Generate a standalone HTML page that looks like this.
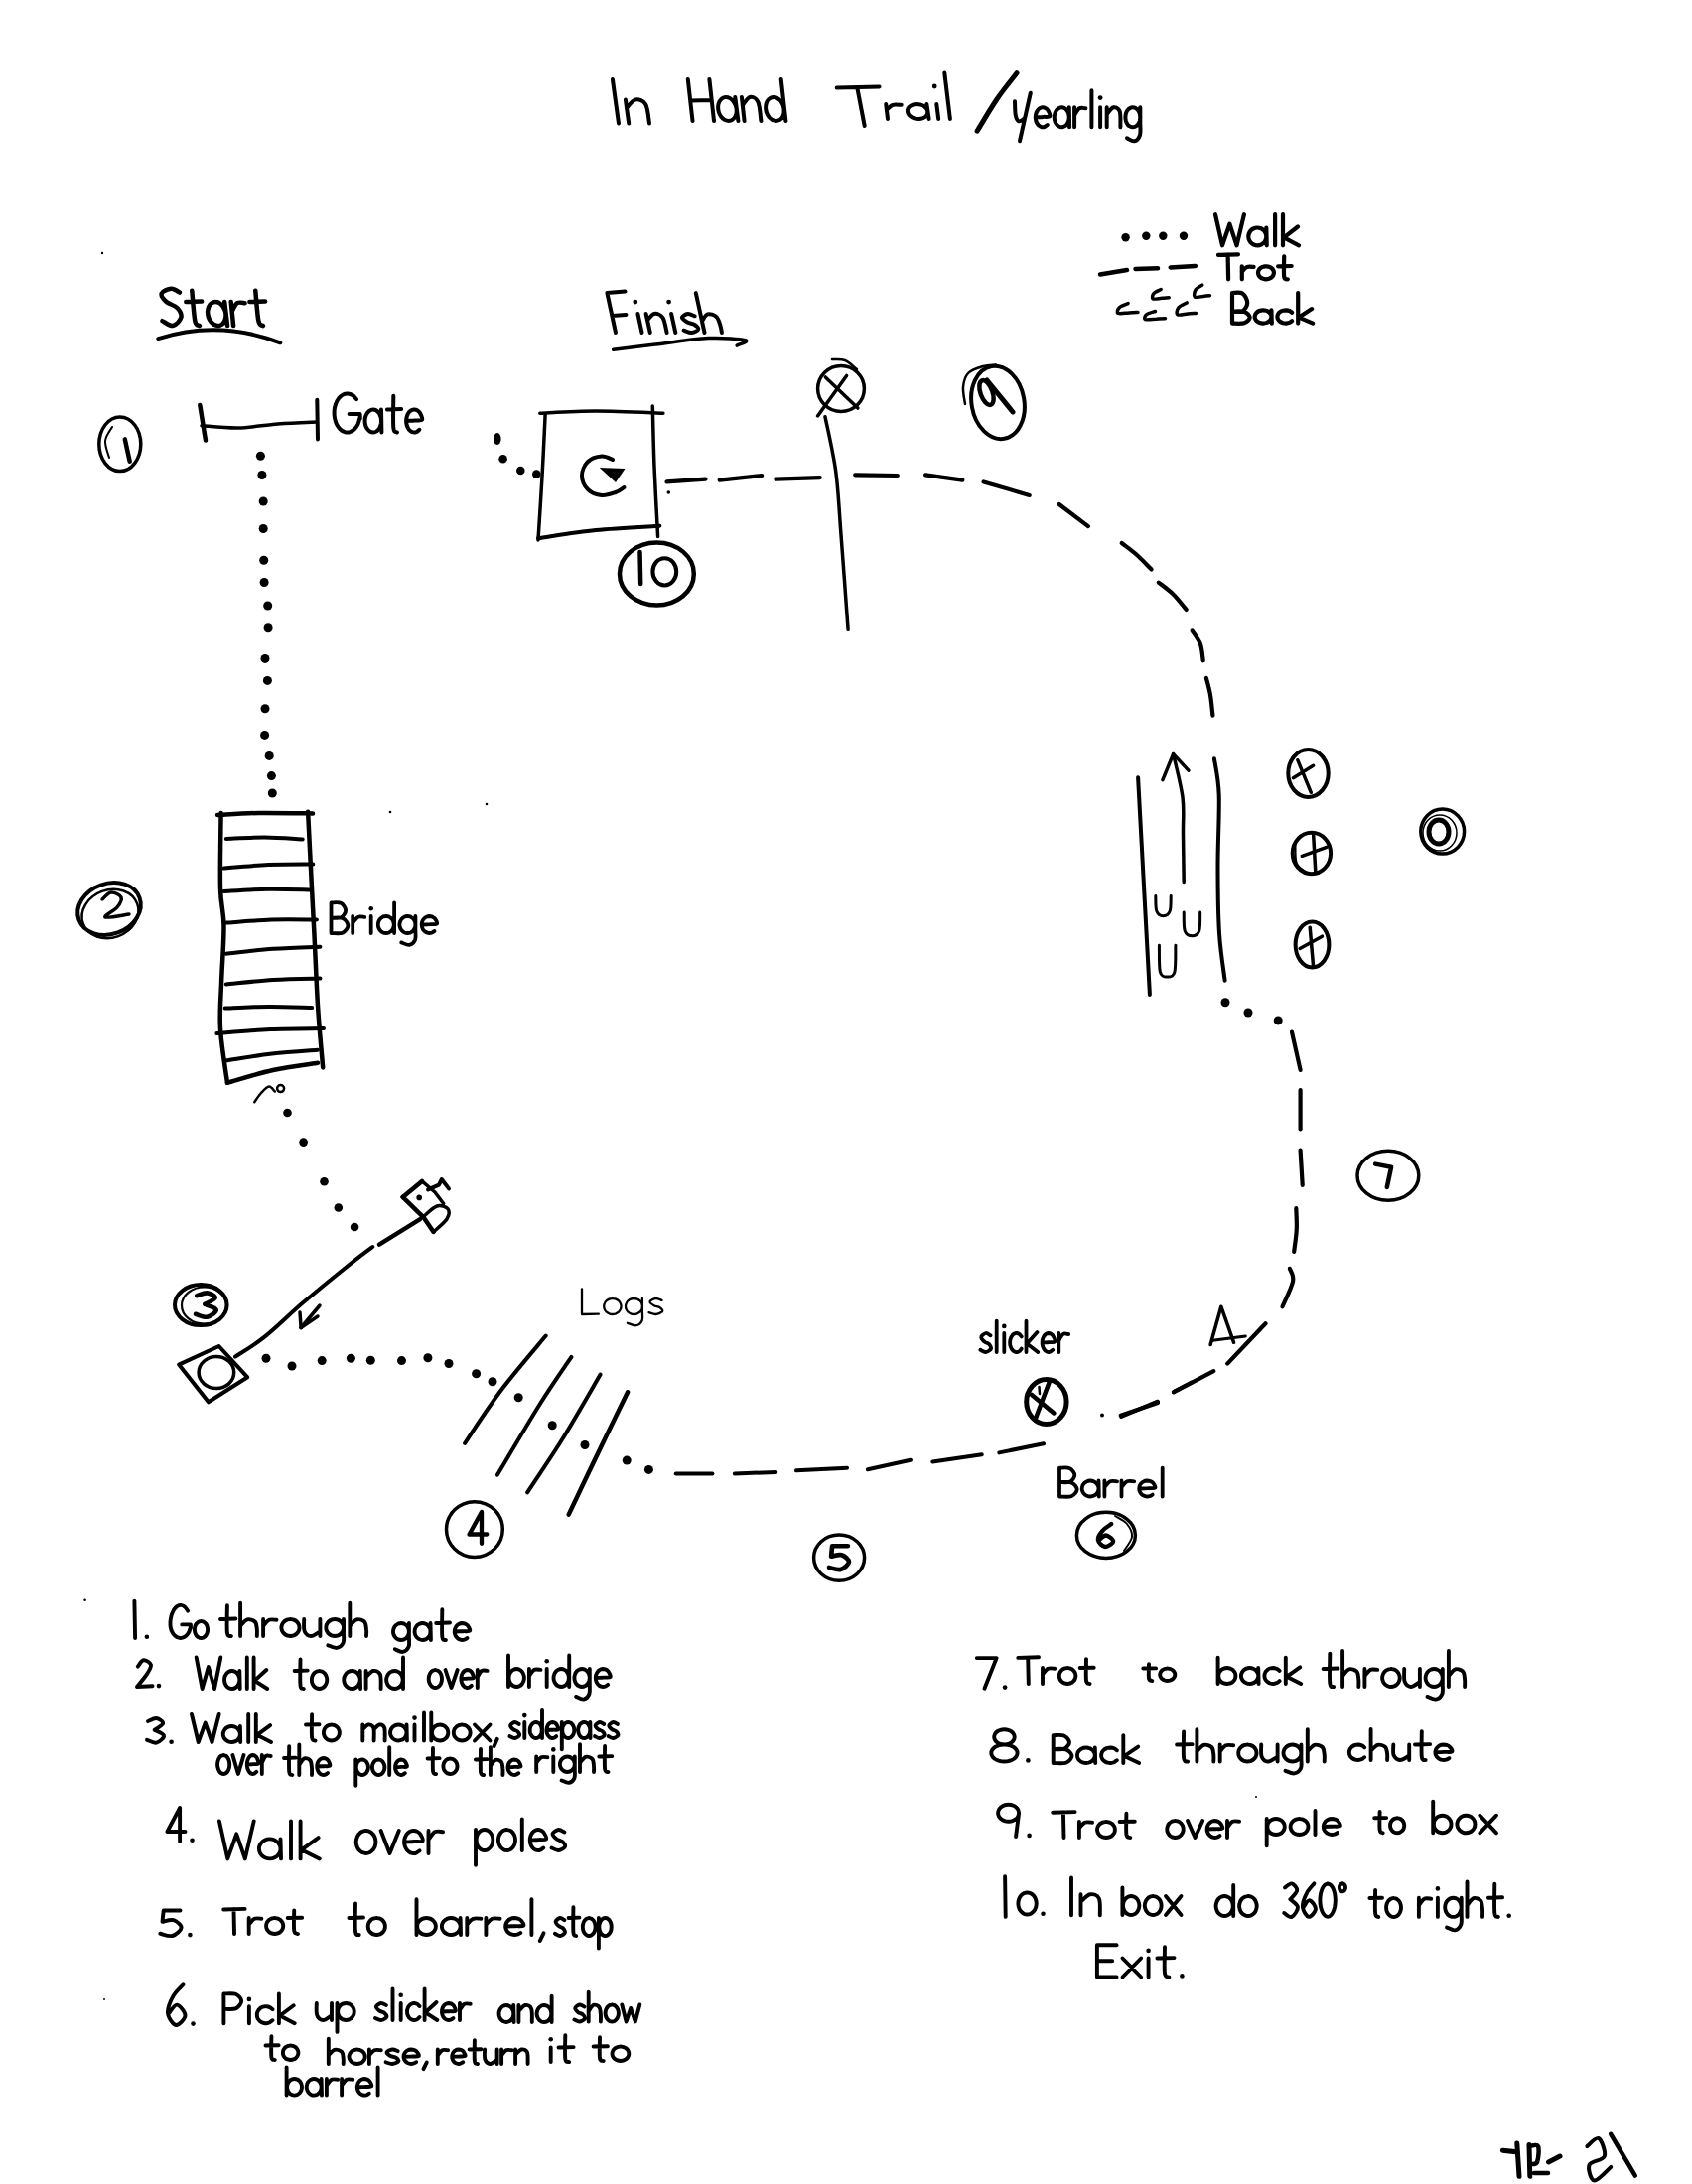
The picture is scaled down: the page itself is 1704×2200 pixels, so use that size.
<!DOCTYPE html>
<html><head><meta charset="utf-8"><style>
html,body{margin:0;padding:0;background:#fff;}
body{width:1704px;height:2200px;overflow:hidden;}
svg{display:block;}
svg path, svg ellipse, svg circle{fill:none;stroke:#000;stroke-linecap:round;stroke-linejoin:round;}
svg .f{fill:#000;stroke:none;}
svg text{font-family:"Liberation Sans",sans-serif;fill:#000;stroke:#000;}
svg text.tl{fill:#333;stroke:none;}
</style></head><body>
<svg width="1704" height="2200" viewBox="0 0 1704 2200">
<rect width="1704" height="2200" fill="#fff"/>
<path d="M616.9,80.1 L623.0,124.5M629.9,100.5 L633.2,124.5M631.0,108.9C632.5,107.5 636.8,101.1 640.0,100.5C643.2,99.9 648.0,101.3 650.3,105.3C652.6,109.3 653.4,121.3 654.0,124.5" stroke-width="4"/>
<path d="M692.8,80.0 L697.5,122.0M714.4,80.0 L719.0,122.0M695.2,101.6 L716.7,100.9M738.6,102.3C738.0,101.7 736.3,99.8 735.0,99.1C733.7,98.3 732.2,98.0 730.9,98.0C729.6,98.0 728.1,98.5 727.0,99.3C725.9,100.1 724.9,101.4 724.3,102.8C723.6,104.1 723.2,105.9 723.1,107.6C723.1,109.3 723.3,111.3 723.8,113.0C724.3,114.6 725.2,116.4 726.2,117.7C727.2,119.0 728.6,120.2 729.9,120.9C731.2,121.7 732.7,122.0 734.0,122.0C735.3,122.0 736.7,121.5 737.8,120.7C738.9,119.9 739.9,118.6 740.6,117.2C741.2,115.9 741.7,114.1 741.7,112.4C741.8,110.7 741.6,108.7 741.0,107.0C740.5,105.4 739.0,103.1 738.6,102.3M740.3,98.0 L743.4,122.0M746.9,98.0 L749.6,122.0M747.8,106.4C749.0,105.0 752.5,98.6 755.1,98.0C757.7,97.4 761.5,98.8 763.4,102.8C765.3,106.8 765.9,118.8 766.4,122.0M789.6,110.0C789.4,109.2 789.0,106.8 788.4,105.4C787.8,104.0 786.9,102.6 786.0,101.5C785.0,100.4 783.8,99.5 782.7,98.9C781.5,98.3 780.2,98.0 779.1,98.0C777.9,98.0 776.7,98.3 775.6,98.9C774.6,99.5 773.6,100.4 772.9,101.5C772.2,102.6 771.7,104.0 771.4,105.4C771.1,106.8 771.0,108.5 771.2,110.0C771.3,111.5 771.8,113.2 772.4,114.6C773.0,116.0 773.9,117.4 774.8,118.5C775.8,119.6 776.9,120.5 778.1,121.1C779.2,121.7 780.6,122.0 781.7,122.0C782.9,122.0 784.1,121.7 785.2,121.1C786.2,120.5 787.1,119.6 787.9,118.5C788.6,117.4 789.1,116.0 789.4,114.6C789.7,113.2 789.6,110.8 789.6,110.0M786.7,80.0 L791.4,122.0" stroke-width="4"/>
<path d="M842.7,88.4 L885.6,87.4M863.2,87.9 L870.7,127.0" stroke-width="4"/>
<circle cx="941.2" cy="87.0" r="2.4" class="f"/>
<path d="M892.2,105.0 L894.0,120.0M892.9,111.0C893.9,110.1 896.6,106.6 899.1,105.8C901.5,104.9 906.2,105.8 907.7,105.8M931.3,107.7C930.7,107.3 928.9,106.1 927.5,105.7C926.1,105.2 924.4,105.0 922.9,105.0C921.5,105.0 919.9,105.3 918.7,105.8C917.4,106.3 916.2,107.1 915.4,108.0C914.7,108.8 914.1,110.0 913.9,111.0C913.8,112.1 914.0,113.3 914.5,114.4C914.9,115.4 915.8,116.5 916.9,117.3C917.9,118.2 919.3,118.9 920.7,119.3C922.1,119.8 923.8,120.0 925.3,120.0C926.7,120.0 928.3,119.7 929.6,119.2C930.8,118.7 932.0,117.9 932.8,117.0C933.6,116.2 934.1,115.0 934.3,114.0C934.4,112.9 934.2,111.7 933.8,110.6C933.3,109.6 931.7,108.2 931.3,107.7M933.4,105.0 L935.6,120.0M943.3,105.0 L945.2,120.0M951.3,73.5 L956.9,120.0" stroke-width="4"/>
<path d="M1024.0,73.7C1020.7,78.1 1010.6,90.2 1004.0,100.0C997.4,109.8 987.4,126.8 984.1,132.2" stroke-width="5"/>
<circle cx="1108.1" cy="98.6" r="2.4" class="f"/>
<path d="M1022.0,102.2C1022.1,104.6 1022.1,113.0 1022.8,116.3C1023.5,119.6 1024.6,121.8 1026.2,122.3C1027.7,122.8 1031.0,119.8 1032.0,119.3M1037.8,93.7 L1027.0,142.3M1043.6,118.3C1044.8,118.2 1048.4,118.1 1050.6,117.9C1052.9,117.7 1056.5,118.4 1057.3,117.3C1058.1,116.2 1056.1,112.7 1055.4,111.3C1054.6,110.0 1053.8,109.5 1052.8,109.0C1051.9,108.5 1050.8,108.2 1049.8,108.3C1048.8,108.4 1047.7,108.8 1046.8,109.4C1045.9,110.0 1045.1,110.9 1044.5,112.0C1043.8,113.0 1043.3,114.4 1043.1,115.7C1042.8,117.0 1042.7,118.5 1042.9,119.9C1043.1,121.2 1043.5,122.7 1044.0,123.8C1044.6,124.9 1045.4,126.0 1046.2,126.7C1047.0,127.5 1048.1,128.0 1049.1,128.2C1050.1,128.4 1051.2,128.3 1052.1,127.9C1053.1,127.5 1054.4,126.3 1054.8,126.0M1075.0,111.9C1074.6,111.4 1073.3,109.8 1072.4,109.2C1071.4,108.6 1070.2,108.3 1069.1,108.3C1068.0,108.3 1066.8,108.7 1065.9,109.4C1064.9,110.1 1064.0,111.1 1063.3,112.3C1062.6,113.4 1062.1,114.9 1061.9,116.3C1061.7,117.7 1061.7,119.4 1062.0,120.8C1062.3,122.2 1062.8,123.6 1063.5,124.7C1064.2,125.8 1065.2,126.8 1066.2,127.4C1067.2,128.0 1068.4,128.3 1069.5,128.3C1070.5,128.3 1071.7,127.9 1072.7,127.2C1073.7,126.5 1074.6,125.5 1075.2,124.3C1075.9,123.2 1076.4,121.7 1076.6,120.3C1076.8,118.9 1076.8,117.2 1076.5,115.8C1076.3,114.4 1075.3,112.5 1075.0,111.9M1076.8,108.3 L1077.1,128.3M1082.1,108.3 L1082.1,128.3M1082.1,116.3C1082.9,115.1 1085.2,110.5 1087.1,109.3C1089.0,108.1 1092.4,109.3 1093.4,109.3M1099.4,91.3 L1099.4,128.3M1108.1,108.3 L1108.1,128.3M1114.7,108.3 L1114.7,128.3M1114.7,115.3C1115.8,114.1 1119.2,108.8 1121.4,108.3C1123.5,107.8 1126.5,109.0 1127.7,112.3C1128.9,115.6 1128.3,125.6 1128.4,128.3M1148.3,118.3C1148.2,117.7 1148.1,115.7 1147.8,114.5C1147.4,113.3 1146.8,112.1 1146.1,111.2C1145.5,110.3 1144.6,109.5 1143.7,109.1C1142.8,108.6 1141.8,108.3 1140.8,108.3C1139.9,108.3 1138.9,108.6 1138.0,109.1C1137.1,109.5 1136.2,110.3 1135.5,111.2C1134.9,112.1 1134.3,113.3 1133.9,114.5C1133.6,115.7 1133.4,117.0 1133.4,118.3C1133.4,119.6 1133.6,120.9 1133.9,122.1C1134.3,123.3 1134.9,124.5 1135.5,125.4C1136.2,126.3 1137.1,127.1 1138.0,127.5C1138.9,128.0 1139.9,128.3 1140.8,128.3C1141.8,128.3 1142.8,128.0 1143.7,127.5C1144.6,127.1 1145.5,126.3 1146.1,125.4C1146.8,124.5 1147.4,123.3 1147.8,122.1C1148.1,120.9 1148.2,118.9 1148.3,118.3M1148.3,108.3C1148.3,111.0 1148.4,119.6 1148.3,124.3C1148.3,129.0 1149.0,133.3 1148.0,136.3C1147.0,139.3 1144.7,141.8 1142.5,142.3C1140.3,142.8 1136.3,139.8 1135.0,139.3" stroke-width="4"/>
<path d="M180.9,294.6C179.5,293.9 175.4,290.6 172.4,290.8C169.4,291.0 163.5,293.3 162.7,295.5C161.9,297.7 165.0,301.6 167.6,304.0C170.3,306.4 175.9,307.4 178.4,310.0C180.8,312.6 183.1,316.6 182.4,319.6C181.7,322.6 177.3,327.4 174.1,328.0C171.0,328.6 165.3,324.0 163.5,323.2M193.3,292.7C193.8,297.8 195.1,317.3 196.3,323.2C197.6,329.1 200.1,327.2 200.9,328.0M187.3,304.0 L203.1,303.6M224.5,308.3C223.9,307.7 222.2,305.8 221.0,305.1C219.7,304.3 218.2,304.0 216.9,304.0C215.6,304.0 214.2,304.5 213.1,305.3C212.0,306.1 211.0,307.4 210.3,308.8C209.7,310.1 209.2,311.9 209.1,313.6C209.0,315.3 209.3,317.3 209.8,319.0C210.3,320.6 211.1,322.4 212.1,323.7C213.1,325.0 214.4,326.2 215.7,326.9C216.9,327.7 218.4,328.0 219.8,328.0C221.1,328.0 222.5,327.5 223.6,326.7C224.7,325.9 225.7,324.6 226.3,323.2C227.0,321.9 227.4,320.1 227.5,318.4C227.6,316.7 227.4,314.7 226.9,313.0C226.4,311.4 224.9,309.1 224.5,308.3M226.2,304.0 L229.1,328.0M232.7,304.0 L235.1,328.0M233.7,313.6C234.6,312.2 236.8,306.6 238.9,305.2C241.1,303.8 245.3,305.2 246.6,305.2M257.3,292.7C257.8,297.8 259.1,317.3 260.4,323.2C261.7,329.1 264.2,327.2 264.9,328.0M251.4,304.0 L267.1,303.6" stroke-width="4.5"/>
<path d="M159.3,341.2 Q220,321.5 282.3,345.3" stroke-width="4"/>
<ellipse cx="120.8" cy="447.3" rx="21.0" ry="27.3" stroke-width="3.5"/>
<path d="M125.8,442.4L130.7,464.7" stroke-width="4.5"/>
<path d="M113.0,430.0C111.8,432.3 106.5,438.8 106.0,444.0C105.5,449.2 109.3,458.2 110.0,461.0" stroke-width="2"/>
<path d="M201.3,408.0L207.0,443.5" stroke-width="4.5"/>
<path d="M203.0,428.7C209.2,429.1 227.2,431.3 240.0,431.0C252.8,430.7 266.8,428.0 280.0,427.0C293.2,426.0 312.8,425.3 319.3,425.0" stroke-width="3.5"/>
<path d="M319.3,402.7L320.0,442.4" stroke-width="4"/>
<path d="M359.1,402.1C358.4,401.4 356.5,399.0 355.0,398.0C353.6,397.1 351.8,396.5 350.2,396.4C348.6,396.3 346.9,396.7 345.4,397.5C343.9,398.3 342.4,399.6 341.1,401.1C339.9,402.7 338.8,404.7 338.1,406.8C337.3,408.9 336.8,411.4 336.6,413.8C336.5,416.1 336.6,418.7 337.0,421.0C337.4,423.3 338.2,425.6 339.1,427.6C340.1,429.5 341.4,431.2 342.7,432.5C344.1,433.8 345.7,434.7 347.3,435.2C348.9,435.6 350.6,435.6 352.2,435.2C353.8,434.7 355.4,433.8 356.8,432.5C358.1,431.2 359.4,429.5 360.4,427.6C361.3,425.6 362.1,422.1 362.5,421.0M362.8,421.7 L362.6,417.1 L351.6,417.1M382.1,416.6C381.6,416.1 380.3,414.2 379.2,413.5C378.1,412.8 376.8,412.5 375.6,412.5C374.4,412.5 373.1,413.0 372.0,413.8C371.0,414.5 369.9,415.7 369.2,417.1C368.5,418.4 367.9,420.1 367.7,421.7C367.5,423.4 367.5,425.2 367.8,426.8C368.1,428.4 368.7,430.1 369.5,431.4C370.2,432.7 371.3,433.8 372.4,434.5C373.5,435.2 374.8,435.5 376.0,435.5C377.2,435.5 378.5,435.0 379.5,434.2C380.6,433.5 381.6,432.3 382.4,430.9C383.1,429.6 383.6,427.9 383.9,426.3C384.1,424.6 384.1,422.8 383.8,421.2C383.5,419.6 382.4,417.4 382.1,416.6M384.0,412.5 L384.4,435.5M396.3,398.7C396.3,404.1 395.7,424.8 396.3,430.9C396.9,437.0 399.4,434.7 400.0,435.5M389.9,412.5 L404.2,412.0M410.1,424.0C411.3,423.9 415.2,423.7 417.8,423.5C420.3,423.3 424.2,424.1 425.1,422.9C426.0,421.6 423.8,417.6 423.0,416.0C422.2,414.4 421.2,413.9 420.2,413.3C419.2,412.7 417.9,412.4 416.8,412.5C415.8,412.6 414.6,413.0 413.6,413.7C412.6,414.4 411.6,415.5 410.9,416.7C410.3,418.0 409.7,419.5 409.4,421.0C409.1,422.5 409.1,424.3 409.2,425.8C409.4,427.4 409.9,429.0 410.5,430.3C411.1,431.6 411.9,432.9 412.9,433.7C413.8,434.5 414.9,435.2 416.0,435.4C417.1,435.6 418.3,435.5 419.4,435.1C420.5,434.6 421.9,433.2 422.4,432.8" stroke-width="4"/>
<circle cx="262.4" cy="459.2" r="4.5" class="f"/>
<circle cx="263.9" cy="478.5" r="4.5" class="f"/>
<circle cx="265.2" cy="505.0" r="4.5" class="f"/>
<circle cx="265.2" cy="532.5" r="4.5" class="f"/>
<circle cx="265.7" cy="564.2" r="4.5" class="f"/>
<circle cx="266.1" cy="586.5" r="4.5" class="f"/>
<circle cx="269.7" cy="610.0" r="4.5" class="f"/>
<circle cx="270.1" cy="632.7" r="4.5" class="f"/>
<circle cx="267.0" cy="663.4" r="4.5" class="f"/>
<circle cx="269.4" cy="685.4" r="4.5" class="f"/>
<circle cx="267.0" cy="713.8" r="4.5" class="f"/>
<circle cx="266.6" cy="740.4" r="4.5" class="f"/>
<circle cx="271.2" cy="761.4" r="4.5" class="f"/>
<circle cx="273.4" cy="781.6" r="4.5" class="f"/>
<circle cx="274.3" cy="799.0" r="4.5" class="f"/>
<path d="M222.6,818.9C222.5,831.5 221.5,875.7 222.0,894.6C222.5,913.5 225.3,916.7 225.5,932.4C225.7,948.1 223.7,971.7 223.1,989.0C222.5,1006.3 221.0,1019.4 222.0,1036.4C223.0,1053.4 227.8,1081.7 229.0,1090.8" stroke-width="4.5"/>
<path d="M310.1,817.7C310.8,830.5 312.9,873.9 314.0,894.6C315.1,915.3 315.5,922.1 316.5,941.8C317.5,961.5 318.6,990.5 320.0,1012.8C321.4,1035.1 324.3,1065.0 325.2,1075.4" stroke-width="4.5"/>
<path d="M219.0,821.0C225.8,820.7 244.0,819.2 260.0,819.0C276.0,818.8 305.8,819.4 315.0,819.5" stroke-width="4.5"/>
<path d="M227.8,844.9C234.2,844.7 253.4,843.6 266.2,843.6C279.1,843.7 298.3,845.1 304.7,845.4" stroke-width="4"/>
<path d="M225.5,874.5C233.0,873.9 255.4,871.6 270.4,871.0C285.4,870.3 307.8,870.5 315.3,870.4" stroke-width="4"/>
<path d="M225.5,898.0C232.9,897.6 255.0,896.0 269.8,895.8C284.6,895.5 306.7,896.4 314.1,896.5" stroke-width="4"/>
<path d="M227.8,929.6C235.4,929.1 258.2,927.1 273.4,926.5C288.5,926.0 311.3,926.5 318.9,926.5" stroke-width="4"/>
<path d="M227.8,960.8C235.7,960.0 259.3,956.9 275.1,955.8C290.9,954.6 314.5,954.0 322.4,953.7" stroke-width="4"/>
<path d="M227.8,991.5C235.7,990.8 259.3,988.0 275.1,987.0C290.9,986.1 314.5,985.8 322.4,985.6" stroke-width="4"/>
<path d="M226.7,1015.6C234.0,1015.3 255.8,1013.9 270.4,1013.9C285.0,1013.8 306.8,1014.9 314.1,1015.1" stroke-width="4"/>
<path d="M218.4,1041.1C227.4,1040.4 254.3,1037.9 272.2,1037.0C290.1,1036.2 317.0,1036.2 326.0,1036.0" stroke-width="4"/>
<path d="M227.8,1068.3C235.5,1067.2 258.5,1063.3 273.9,1061.5C289.3,1059.7 312.3,1058.3 320.0,1057.7" stroke-width="4"/>
<path d="M229.0,1090.8C236.7,1088.7 259.8,1081.3 275.0,1078.0C290.2,1074.7 312.5,1071.9 320.0,1070.7" stroke-width="4.5"/>
<circle cx="373.7" cy="915.2" r="2.3" class="f"/>
<path d="M333.5,909.4 L333.5,940.0M333.5,909.4C335.1,909.5 340.8,908.5 343.3,909.8C345.7,911.1 348.1,914.7 348.1,917.2C348.1,919.6 345.7,923.1 343.3,924.4C340.8,925.6 335.1,924.6 333.5,924.7M333.5,924.7C335.4,924.8 342.2,923.8 345.0,925.0C347.9,926.3 350.4,929.9 350.4,932.4C350.4,934.8 347.9,938.4 345.0,939.7C342.2,940.9 335.4,939.9 333.5,940.0M355.2,923.0 L355.2,940.0M355.2,929.8C356.1,928.8 358.5,924.8 360.5,923.9C362.5,922.9 366.1,923.9 367.3,923.9M373.7,923.0 L373.7,940.0M396.8,931.5C396.7,931.0 396.5,929.2 396.1,928.2C395.8,927.2 395.1,926.3 394.4,925.5C393.7,924.7 392.8,924.1 391.8,923.6C390.9,923.2 389.8,923.0 388.8,923.0C387.7,923.0 386.6,923.2 385.7,923.6C384.8,924.1 383.8,924.7 383.1,925.5C382.4,926.3 381.8,927.2 381.4,928.2C381.0,929.2 380.8,930.4 380.8,931.5C380.8,932.6 381.0,933.8 381.4,934.8C381.8,935.8 382.4,936.7 383.1,937.5C383.8,938.3 384.8,938.9 385.7,939.4C386.6,939.8 387.7,940.0 388.8,940.0C389.8,940.0 390.9,939.8 391.8,939.4C392.8,938.9 393.7,938.3 394.4,937.5C395.1,936.7 395.8,935.8 396.1,934.8C396.5,933.8 396.7,932.0 396.8,931.5M397.1,909.4 L397.1,940.0M418.4,931.5C418.3,931.0 418.2,929.2 417.8,928.2C417.4,927.2 416.8,926.3 416.1,925.5C415.4,924.7 414.4,924.1 413.5,923.6C412.6,923.2 411.5,923.0 410.4,923.0C409.4,923.0 408.3,923.2 407.4,923.6C406.4,924.1 405.5,924.7 404.8,925.5C404.1,926.3 403.4,927.2 403.1,928.2C402.7,929.2 402.4,930.4 402.4,931.5C402.4,932.6 402.7,933.8 403.1,934.8C403.4,935.8 404.1,936.7 404.8,937.5C405.5,938.3 406.4,938.9 407.4,939.4C408.3,939.8 409.4,940.0 410.4,940.0C411.5,940.0 412.6,939.8 413.5,939.4C414.4,938.9 415.4,938.3 416.1,937.5C416.8,936.7 417.4,935.8 417.8,934.8C418.2,933.8 418.3,932.0 418.4,931.5M418.4,923.0C418.4,925.3 418.5,932.6 418.4,936.6C418.4,940.6 419.1,944.2 418.1,946.8C417.0,949.3 414.5,951.5 412.2,951.9C409.9,952.3 405.6,949.8 404.2,949.4M425.5,931.5C426.8,931.4 430.6,931.3 433.0,931.2C435.4,931.0 439.3,931.6 440.1,930.6C441.0,929.7 438.9,926.8 438.1,925.6C437.3,924.4 436.3,924.0 435.4,923.6C434.4,923.2 433.2,923.0 432.1,923.0C431.1,923.1 429.9,923.4 429.0,923.9C428.0,924.4 427.1,925.2 426.4,926.1C425.7,927.0 425.2,928.2 424.9,929.3C424.6,930.4 424.6,931.7 424.8,932.9C424.9,934.0 425.4,935.2 425.9,936.2C426.5,937.1 427.4,938.0 428.3,938.7C429.2,939.3 430.3,939.7 431.3,939.9C432.4,940.1 433.6,940.0 434.6,939.7C435.6,939.4 437.0,938.3 437.5,938.0" stroke-width="3.8"/>
<ellipse cx="110.0" cy="915.5" rx="32.5" ry="25.5" stroke-width="4" transform="rotate(-20 110.0 915.5)"/>
<ellipse cx="111.0" cy="920.5" rx="29.0" ry="24.0" stroke-width="2.5" transform="rotate(-20 111.0 920.5)"/>
<path d="M103.0,906.0C104.5,904.8 108.8,899.3 112.0,899.0C115.2,898.7 121.0,901.5 122.0,904.0C123.0,906.5 120.7,910.7 118.0,914.0C115.3,917.3 104.0,922.8 106.0,924.0C108.0,925.2 126.0,921.5 130.0,921.0" stroke-width="3.5"/>
<path d="M256.3,1110.2C257.4,1108.7 260.6,1103.6 263.0,1101.0C265.4,1098.4 268.6,1094.8 270.9,1094.6C273.2,1094.3 275.8,1098.7 276.8,1099.5" stroke-width="2.5"/>
<circle cx="282.6" cy="1096.6" r="3.5" stroke-width="2.5"/>
<circle cx="289.5" cy="1121.0" r="4.3" class="f"/>
<circle cx="305.6" cy="1150.6" r="4.3" class="f"/>
<circle cx="326.5" cy="1190.2" r="4.3" class="f"/>
<circle cx="340.8" cy="1216.5" r="4.3" class="f"/>
<circle cx="357.1" cy="1236.0" r="4.3" class="f"/>
<path d="M405.6,1205.9 L425.0,1189.9" stroke-width="4.5"/>
<path d="M405.6,1205.9 L426.9,1226.7 L436.6,1240.9" stroke-width="4.5"/>
<path d="M425.0,1189.9 L438.0,1201.0 L446.7,1212.5" stroke-width="3.5"/>
<path d="M427.0,1225.0C429.2,1223.3 436.0,1216.2 440.0,1215.0C444.0,1213.8 449.3,1215.6 451.0,1217.8C452.7,1220.0 452.4,1224.2 450.0,1228.0C447.6,1231.8 438.8,1238.8 436.6,1240.9" stroke-width="3.5"/>
<path d="M431.1,1198.4 L442.0,1193.6 L444.8,1188.0 L452.0,1197.4" stroke-width="4"/>
<circle cx="422.2" cy="1206.4" r="2.8" class="f"/>
<path d="M423.1,1228.2 L382.0,1253.6" stroke-width="4.5"/>
<path d="M375.3,1256.0C370.7,1259.5 359.4,1267.8 347.7,1277.2C336.0,1286.6 318.6,1300.8 305.1,1312.3C291.6,1323.8 278.2,1337.4 266.8,1346.4C255.5,1355.5 242.0,1363.2 237.0,1366.6" stroke-width="4"/>
<path d="M322.0,1315.0 L303.1,1337.5" stroke-width="3.5"/>
<path d="M303.1,1337.5 L302.0,1322.0" stroke-width="3.5"/>
<path d="M303.1,1337.5 L320.0,1326.0" stroke-width="3.5"/>
<ellipse cx="202.3" cy="1314.6" rx="26.3" ry="20.5" stroke-width="4"/>
<ellipse cx="205.5" cy="1315.0" rx="22.5" ry="18.5" stroke-width="2.2"/>
<path d="M198.2,1305.2C199.9,1304.8 205.5,1302.0 208.6,1302.4C211.7,1302.7 217.1,1305.5 216.7,1307.4C216.3,1309.3 208.0,1312.8 206.3,1313.8M206.3,1313.8C208.2,1314.8 217.5,1317.4 217.8,1319.5C218.2,1321.7 212.1,1326.0 208.6,1326.7C205.1,1327.4 198.9,1324.3 197.0,1323.8" stroke-width="4.6"/>
<path d="M180.1,1374.6 L220.5,1356.0 L249.3,1387.3 L209.9,1412.3Z" stroke-width="4"/>
<ellipse cx="217.9" cy="1382.6" rx="17.8" ry="16.0" stroke-width="3.5"/>
<circle cx="268.0" cy="1368.3" r="4.5" class="f"/>
<circle cx="294.0" cy="1376.0" r="4.5" class="f"/>
<circle cx="324.2" cy="1370.6" r="4.5" class="f"/>
<circle cx="353.4" cy="1368.3" r="4.5" class="f"/>
<circle cx="373.3" cy="1370.2" r="4.5" class="f"/>
<circle cx="404.5" cy="1370.6" r="4.5" class="f"/>
<circle cx="430.9" cy="1367.7" r="4.5" class="f"/>
<circle cx="452.0" cy="1373.5" r="4.5" class="f"/>
<circle cx="479.6" cy="1383.7" r="4.5" class="f"/>
<circle cx="496.0" cy="1391.7" r="4.5" class="f"/>
<circle cx="522.2" cy="1407.7" r="4.5" class="f"/>
<circle cx="556.2" cy="1435.7" r="4.5" class="f"/>
<circle cx="589.0" cy="1455.5" r="4.5" class="f"/>
<circle cx="631.2" cy="1471.1" r="4.5" class="f"/>
<circle cx="653.4" cy="1480.4" r="4.5" class="f"/>
<path d="M549.7,1345.6C542.2,1354.7 518.6,1382.0 505.0,1400.0C491.4,1418.0 474.2,1444.8 468.1,1453.8" stroke-width="4"/>
<path d="M575.4,1366.9C570.1,1374.9 555.9,1395.0 543.5,1414.8C531.1,1434.6 508.0,1473.9 500.9,1485.7" stroke-width="4"/>
<path d="M604.6,1384.6C598.5,1395.0 580.2,1427.2 568.0,1447.0C555.8,1466.8 537.2,1494.0 531.1,1503.4" stroke-width="4"/>
<path d="M632.1,1402.3C627.6,1411.6 614.9,1437.5 605.0,1458.0C595.1,1478.5 578.1,1514.3 572.7,1525.6" stroke-width="4.5"/>
<path d="M586.0,1298.4 L586.0,1324.0 L602.9,1323.7M616.8,1308.0C616.3,1308.1 614.6,1308.2 613.5,1308.6C612.5,1309.0 611.5,1309.6 610.7,1310.3C609.9,1311.1 609.3,1312.0 608.9,1312.9C608.4,1313.9 608.2,1315.0 608.2,1316.0C608.2,1317.0 608.4,1318.1 608.9,1319.1C609.3,1320.0 609.9,1320.9 610.7,1321.7C611.5,1322.4 612.5,1323.0 613.5,1323.4C614.6,1323.8 615.7,1324.0 616.8,1324.0C617.9,1324.0 619.1,1323.8 620.2,1323.4C621.2,1323.0 622.2,1322.4 623.0,1321.7C623.7,1320.9 624.4,1320.0 624.8,1319.1C625.3,1318.1 625.5,1317.0 625.5,1316.0C625.5,1315.0 625.3,1313.9 624.8,1312.9C624.4,1312.0 623.7,1311.1 623.0,1310.3C622.2,1309.6 621.2,1309.0 620.2,1308.6C619.1,1308.2 617.4,1308.1 616.8,1308.0M646.9,1316.0C646.8,1315.5 646.7,1313.9 646.3,1312.9C645.9,1312.0 645.2,1311.1 644.5,1310.3C643.7,1309.6 642.7,1309.0 641.7,1308.6C640.7,1308.2 639.6,1308.0 638.5,1308.0C637.4,1308.0 636.2,1308.2 635.2,1308.6C634.2,1309.0 633.3,1309.6 632.5,1310.3C631.7,1311.1 631.1,1312.0 630.7,1312.9C630.2,1313.9 630.0,1315.0 630.0,1316.0C630.0,1317.0 630.2,1318.1 630.7,1319.1C631.1,1320.0 631.7,1320.9 632.5,1321.7C633.3,1322.4 634.2,1323.0 635.2,1323.4C636.2,1323.8 637.4,1324.0 638.5,1324.0C639.6,1324.0 640.7,1323.8 641.7,1323.4C642.7,1323.0 643.7,1322.4 644.5,1321.7C645.2,1320.9 645.9,1320.0 646.3,1319.1C646.7,1318.1 646.8,1316.5 646.9,1316.0M646.9,1308.0C646.9,1310.1 647.0,1317.1 646.9,1320.8C646.9,1324.5 647.7,1328.0 646.6,1330.4C645.5,1332.8 642.8,1334.8 640.4,1335.2C637.9,1335.6 633.3,1333.2 631.9,1332.8M666.5,1309.9C665.5,1309.6 662.5,1307.8 660.5,1308.0C658.5,1308.2 654.8,1310.0 654.5,1311.2C654.1,1312.4 656.9,1314.2 658.6,1315.2C660.3,1316.2 663.2,1316.3 664.6,1317.3C666.0,1318.3 667.7,1320.0 667.1,1321.1C666.4,1322.2 662.7,1323.8 660.5,1324.0C658.2,1324.2 654.7,1322.4 653.5,1322.1" stroke-width="2.3"/>
<ellipse cx="477.9" cy="1540.6" rx="28.4" ry="27.9" stroke-width="3.5"/>
<path d="M485.0,1554.8 L485.0,1523.0 L472.6,1545.5 L490.3,1545.5" stroke-width="4.3"/>
<path d="M680.7,1484.5 L717.4,1484.5" stroke-width="4"/>
<path d="M739.8,1484.5 L781.3,1482.9" stroke-width="4"/>
<path d="M802.0,1481.3 L853.1,1478.7" stroke-width="4"/>
<path d="M873.9,1480.3 L917.0,1470.8" stroke-width="4"/>
<path d="M939.3,1472.4 L988.8,1465.3" stroke-width="4"/>
<path d="M1006.3,1463.4 L1051.0,1454.2" stroke-width="4"/>
<path d="M1129.2,1427.0 L1165.9,1411.7" stroke-width="4"/>
<path d="M1181.9,1402.1 L1200.0,1392.6" stroke-width="4"/>
<circle cx="1110.0" cy="1425.4" r="2" class="f"/>
<circle cx="1011.3" cy="1335.9" r="2.3" class="f"/>
<path d="M997.5,1345.3C996.7,1344.9 994.4,1342.7 992.8,1343.0C991.3,1343.3 988.4,1345.4 988.2,1346.8C987.9,1348.2 990.1,1350.3 991.4,1351.5C992.7,1352.8 995.0,1352.8 996.1,1354.0C997.2,1355.2 998.5,1357.2 998.0,1358.6C997.4,1359.9 994.6,1361.8 992.8,1362.0C991.1,1362.2 988.3,1360.1 987.4,1359.7M1003.7,1330.7 L1003.7,1362.0M1011.3,1343.0 L1011.3,1362.0M1028.7,1346.4C1028.4,1346.0 1027.4,1344.6 1026.7,1344.0C1025.9,1343.4 1025.0,1343.1 1024.1,1343.0C1023.2,1342.9 1022.3,1343.1 1021.5,1343.6C1020.6,1344.0 1019.8,1344.7 1019.2,1345.6C1018.6,1346.5 1018.0,1347.6 1017.7,1348.7C1017.3,1349.9 1017.1,1351.2 1017.1,1352.5C1017.1,1353.8 1017.3,1355.1 1017.7,1356.3C1018.0,1357.4 1018.6,1358.5 1019.2,1359.4C1019.8,1360.3 1020.6,1361.0 1021.5,1361.4C1022.3,1361.9 1023.2,1362.1 1024.1,1362.0C1025.0,1361.9 1025.9,1361.6 1026.7,1361.0C1027.4,1360.4 1028.4,1359.0 1028.7,1358.6M1033.5,1330.7 L1033.5,1362.0M1044.5,1342.1 L1034.2,1353.5 L1045.2,1362.0M1050.3,1352.5C1051.3,1352.4 1054.5,1352.3 1056.5,1352.1C1058.5,1352.0 1061.6,1352.6 1062.3,1351.5C1063.0,1350.5 1061.3,1347.2 1060.6,1345.9C1060.0,1344.6 1059.2,1344.1 1058.4,1343.7C1057.6,1343.2 1056.6,1343.0 1055.7,1343.0C1054.9,1343.1 1053.9,1343.4 1053.1,1344.0C1052.4,1344.6 1051.6,1345.5 1051.0,1346.5C1050.5,1347.5 1050.0,1348.8 1049.8,1350.0C1049.6,1351.3 1049.5,1352.7 1049.7,1354.0C1049.8,1355.3 1050.2,1356.6 1050.7,1357.7C1051.1,1358.8 1051.8,1359.8 1052.6,1360.5C1053.3,1361.2 1054.2,1361.7 1055.1,1361.9C1056.0,1362.1 1056.9,1362.0 1057.8,1361.6C1058.6,1361.3 1059.8,1360.1 1060.2,1359.8M1066.3,1343.0 L1066.3,1362.0M1066.3,1350.6C1067.0,1349.5 1069.0,1345.1 1070.7,1344.0C1072.3,1342.8 1075.3,1344.0 1076.2,1344.0" stroke-width="3.8"/>
<ellipse cx="1053.9" cy="1412.0" rx="20.2" ry="22.5" stroke-width="5"/>
<path d="M1057.2,1391.0 L1043.2,1428.0" stroke-width="4.5"/>
<path d="M1039.0,1405.0 L1061.4,1423.4" stroke-width="4.5"/>
<path d="M1046.5,1397.0 L1047.0,1404.0" stroke-width="2.5"/>
<path d="M1067.0,1478.7 L1067.0,1507.5M1067.0,1478.7C1068.7,1478.8 1074.7,1477.8 1077.2,1479.1C1079.8,1480.3 1082.3,1483.7 1082.3,1486.0C1082.3,1488.3 1079.8,1491.6 1077.2,1492.8C1074.7,1494.0 1068.7,1493.0 1067.0,1493.1M1067.0,1493.1C1069.0,1493.2 1076.1,1492.2 1079.1,1493.4C1082.0,1494.6 1084.7,1498.0 1084.7,1500.3C1084.7,1502.6 1082.0,1506.0 1079.1,1507.2C1076.1,1508.4 1069.0,1507.4 1067.0,1507.5M1104.5,1494.4C1104.0,1494.0 1102.6,1492.7 1101.5,1492.2C1100.4,1491.7 1099.1,1491.5 1097.9,1491.5C1096.7,1491.5 1095.3,1491.9 1094.3,1492.4C1093.2,1492.9 1092.1,1493.7 1091.4,1494.7C1090.7,1495.6 1090.1,1496.8 1089.9,1497.9C1089.6,1499.0 1089.7,1500.4 1090.0,1501.5C1090.3,1502.6 1090.9,1503.8 1091.7,1504.6C1092.4,1505.5 1093.5,1506.3 1094.6,1506.8C1095.7,1507.3 1097.1,1507.5 1098.3,1507.5C1099.5,1507.5 1100.8,1507.1 1101.9,1506.6C1103.0,1506.1 1104.0,1505.3 1104.8,1504.3C1105.5,1503.4 1106.0,1502.2 1106.3,1501.1C1106.5,1500.0 1106.5,1498.6 1106.2,1497.5C1105.9,1496.4 1104.8,1494.9 1104.5,1494.4M1106.5,1491.5 L1106.8,1507.5M1112.4,1491.5 L1112.4,1507.5M1112.4,1497.9C1113.3,1497.0 1115.9,1493.2 1118.0,1492.3C1120.1,1491.4 1123.9,1492.3 1125.1,1492.3M1129.5,1491.5 L1129.5,1507.5M1129.5,1497.9C1130.5,1497.0 1133.0,1493.2 1135.1,1492.3C1137.2,1491.4 1141.0,1492.3 1142.2,1492.3M1148.1,1499.5C1149.4,1499.4 1153.4,1499.3 1155.9,1499.2C1158.5,1499.0 1162.5,1499.6 1163.4,1498.7C1164.3,1497.8 1162.1,1495.0 1161.3,1493.9C1160.4,1492.8 1159.5,1492.5 1158.4,1492.1C1157.4,1491.7 1156.2,1491.5 1155.0,1491.5C1153.9,1491.6 1152.7,1491.9 1151.7,1492.4C1150.7,1492.8 1149.7,1493.6 1149.0,1494.4C1148.3,1495.3 1147.8,1496.4 1147.5,1497.4C1147.2,1498.5 1147.1,1499.7 1147.3,1500.8C1147.5,1501.9 1147.9,1503.0 1148.6,1503.9C1149.2,1504.8 1150.0,1505.7 1151.0,1506.2C1151.9,1506.8 1153.1,1507.3 1154.2,1507.4C1155.3,1507.6 1156.6,1507.5 1157.6,1507.2C1158.7,1506.9 1160.1,1505.9 1160.7,1505.6M1170.7,1478.7 L1170.7,1507.5" stroke-width="3.8"/>
<ellipse cx="845.1" cy="1569.1" rx="25.5" ry="23.1" stroke-width="3.5"/>
<path d="M853.9,1557.2 L838.1,1557.2 L837.1,1567.7M837.1,1567.7C838.9,1567.5 844.6,1565.4 847.6,1566.3C850.6,1567.2 855.1,1570.8 855.0,1573.3C854.8,1575.8 849.9,1580.1 846.5,1581.0C843.2,1581.9 836.9,1579.2 835.0,1578.9" stroke-width="4.6"/>
<ellipse cx="1113.9" cy="1546.4" rx="29.5" ry="23.1" stroke-width="3.5"/>
<path d="M1123.0,1527.0C1125.0,1528.3 1132.2,1531.5 1135.0,1535.0C1137.8,1538.5 1140.5,1543.5 1140.0,1548.0C1139.5,1552.5 1133.3,1559.7 1132.0,1562.0" stroke-width="2"/>
<path d="M1119.3,1535.0C1117.8,1536.2 1112.6,1539.1 1110.4,1541.8C1108.1,1544.5 1105.4,1548.5 1105.9,1551.2C1106.3,1554.0 1110.5,1557.8 1113.1,1558.0C1115.6,1558.2 1121.0,1554.5 1121.1,1552.6C1121.3,1550.7 1116.3,1546.8 1113.9,1546.5C1111.6,1546.3 1108.0,1550.5 1106.8,1551.2" stroke-width="4.3"/>
<path d="M1301.0,1039.6L1309.6,1077.9" stroke-width="4.2"/>
<path d="M1309.6,1098.0L1309.6,1137.4" stroke-width="4.2"/>
<path d="M1309.6,1158.7L1311.7,1193.8" stroke-width="4.2"/>
<path d="M1305.3,1217.2C1305.4,1220.7 1306.1,1230.7 1305.8,1238.0C1305.5,1245.3 1303.6,1257.1 1303.2,1260.9" stroke-width="4.2"/>
<path d="M1298.9,1277.9C1299.4,1280.0 1303.3,1284.2 1302.1,1290.6C1300.9,1297.0 1293.3,1311.9 1291.5,1316.2" stroke-width="4.2"/>
<path d="M1274.5,1333.2L1236.2,1373.6" stroke-width="4.2"/>
<path d="M1222.3,1381.1L1181.9,1402.3" stroke-width="4.2"/>
<path d="M1166.0,1413.0L1128.7,1425.7" stroke-width="4.2"/>
<path d="M1219.1,1354.5 L1229.8,1316.2 L1242.6,1352.3" stroke-width="3.5"/>
<path d="M1221.3,1350.2 L1254.3,1346.0" stroke-width="3"/>
<ellipse cx="1397.9" cy="1184.3" rx="30.9" ry="25.0" stroke-width="3.5"/>
<path d="M1385.1,1172.6 L1401.1,1175.7 L1396.8,1196.0" stroke-width="4.5"/>
<circle cx="1234.0" cy="1009.8" r="4.5" class="f"/>
<circle cx="1257.0" cy="1020.0" r="4.5" class="f"/>
<circle cx="1287.2" cy="1027.9" r="4.5" class="f"/>
<path d="M1146.1,783.2C1146.7,794.0 1148.4,826.3 1149.6,848.2C1150.8,870.1 1151.8,888.8 1153.2,914.4C1154.6,940.0 1157.1,987.3 1157.9,1001.9" stroke-width="4"/>
<path d="M1222.9,764.3C1223.7,770.4 1227.1,783.0 1227.7,800.9C1228.3,818.8 1226.5,848.6 1226.5,871.8C1226.5,895.0 1226.8,920.7 1228.0,940.0C1229.2,959.3 1232.7,979.8 1233.6,987.7" stroke-width="4"/>
<path d="M1192.2,888.4C1192.1,880.3 1191.7,854.2 1191.5,840.0C1191.3,825.8 1192.7,816.7 1191.0,803.3C1189.3,789.9 1183.2,766.9 1181.6,759.6" stroke-width="3.5"/>
<path d="M1170.9,785.6 L1181.6,759.6 L1196.9,776.1" stroke-width="3.5"/>
<path d="M1163.8,902.6C1164.0,905.1 1163.5,914.4 1164.8,917.7C1166.1,921.1 1169.3,922.7 1171.5,922.7C1173.7,922.7 1176.9,921.1 1178.2,917.7C1179.5,914.4 1179.0,905.1 1179.2,902.6" stroke-width="3"/>
<path d="M1192.2,919.1C1192.4,922.2 1191.8,933.8 1193.2,937.8C1194.6,941.8 1198.0,942.8 1200.5,942.8C1202.9,942.8 1206.3,941.8 1207.7,937.8C1209.1,933.8 1208.5,922.2 1208.7,919.1" stroke-width="3"/>
<path d="M1167.4,952.2C1167.6,956.7 1167.0,973.8 1168.4,979.1C1169.8,984.4 1173.2,984.1 1175.7,984.1C1178.1,984.1 1181.5,984.4 1182.9,979.1C1184.3,973.8 1183.7,956.7 1183.9,952.2" stroke-width="3"/>
<ellipse cx="1317.5" cy="779.0" rx="20.2" ry="23.9" stroke-width="4"/>
<path d="M1306.8,765.7 L1320.3,798.3" stroke-width="3.5"/>
<path d="M1302.4,783.7 L1322.6,771.3" stroke-width="3.5"/>
<ellipse cx="1320.9" cy="859.5" rx="19.2" ry="20.8" stroke-width="4"/>
<path d="M1304.5,850.0C1304.8,853.3 1303.8,865.0 1306.0,870.0C1308.2,875.0 1316.0,878.3 1318.0,880.0" stroke-width="2"/>
<path d="M1322.6,839.8 L1324.8,878.0" stroke-width="3.5"/>
<path d="M1311.3,862.3 L1336.0,853.3" stroke-width="3.5"/>
<ellipse cx="1321.5" cy="951.5" rx="16.9" ry="23.0" stroke-width="4"/>
<path d="M1319.2,934.2 L1322.6,973.5" stroke-width="3.5"/>
<path d="M1309.1,955.5 L1331.5,943.2" stroke-width="3.5"/>
<ellipse cx="1452.7" cy="837.6" rx="21.9" ry="22.5" stroke-width="3.5"/>
<ellipse cx="1450.0" cy="839.0" rx="17.0" ry="18.0" stroke-width="1.5"/>
<ellipse cx="1449.0" cy="838.0" rx="10.0" ry="12.0" stroke-width="5"/>
<path d="M671.5,485.4L710.5,482.6" stroke-width="4.2"/>
<path d="M724.7,483.6L767.2,479.0" stroke-width="4.2"/>
<path d="M781.4,482.6L825.7,481.1" stroke-width="4.2"/>
<path d="M861.2,478.3L903.8,479.0" stroke-width="4.2"/>
<path d="M932.1,478.3L969.4,483.6" stroke-width="4.2"/>
<path d="M990.6,485.4L1036.7,498.9" stroke-width="4.2"/>
<path d="M1066.7,508.0L1095.9,530.1" stroke-width="4.2"/>
<path d="M1129.7,547.0C1132.2,549.0 1140.0,554.6 1145.0,559.0C1150.0,563.4 1157.2,571.2 1159.6,573.6" stroke-width="4.2"/>
<path d="M1166.8,586.6C1169.2,588.5 1176.3,593.5 1181.0,598.0C1185.7,602.5 1192.4,611.2 1194.7,613.9" stroke-width="4.2"/>
<path d="M1200.6,635.4C1202.0,637.7 1207.2,644.0 1209.0,649.0C1210.8,654.0 1211.2,662.6 1211.7,665.3" stroke-width="4.2"/>
<path d="M1214.9,682.9C1215.6,685.8 1217.9,693.7 1219.0,700.0C1220.1,706.3 1221.0,717.2 1221.4,720.6" stroke-width="4.2"/>
<circle cx="673.3" cy="496.0" r="1.8" class="f"/>
<ellipse cx="847.0" cy="391.4" rx="23.4" ry="23.0" stroke-width="3.5"/>
<path d="M831.3,379.9 L863.9,411.1" stroke-width="3.5"/>
<path d="M852.6,378.4 L823.5,418.9" stroke-width="3.5"/>
<path d="M838.0,362.0C840.2,362.2 846.8,361.3 851.0,363.0C855.2,364.7 861.0,370.5 863.0,372.0" stroke-width="2.5"/>
<path d="M831.0,419.8C832.8,429.0 839.0,455.0 841.7,474.8C844.4,494.6 844.9,512.0 847.0,538.6C849.1,565.2 852.9,618.3 854.1,634.3" stroke-width="3.5"/>
<ellipse cx="1005.0" cy="405.4" rx="26.5" ry="37.0" stroke-width="4" transform="rotate(-10 1005.0 405.4)"/>
<path d="M972.0,407.0C971.7,404.2 969.5,395.2 970.0,390.0C970.5,384.8 971.7,379.5 975.0,376.0C978.3,372.5 985.3,370.4 990.0,369.0C994.7,367.6 1000.8,367.8 1003.0,367.5" stroke-width="2.5"/>
<ellipse cx="993.5" cy="395.5" rx="6.0" ry="13.0" stroke-width="4.5" transform="rotate(-20 993.5 395.5)"/>
<path d="M994.0,383.0 L1020.0,415.0" stroke-width="5"/>
<path d="M543.8,416.2C553.2,415.8 579.3,414.0 600.0,414.0C620.7,414.0 656.6,415.8 667.9,416.2" stroke-width="3.5"/>
<path d="M549.1,418.0C548.6,428.3 547.2,459.0 546.0,480.0C544.8,501.0 542.7,533.2 542.0,543.9" stroke-width="3.5"/>
<path d="M542.0,542.1C551.7,540.8 579.6,536.1 600.0,534.0C620.4,531.9 653.7,530.4 664.4,529.7" stroke-width="4"/>
<path d="M657.3,409.1C657.6,419.2 658.1,448.1 659.0,470.0C659.9,491.9 662.0,528.7 662.6,540.4" stroke-width="3.5"/>
<path d="M617.0,463.0C615.2,462.4 610.2,459.2 606.0,459.5C601.8,459.8 595.3,461.8 592.0,465.0C588.7,468.2 586.0,474.3 586.0,479.0C586.0,483.7 588.7,489.7 592.0,493.0C595.3,496.3 601.3,498.5 606.0,499.0C610.7,499.5 616.2,497.3 620.0,496.0C623.8,494.7 627.1,491.8 628.5,491.0" stroke-width="4"/>
<path d="M603.7,471 L629.5,472 L620,486 Z" class="f"/>
<ellipse cx="500.8" cy="442" rx="3.8" ry="6" class="f"/>
<circle cx="506.6" cy="462.3" r="4.3" class="f"/>
<circle cx="524.3" cy="474.0" r="4.3" class="f"/>
<circle cx="540.3" cy="477.6" r="4.3" class="f"/>
<ellipse cx="661.4" cy="577.9" rx="37.4" ry="31.5" stroke-width="4.5"/>
<path d="M644.5,556.0L645.2,588.0" stroke-width="4.5"/>
<ellipse cx="669.3" cy="575.8" rx="11.9" ry="13.6" stroke-width="4"/>
<circle cx="639.8" cy="304.1" r="2.4" class="f"/>
<circle cx="673.6" cy="304.1" r="2.4" class="f"/>
<path d="M611.4,295.1 L620.0,335.0M611.4,295.1 L629.5,293.6M616.3,317.9 L630.5,316.9M642.4,316.0 L646.5,335.0M650.6,316.0 L654.8,335.0M652.1,322.6C653.2,321.5 656.3,316.5 658.9,316.0C661.4,315.5 665.4,316.6 667.5,319.8C669.6,323.0 670.9,332.5 671.6,335.0M676.1,316.0 L680.3,335.0M699.7,318.3C698.5,317.9 694.7,315.7 692.6,316.0C690.5,316.3 686.9,318.4 686.8,319.8C686.8,321.2 690.3,323.3 692.4,324.6C694.5,325.8 697.7,325.8 699.5,327.0C701.3,328.2 703.6,330.2 703.2,331.6C702.7,332.9 699.1,334.8 696.7,335.0C694.3,335.2 690.0,333.1 688.6,332.7M700.8,295.1 L709.5,335.0M707.0,323.6C707.9,322.4 710.2,317.2 712.6,316.4C715.0,315.6 719.3,317.0 721.4,318.9C723.5,320.7 724.4,324.7 725.3,327.4C726.2,330.1 726.7,333.7 726.9,335.0" stroke-width="4"/>
<path d="M617.7,352.3C624.8,351.4 644.0,348.9 660.0,347.0C676.0,345.1 698.3,341.3 713.4,340.6C728.5,339.9 745.8,341.6 750.6,342.8C755.4,344.1 743.5,347.2 742.1,348.1" stroke-width="3.5"/>
<circle cx="1133.6" cy="239.2" r="4.2" class="f"/>
<circle cx="1154.3" cy="237.7" r="4.2" class="f"/>
<circle cx="1171.3" cy="237.7" r="4.2" class="f"/>
<circle cx="1192.0" cy="237.7" r="4.2" class="f"/>
<path d="M1224.0,216.2 L1231.0,247.3 L1238.4,225.7 L1245.5,247.3 L1252.9,216.2M1273.2,232.7C1272.6,232.3 1271.2,230.8 1270.0,230.3C1268.8,229.8 1267.4,229.5 1266.1,229.5C1264.8,229.5 1263.4,229.9 1262.2,230.5C1261.0,231.1 1259.9,232.0 1259.1,233.0C1258.4,234.1 1257.8,235.4 1257.5,236.6C1257.2,237.9 1257.3,239.3 1257.6,240.6C1257.9,241.8 1258.6,243.1 1259.4,244.1C1260.3,245.1 1261.4,246.0 1262.6,246.5C1263.8,247.0 1265.2,247.3 1266.5,247.3C1267.8,247.3 1269.2,246.9 1270.4,246.3C1271.6,245.7 1272.7,244.8 1273.5,243.8C1274.2,242.7 1274.8,241.4 1275.1,240.2C1275.4,238.9 1275.3,237.5 1275.0,236.2C1274.7,235.0 1273.5,233.3 1273.2,232.7M1275.3,229.5 L1275.7,247.3M1284.1,216.2 L1284.1,247.3M1292.0,216.2 L1292.0,247.3M1307.0,228.5 L1293.0,239.3 L1308.0,247.3" stroke-width="4.2"/>
<path d="M1108.0,276.5 L1135.0,272.0" stroke-width="4.5"/>
<path d="M1143.5,270.9 L1166.0,270.2" stroke-width="4.5"/>
<path d="M1178.7,269.4 L1203.8,268.0" stroke-width="4.5"/>
<path d="M1227.0,256.9 L1247.0,256.3M1236.6,256.6 L1237.1,281.3M1250.8,268.3 L1250.8,281.3M1250.8,273.5C1251.7,272.7 1254.0,269.7 1256.0,268.9C1258.0,268.2 1261.5,268.9 1262.6,268.9M1274.9,268.3C1274.4,268.4 1272.8,268.5 1271.9,268.8C1270.9,269.1 1270.0,269.6 1269.3,270.2C1268.6,270.8 1268.0,271.5 1267.6,272.3C1267.2,273.1 1267.0,274.0 1267.0,274.8C1267.0,275.6 1267.2,276.5 1267.6,277.3C1268.0,278.1 1268.6,278.8 1269.3,279.4C1270.0,280.0 1270.9,280.5 1271.9,280.8C1272.8,281.1 1273.9,281.3 1274.9,281.3C1276.0,281.3 1277.1,281.1 1278.0,280.8C1278.9,280.5 1279.9,280.0 1280.6,279.4C1281.3,278.8 1281.9,278.1 1282.3,277.3C1282.7,276.5 1282.9,275.6 1282.9,274.8C1282.9,274.0 1282.7,273.1 1282.3,272.3C1281.9,271.5 1281.3,270.8 1280.6,270.2C1279.9,269.6 1278.9,269.1 1278.0,268.8C1277.1,268.5 1275.5,268.4 1274.9,268.3M1293.2,258.3C1293.2,261.7 1292.6,274.9 1293.2,278.7C1293.8,282.5 1296.1,280.9 1296.7,281.3M1287.1,268.3 L1300.7,268.0" stroke-width="4.2"/>
<path d="M1136.1,305.6C1134.6,306.3 1128.9,308.0 1127.3,309.7C1125.7,311.3 1124.5,314.7 1126.2,315.5C1127.9,316.4 1133.9,315.1 1137.2,314.9C1140.5,314.8 1144.5,314.5 1146.0,314.4" stroke-width="3.5"/>
<path d="M1163.5,313.5C1162.0,314.0 1156.3,315.5 1154.6,316.8C1153.0,318.2 1151.9,320.9 1153.5,321.6C1155.2,322.4 1161.3,321.3 1164.6,321.2C1167.9,321.0 1172.0,320.8 1173.5,320.7" stroke-width="3.5"/>
<path d="M1169.2,291.5C1168.0,292.1 1163.4,293.8 1162.1,295.3C1160.7,296.9 1159.8,300.1 1161.2,300.9C1162.5,301.7 1167.4,300.5 1170.1,300.3C1172.8,300.1 1176.0,299.9 1177.2,299.8" stroke-width="3.5"/>
<path d="M1195.2,304.9C1193.8,305.7 1188.5,307.8 1186.9,309.8C1185.4,311.8 1184.3,315.8 1185.9,316.8C1187.4,317.9 1193.1,316.3 1196.2,316.1C1199.3,315.9 1203.1,315.5 1204.5,315.4" stroke-width="3.5"/>
<path d="M1210.8,287.1C1209.7,287.9 1205.3,290.0 1204.0,292.0C1202.8,294.0 1201.9,298.0 1203.2,299.1C1204.5,300.1 1209.2,298.6 1211.7,298.4C1214.2,298.1 1217.4,297.8 1218.5,297.7" stroke-width="3.5"/>
<path d="M1241.0,295.0 L1241.0,325.6M1241.0,295.0C1242.7,295.1 1248.7,293.9 1251.2,295.5C1253.8,297.2 1256.2,301.9 1256.2,304.9C1256.2,307.9 1253.8,311.9 1251.2,313.4C1248.7,314.8 1242.7,313.6 1241.0,313.6M1241.0,313.6C1243.0,313.7 1250.1,312.9 1253.1,313.9C1256.0,314.9 1258.7,317.7 1258.7,319.6C1258.7,321.5 1256.0,324.3 1253.1,325.3C1250.1,326.3 1243.0,325.6 1241.0,325.6M1278.5,314.7C1278.0,314.4 1276.6,313.3 1275.5,312.9C1274.4,312.5 1273.1,312.3 1271.8,312.3C1270.6,312.3 1269.3,312.6 1268.2,313.0C1267.2,313.5 1266.1,314.2 1265.4,314.9C1264.7,315.7 1264.1,316.7 1263.9,317.6C1263.6,318.6 1263.6,319.7 1263.9,320.6C1264.2,321.5 1264.9,322.5 1265.6,323.2C1266.4,324.0 1267.5,324.6 1268.6,325.0C1269.7,325.4 1271.1,325.6 1272.3,325.6C1273.5,325.6 1274.8,325.3 1275.9,324.9C1276.9,324.4 1278.0,323.7 1278.7,323.0C1279.5,322.2 1280.0,321.2 1280.3,320.3C1280.5,319.3 1280.5,318.2 1280.2,317.3C1279.9,316.4 1278.7,315.1 1278.5,314.7M1280.4,312.3 L1280.8,325.6M1301.1,314.7C1300.7,314.4 1299.5,313.4 1298.5,313.0C1297.5,312.6 1296.3,312.4 1295.2,312.3C1294.1,312.3 1292.9,312.4 1291.9,312.7C1290.8,313.0 1289.8,313.5 1289.0,314.1C1288.2,314.7 1287.5,315.5 1287.1,316.3C1286.6,317.1 1286.4,318.1 1286.4,319.0C1286.4,319.8 1286.6,320.8 1287.1,321.6C1287.5,322.4 1288.2,323.2 1289.0,323.8C1289.8,324.4 1290.8,324.9 1291.9,325.2C1292.9,325.5 1294.1,325.6 1295.2,325.6C1296.3,325.5 1297.5,325.3 1298.5,324.9C1299.5,324.5 1300.7,323.5 1301.1,323.2M1307.2,295.0 L1307.2,325.6M1321.1,311.1 L1308.1,319.6 L1322.1,325.6" stroke-width="4.2"/>
<circle cx="147.9" cy="1648.7" r="2.3" class="f"/>
<path d="M135.4,1612.6 L136.1,1650.0" stroke-width="3.9"/>
<path d="M189.1,1622.6C188.6,1621.9 187.1,1619.4 185.9,1618.5C184.8,1617.5 183.4,1617.0 182.2,1616.9C180.9,1616.8 179.6,1617.2 178.4,1618.0C177.2,1618.7 176.0,1620.0 175.0,1621.6C174.1,1623.2 173.2,1625.2 172.6,1627.3C172.0,1629.4 171.6,1631.9 171.5,1633.9C171.4,1635.9 171.5,1637.6 171.8,1639.3C172.1,1641.0 172.7,1642.7 173.5,1644.1C174.2,1645.5 175.2,1646.8 176.3,1647.8C177.3,1648.7 178.6,1649.4 179.9,1649.7C181.1,1650.1 182.5,1650.1 183.7,1649.7C185.0,1649.4 186.2,1648.7 187.3,1647.8C188.4,1646.8 189.4,1645.5 190.1,1644.1C190.9,1642.7 191.5,1640.1 191.8,1639.3M192.0,1639.8 L191.9,1636.4 L183.2,1636.4M202.5,1633.0C202.1,1633.1 200.7,1633.2 200.0,1633.6C199.2,1634.1 198.4,1634.7 197.8,1635.5C197.2,1636.3 196.7,1637.2 196.4,1638.2C196.1,1639.2 195.9,1640.4 195.9,1641.5C195.9,1642.6 196.1,1643.8 196.4,1644.8C196.7,1645.8 197.2,1646.7 197.8,1647.5C198.4,1648.3 199.2,1648.9 200.0,1649.4C200.7,1649.8 201.7,1650.0 202.5,1650.0C203.3,1650.0 204.2,1649.8 205.0,1649.4C205.8,1648.9 206.6,1648.3 207.2,1647.5C207.8,1646.7 208.3,1645.8 208.6,1644.8C208.9,1643.8 209.1,1642.6 209.1,1641.5C209.1,1640.4 208.9,1639.2 208.6,1638.2C208.3,1637.2 207.8,1636.3 207.2,1635.5C206.6,1634.7 205.8,1634.1 205.0,1633.6C204.2,1633.2 202.9,1633.1 202.5,1633.0" stroke-width="3.9"/>
<path d="M228.9,1617.2C228.9,1621.7 228.2,1639.5 228.9,1644.6C229.5,1649.7 232.2,1647.4 232.8,1648.0M222.0,1631.0 L237.4,1630.5M242.1,1614.8 L242.1,1648.0M242.1,1637.8C243.2,1636.7 246.5,1632.0 249.0,1631.3C251.4,1630.6 255.2,1631.9 256.8,1633.5C258.5,1635.2 258.5,1638.8 258.8,1641.2C259.1,1643.6 258.8,1646.9 258.8,1648.0M265.1,1631.0 L265.1,1648.0M265.1,1637.8C266.1,1636.8 268.8,1632.8 271.0,1631.8C273.2,1630.9 277.2,1631.8 278.5,1631.8M292.5,1631.0C291.9,1631.1 290.1,1631.2 289.0,1631.6C287.9,1632.1 286.9,1632.7 286.1,1633.5C285.2,1634.3 284.5,1635.2 284.1,1636.2C283.7,1637.2 283.4,1638.4 283.4,1639.5C283.4,1640.6 283.7,1641.8 284.1,1642.8C284.5,1643.8 285.2,1644.7 286.1,1645.5C286.9,1646.3 287.9,1646.9 289.0,1647.4C290.1,1647.8 291.3,1648.0 292.5,1648.0C293.6,1648.0 294.9,1647.8 295.9,1647.4C297.0,1646.9 298.1,1646.3 298.9,1645.5C299.7,1644.7 300.4,1643.8 300.8,1642.8C301.3,1641.8 301.5,1640.6 301.5,1639.5C301.5,1638.4 301.3,1637.2 300.8,1636.2C300.4,1635.2 299.7,1634.3 298.9,1633.5C298.1,1632.7 297.0,1632.1 295.9,1631.6C294.9,1631.2 293.0,1631.1 292.5,1631.0M306.2,1631.0C306.3,1633.0 305.5,1640.1 306.6,1642.9C307.8,1645.7 310.6,1647.9 313.1,1648.0C315.6,1648.1 320.2,1644.5 321.6,1643.8M322.4,1631.0 L322.4,1648.0M346.0,1639.5C345.9,1639.0 345.8,1637.2 345.3,1636.2C344.9,1635.2 344.2,1634.3 343.4,1633.5C342.6,1632.7 341.6,1632.1 340.5,1631.6C339.5,1631.2 338.3,1631.0 337.1,1631.0C336.0,1631.0 334.8,1631.2 333.8,1631.6C332.7,1632.1 331.7,1632.7 330.9,1633.5C330.1,1634.3 329.4,1635.2 329.0,1636.2C328.5,1637.2 328.3,1638.4 328.3,1639.5C328.3,1640.6 328.5,1641.8 329.0,1642.8C329.4,1643.8 330.1,1644.7 330.9,1645.5C331.7,1646.3 332.7,1646.9 333.8,1647.4C334.8,1647.8 336.0,1648.0 337.1,1648.0C338.3,1648.0 339.5,1647.8 340.5,1647.4C341.6,1646.9 342.6,1646.3 343.4,1645.5C344.2,1644.7 344.9,1643.8 345.3,1642.8C345.8,1641.8 345.9,1640.0 346.0,1639.5M346.0,1631.0C346.0,1633.3 346.1,1640.6 346.0,1644.6C345.9,1648.6 346.8,1652.2 345.6,1654.8C344.5,1657.3 341.7,1659.5 339.1,1659.9C336.6,1660.3 331.7,1657.8 330.3,1657.3M352.3,1614.8 L352.3,1648.0M352.3,1637.8C353.4,1636.7 356.7,1632.0 359.2,1631.3C361.7,1630.6 365.4,1631.9 367.1,1633.5C368.7,1635.2 368.7,1638.8 369.0,1641.2C369.4,1643.6 369.0,1646.9 369.0,1648.0" stroke-width="3.9"/>
<path d="M411.9,1643.5C411.8,1643.0 411.7,1641.2 411.3,1640.2C410.9,1639.2 410.3,1638.3 409.6,1637.5C408.9,1636.7 407.9,1636.1 407.0,1635.6C406.1,1635.2 405.0,1635.0 404.0,1635.0C402.9,1635.0 401.9,1635.2 400.9,1635.6C400.0,1636.1 399.0,1636.7 398.3,1637.5C397.6,1638.3 397.0,1639.2 396.6,1640.2C396.2,1641.2 396.0,1642.4 396.0,1643.5C396.0,1644.6 396.2,1645.8 396.6,1646.8C397.0,1647.8 397.6,1648.7 398.3,1649.5C399.0,1650.3 400.0,1650.9 400.9,1651.4C401.9,1651.8 402.9,1652.0 404.0,1652.0C405.0,1652.0 406.1,1651.8 407.0,1651.4C407.9,1650.9 408.9,1650.3 409.6,1649.5C410.3,1648.7 410.9,1647.8 411.3,1646.8C411.7,1645.8 411.8,1644.0 411.9,1643.5M411.9,1635.0C411.9,1637.3 412.0,1644.6 411.9,1648.6C411.9,1652.6 412.6,1656.2 411.6,1658.8C410.5,1661.3 408.0,1663.5 405.7,1663.9C403.4,1664.3 399.1,1661.8 397.8,1661.3M431.6,1638.0C431.2,1637.7 429.9,1636.3 428.8,1635.8C427.8,1635.2 426.5,1635.0 425.3,1635.0C424.2,1635.0 422.9,1635.4 421.9,1635.9C420.9,1636.5 419.9,1637.4 419.2,1638.4C418.5,1639.3 418.0,1640.6 417.7,1641.8C417.5,1643.0 417.5,1644.4 417.8,1645.6C418.1,1646.8 418.7,1648.0 419.4,1649.0C420.2,1649.9 421.2,1650.7 422.3,1651.2C423.3,1651.8 424.6,1652.0 425.7,1652.0C426.9,1652.0 428.1,1651.6 429.2,1651.1C430.2,1650.5 431.2,1649.6 431.9,1648.6C432.6,1647.7 433.1,1646.4 433.3,1645.2C433.6,1644.0 433.5,1642.6 433.3,1641.4C433.0,1640.2 431.9,1638.6 431.6,1638.0M433.5,1635.0 L433.9,1652.0M445.3,1621.2C445.3,1625.7 444.8,1643.5 445.3,1648.6C445.9,1653.7 448.3,1651.4 448.9,1652.0M439.2,1635.0 L453.0,1634.5M458.6,1643.5C459.9,1643.4 463.6,1643.3 466.0,1643.2C468.5,1643.0 472.3,1643.6 473.1,1642.7C474.0,1641.7 471.9,1638.8 471.1,1637.6C470.3,1636.4 469.4,1636.0 468.4,1635.6C467.4,1635.2 466.2,1635.0 465.2,1635.0C464.1,1635.1 463.0,1635.4 462.0,1635.9C461.1,1636.4 460.1,1637.2 459.5,1638.1C458.8,1639.0 458.3,1640.2 458.0,1641.3C457.7,1642.4 457.7,1643.7 457.8,1644.9C458.0,1646.0 458.4,1647.2 459.0,1648.2C459.6,1649.1 460.4,1650.0 461.3,1650.7C462.2,1651.3 463.3,1651.7 464.4,1651.9C465.4,1652.1 466.6,1652.0 467.6,1651.7C468.7,1651.4 470.0,1650.3 470.5,1650.0" stroke-width="3.9"/>
<circle cx="160.0" cy="1698.1" r="2.3" class="f"/>
<path d="M138.8,1678.6C139.8,1677.5 142.4,1672.6 144.6,1672.3C146.8,1672.0 151.4,1674.7 152.0,1677.0C152.5,1679.4 150.2,1682.8 147.9,1686.4C145.5,1690.1 139.6,1696.9 138.0,1699.0M138.0,1699.0 L153.6,1698.2" stroke-width="3.9"/>
<path d="M197.7,1669.5 L203.6,1701.0 L209.9,1679.1 L216.0,1701.0 L222.3,1669.5M239.5,1686.2C239.1,1685.8 237.8,1684.3 236.8,1683.8C235.8,1683.3 234.6,1683.0 233.5,1683.0C232.4,1683.0 231.2,1683.4 230.2,1684.0C229.2,1684.6 228.3,1685.5 227.6,1686.6C226.9,1687.6 226.4,1688.9 226.2,1690.2C226.0,1691.5 226.0,1693.0 226.3,1694.2C226.6,1695.5 227.1,1696.8 227.8,1697.8C228.5,1698.8 229.5,1699.7 230.5,1700.2C231.5,1700.7 232.8,1701.0 233.9,1701.0C235.0,1701.0 236.2,1700.6 237.2,1700.0C238.1,1699.4 239.1,1698.5 239.8,1697.4C240.4,1696.4 240.9,1695.1 241.2,1693.8C241.4,1692.5 241.4,1691.0 241.1,1689.8C240.8,1688.5 239.8,1686.8 239.5,1686.2M241.3,1683.0 L241.7,1701.0M248.8,1669.5 L248.8,1701.0M255.6,1669.5 L255.6,1701.0M268.3,1682.0 L256.4,1692.9 L269.2,1701.0" stroke-width="3.9"/>
<path d="M302.5,1671.4C302.5,1675.8 301.9,1692.5 302.5,1697.4C303.0,1702.3 305.3,1700.4 305.8,1701.0M296.6,1683.0 L309.7,1682.6M321.6,1683.0C321.1,1683.1 319.5,1683.2 318.6,1683.7C317.7,1684.1 316.8,1684.8 316.1,1685.6C315.4,1686.4 314.8,1687.5 314.4,1688.6C314.1,1689.6 313.9,1690.9 313.9,1692.0C313.9,1693.1 314.1,1694.4 314.4,1695.4C314.8,1696.5 315.4,1697.6 316.1,1698.4C316.8,1699.2 317.7,1699.9 318.6,1700.3C319.5,1700.8 320.6,1701.0 321.6,1701.0C322.5,1701.0 323.6,1700.8 324.5,1700.3C325.4,1699.9 326.3,1699.2 327.0,1698.4C327.7,1697.6 328.3,1696.5 328.7,1695.4C329.1,1694.4 329.3,1693.1 329.3,1692.0C329.3,1690.9 329.1,1689.6 328.7,1688.6C328.3,1687.5 327.7,1686.4 327.0,1685.6C326.3,1684.8 325.4,1684.1 324.5,1683.7C323.6,1683.2 322.1,1683.1 321.6,1683.0" stroke-width="3.9"/>
<path d="M360.8,1686.2C360.3,1685.8 358.9,1684.3 357.9,1683.8C356.8,1683.3 355.4,1683.0 354.3,1683.0C353.1,1683.0 351.8,1683.4 350.7,1684.0C349.6,1684.6 348.6,1685.5 347.9,1686.6C347.2,1687.6 346.6,1688.9 346.4,1690.2C346.1,1691.5 346.2,1693.0 346.5,1694.2C346.8,1695.5 347.4,1696.8 348.1,1697.8C348.9,1698.8 350.0,1699.7 351.1,1700.2C352.2,1700.7 353.5,1701.0 354.7,1701.0C355.9,1701.0 357.2,1700.6 358.2,1700.0C359.3,1699.4 360.3,1698.5 361.0,1697.4C361.8,1696.4 362.3,1695.1 362.6,1693.8C362.8,1692.5 362.8,1691.0 362.5,1689.8C362.2,1688.5 361.1,1686.8 360.8,1686.2M362.7,1683.0 L363.1,1701.0M368.6,1683.0 L368.6,1701.0M368.6,1689.3C369.8,1688.2 373.5,1683.5 375.9,1683.0C378.3,1682.5 381.6,1683.6 382.9,1686.6C384.2,1689.6 383.5,1698.6 383.6,1701.0M405.7,1692.0C405.6,1691.4 405.4,1689.6 405.0,1688.6C404.6,1687.5 404.0,1686.4 403.2,1685.6C402.5,1684.8 401.5,1684.1 400.6,1683.7C399.6,1683.2 398.5,1683.0 397.4,1683.0C396.4,1683.0 395.2,1683.2 394.2,1683.7C393.3,1684.1 392.3,1684.8 391.6,1685.6C390.8,1686.4 390.2,1687.5 389.8,1688.6C389.4,1689.6 389.1,1690.9 389.1,1692.0C389.1,1693.1 389.4,1694.4 389.8,1695.4C390.2,1696.5 390.8,1697.6 391.6,1698.4C392.3,1699.2 393.3,1699.9 394.2,1700.3C395.2,1700.8 396.4,1701.0 397.4,1701.0C398.5,1701.0 399.6,1700.8 400.6,1700.3C401.5,1699.9 402.5,1699.2 403.2,1698.4C404.0,1697.6 404.6,1696.5 405.0,1695.4C405.4,1694.4 405.6,1692.6 405.7,1692.0M406.0,1669.5 L406.0,1701.0" stroke-width="3.9"/>
<path d="M438.4,1682.0C438.0,1682.1 436.6,1682.2 435.8,1682.7C435.1,1683.1 434.3,1683.8 433.7,1684.6C433.1,1685.4 432.6,1686.5 432.2,1687.6C431.9,1688.6 431.7,1689.9 431.7,1691.0C431.7,1692.1 431.9,1693.4 432.2,1694.4C432.6,1695.5 433.1,1696.6 433.7,1697.4C434.3,1698.2 435.1,1698.9 435.8,1699.3C436.6,1699.8 437.5,1700.0 438.4,1700.0C439.2,1700.0 440.1,1699.8 440.9,1699.3C441.7,1698.9 442.5,1698.2 443.1,1697.4C443.7,1696.6 444.2,1695.5 444.5,1694.4C444.8,1693.4 445.0,1692.1 445.0,1691.0C445.0,1689.9 444.8,1688.6 444.5,1687.6C444.2,1686.5 443.7,1685.4 443.1,1684.6C442.5,1683.8 441.7,1683.1 440.9,1682.7C440.1,1682.2 438.8,1682.1 438.4,1682.0M448.5,1682.0 L454.5,1700.0 L460.7,1682.0M465.1,1691.0C466.1,1690.9 469.2,1690.8 471.1,1690.6C473.1,1690.5 476.2,1691.1 476.9,1690.1C477.6,1689.1 475.9,1686.0 475.3,1684.7C474.6,1683.5 473.8,1683.1 473.0,1682.6C472.2,1682.2 471.3,1682.0 470.4,1682.0C469.6,1682.1 468.6,1682.4 467.9,1683.0C467.1,1683.5 466.3,1684.4 465.8,1685.3C465.2,1686.3 464.8,1687.5 464.6,1688.7C464.3,1689.9 464.3,1691.2 464.4,1692.4C464.6,1693.6 464.9,1694.9 465.4,1695.9C465.9,1697.0 466.6,1697.9 467.3,1698.6C468.0,1699.3 468.9,1699.7 469.8,1699.9C470.6,1700.1 471.6,1700.0 472.4,1699.7C473.3,1699.3 474.4,1698.2 474.8,1697.9M480.8,1682.0 L480.8,1700.0M480.8,1689.2C481.5,1688.2 483.5,1684.0 485.1,1682.9C486.8,1681.9 489.7,1682.9 490.6,1682.9" stroke-width="3.9"/>
<circle cx="550.7" cy="1673.3" r="2.3" class="f"/>
<path d="M512.0,1667.5 L512.0,1699.0M512.5,1690.0C512.6,1690.6 512.7,1692.4 513.1,1693.4C513.5,1694.5 514.1,1695.6 514.8,1696.4C515.5,1697.2 516.4,1697.9 517.3,1698.3C518.2,1698.8 519.2,1699.0 520.2,1699.0C521.2,1699.0 522.3,1698.8 523.2,1698.3C524.1,1697.9 525.0,1697.2 525.7,1696.4C526.3,1695.6 526.9,1694.5 527.3,1693.4C527.7,1692.4 527.9,1691.1 527.9,1690.0C527.9,1688.9 527.7,1687.6 527.3,1686.6C526.9,1685.5 526.3,1684.4 525.7,1683.6C525.0,1682.8 524.1,1682.1 523.2,1681.7C522.3,1681.2 521.2,1681.0 520.2,1681.0C519.2,1681.0 518.2,1681.2 517.3,1681.7C516.4,1682.1 515.5,1682.8 514.8,1683.6C514.1,1684.4 513.5,1685.5 513.1,1686.6C512.7,1687.6 512.6,1689.4 512.5,1690.0M532.9,1681.0 L532.9,1699.0M532.9,1688.2C533.7,1687.2 536.1,1683.0 538.0,1681.9C539.9,1680.9 543.4,1681.9 544.5,1681.9M550.7,1681.0 L550.7,1699.0M572.9,1690.0C572.8,1689.4 572.7,1687.6 572.3,1686.6C571.9,1685.5 571.3,1684.4 570.6,1683.6C570.0,1682.8 569.1,1682.1 568.2,1681.7C567.2,1681.2 566.2,1681.0 565.2,1681.0C564.2,1681.0 563.2,1681.2 562.3,1681.7C561.4,1682.1 560.5,1682.8 559.8,1683.6C559.1,1684.4 558.5,1685.5 558.1,1686.6C557.7,1687.6 557.5,1688.9 557.5,1690.0C557.5,1691.1 557.7,1692.4 558.1,1693.4C558.5,1694.5 559.1,1695.6 559.8,1696.4C560.5,1697.2 561.4,1697.9 562.3,1698.3C563.2,1698.8 564.2,1699.0 565.2,1699.0C566.2,1699.0 567.2,1698.8 568.2,1698.3C569.1,1697.9 570.0,1697.2 570.6,1696.4C571.3,1695.6 571.9,1694.5 572.3,1693.4C572.7,1692.4 572.8,1690.6 572.9,1690.0M573.2,1667.5 L573.2,1699.0M593.8,1690.0C593.7,1689.4 593.6,1687.6 593.2,1686.6C592.8,1685.5 592.2,1684.4 591.5,1683.6C590.8,1682.8 589.9,1682.1 589.0,1681.7C588.1,1681.2 587.1,1681.0 586.1,1681.0C585.1,1681.0 584.0,1681.2 583.1,1681.7C582.2,1682.1 581.3,1682.8 580.6,1683.6C579.9,1684.4 579.3,1685.5 579.0,1686.6C578.6,1687.6 578.4,1688.9 578.4,1690.0C578.4,1691.1 578.6,1692.4 579.0,1693.4C579.3,1694.5 579.9,1695.6 580.6,1696.4C581.3,1697.2 582.2,1697.9 583.1,1698.3C584.0,1698.8 585.1,1699.0 586.1,1699.0C587.1,1699.0 588.1,1698.8 589.0,1698.3C589.9,1697.9 590.8,1697.2 591.5,1696.4C592.2,1695.6 592.8,1694.5 593.2,1693.4C593.6,1692.4 593.7,1690.6 593.8,1690.0M593.8,1681.0C593.8,1683.4 593.8,1691.2 593.8,1695.4C593.7,1699.6 594.4,1703.5 593.4,1706.2C592.4,1708.9 590.0,1711.1 587.8,1711.6C585.6,1712.0 581.4,1709.4 580.1,1708.9M600.6,1690.0C601.8,1689.9 605.5,1689.8 607.8,1689.6C610.1,1689.5 613.8,1690.1 614.6,1689.1C615.5,1688.1 613.5,1685.0 612.7,1683.7C611.9,1682.5 611.0,1682.1 610.1,1681.6C609.1,1681.2 608.0,1681.0 607.0,1681.0C605.9,1681.1 604.8,1681.4 603.9,1682.0C603.0,1682.5 602.1,1683.4 601.5,1684.3C600.8,1685.3 600.3,1686.5 600.0,1687.7C599.8,1688.9 599.7,1690.2 599.9,1691.4C600.0,1692.6 600.4,1693.9 601.0,1694.9C601.6,1696.0 602.4,1696.9 603.2,1697.6C604.1,1698.3 605.2,1698.7 606.2,1698.9C607.2,1699.1 608.4,1699.0 609.3,1698.7C610.3,1698.3 611.7,1697.2 612.1,1696.9" stroke-width="3.9"/>
<circle cx="172.6" cy="1754.8" r="2.3" class="f"/>
<path d="M149.0,1734.0C150.4,1733.5 155.0,1730.7 157.5,1731.0C160.1,1731.4 164.5,1734.2 164.2,1736.1C163.9,1738.1 157.0,1741.6 155.6,1742.7M155.6,1742.7C157.2,1743.6 164.8,1746.3 165.1,1748.5C165.5,1750.6 160.4,1755.0 157.5,1755.7C154.7,1756.4 149.6,1753.3 148.0,1752.8" stroke-width="3.9"/>
<path d="M193.0,1727.0 L199.7,1755.0 L206.7,1735.6 L213.5,1755.0 L220.6,1727.0M239.9,1741.9C239.4,1741.5 238.0,1740.2 236.8,1739.7C235.7,1739.2 234.3,1739.0 233.1,1739.0C231.9,1739.0 230.5,1739.4 229.4,1739.9C228.3,1740.4 227.2,1741.2 226.5,1742.2C225.7,1743.1 225.2,1744.3 224.9,1745.4C224.7,1746.5 224.7,1747.9 225.0,1749.0C225.3,1750.1 226.0,1751.3 226.8,1752.1C227.6,1753.0 228.7,1753.8 229.8,1754.3C230.9,1754.8 232.3,1755.0 233.5,1755.0C234.8,1755.0 236.1,1754.6 237.2,1754.1C238.3,1753.6 239.4,1752.8 240.1,1751.8C240.9,1750.9 241.5,1749.7 241.7,1748.6C241.9,1747.5 241.9,1746.1 241.6,1745.0C241.3,1743.9 240.2,1742.4 239.9,1741.9M241.9,1739.0 L242.2,1755.0M250.2,1727.0 L250.2,1755.0M257.8,1727.0 L257.8,1755.0M272.1,1738.1 L258.8,1747.8 L273.0,1755.0" stroke-width="3.9"/>
<path d="M314.1,1727.2C314.1,1731.1 313.5,1745.9 314.1,1750.3C314.7,1754.7 317.0,1753.0 317.5,1753.5M308.0,1737.5 L321.5,1737.2M333.9,1737.5C333.4,1737.6 331.8,1737.7 330.8,1738.1C329.9,1738.5 328.9,1739.1 328.2,1739.8C327.5,1740.6 326.9,1741.5 326.5,1742.4C326.1,1743.4 325.9,1744.5 325.9,1745.5C325.9,1746.5 326.1,1747.6 326.5,1748.6C326.9,1749.5 327.5,1750.4 328.2,1751.2C328.9,1751.9 329.9,1752.5 330.8,1752.9C331.8,1753.3 332.8,1753.5 333.9,1753.5C334.9,1753.5 336.0,1753.3 336.9,1752.9C337.9,1752.5 338.8,1751.9 339.5,1751.2C340.2,1750.4 340.9,1749.5 341.2,1748.6C341.6,1747.6 341.9,1746.5 341.9,1745.5C341.9,1744.5 341.6,1743.4 341.2,1742.4C340.9,1741.5 340.2,1740.6 339.5,1739.8C338.8,1739.1 337.9,1738.5 336.9,1738.1C336.0,1737.7 334.4,1737.6 333.9,1737.5" stroke-width="3.9"/>
<circle cx="417.5" cy="1730.6" r="2.3" class="f"/>
<path d="M365.3,1737.5 L365.3,1753.5M365.3,1742.3C366.2,1741.5 369.0,1737.8 370.8,1737.5C372.6,1737.2 375.3,1738.0 376.3,1740.7C377.2,1743.4 376.6,1751.4 376.6,1753.5M376.6,1742.3C377.5,1741.5 380.3,1737.8 382.1,1737.5C383.9,1737.2 386.3,1738.0 387.2,1740.7C388.1,1743.4 387.5,1751.4 387.6,1753.5M407.6,1740.4C407.1,1740.0 405.7,1738.7 404.7,1738.2C403.6,1737.7 402.3,1737.5 401.1,1737.5C399.9,1737.5 398.6,1737.9 397.5,1738.4C396.5,1738.9 395.4,1739.7 394.7,1740.7C394.0,1741.6 393.5,1742.8 393.2,1743.9C393.0,1745.0 393.0,1746.4 393.3,1747.5C393.6,1748.6 394.2,1749.8 395.0,1750.6C395.7,1751.5 396.8,1752.3 397.9,1752.8C399.0,1753.3 400.3,1753.5 401.5,1753.5C402.7,1753.5 404.0,1753.1 405.0,1752.6C406.1,1752.1 407.1,1751.3 407.8,1750.3C408.5,1749.4 409.1,1748.2 409.3,1747.1C409.6,1746.0 409.5,1744.6 409.2,1743.5C408.9,1742.4 407.9,1740.9 407.6,1740.4M409.5,1737.5 L409.9,1753.5M417.5,1737.5 L417.5,1753.5M427.0,1725.5 L427.0,1753.5M434.3,1725.5 L434.3,1753.5M434.9,1745.5C435.0,1746.0 435.1,1747.6 435.5,1748.6C435.9,1749.5 436.5,1750.4 437.3,1751.2C438.0,1751.9 439.0,1752.5 440.0,1752.9C440.9,1753.3 442.1,1753.5 443.1,1753.5C444.1,1753.5 445.3,1753.3 446.2,1752.9C447.2,1752.5 448.2,1751.9 448.9,1751.2C449.7,1750.4 450.3,1749.5 450.7,1748.6C451.1,1747.6 451.3,1746.5 451.3,1745.5C451.3,1744.5 451.1,1743.4 450.7,1742.4C450.3,1741.5 449.7,1740.6 448.9,1739.8C448.2,1739.1 447.2,1738.5 446.2,1738.1C445.3,1737.7 444.1,1737.5 443.1,1737.5C442.1,1737.5 440.9,1737.7 440.0,1738.1C439.0,1738.5 438.0,1739.1 437.3,1739.8C436.5,1740.6 435.9,1741.5 435.5,1742.4C435.1,1743.4 435.0,1745.0 434.9,1745.5M465.2,1737.5C464.7,1737.6 463.0,1737.7 462.0,1738.1C461.0,1738.5 460.0,1739.1 459.3,1739.8C458.5,1740.6 457.8,1741.5 457.4,1742.4C457.0,1743.4 456.8,1744.5 456.8,1745.5C456.8,1746.5 457.0,1747.6 457.4,1748.6C457.8,1749.5 458.5,1750.4 459.3,1751.2C460.0,1751.9 461.0,1752.5 462.0,1752.9C463.0,1753.3 464.1,1753.5 465.2,1753.5C466.3,1753.5 467.4,1753.3 468.4,1752.9C469.4,1752.5 470.4,1751.9 471.1,1751.2C471.9,1750.4 472.5,1749.5 473.0,1748.6C473.4,1747.6 473.6,1746.5 473.6,1745.5C473.6,1744.5 473.4,1743.4 473.0,1742.4C472.5,1741.5 471.9,1740.6 471.1,1739.8C470.4,1739.1 469.4,1738.5 468.4,1738.1C467.4,1737.7 465.7,1737.6 465.2,1737.5M478.0,1737.5 L493.5,1753.5M493.5,1737.5 L478.0,1753.5M500.8,1751.9 L497.5,1759.1" stroke-width="3.9"/>
<circle cx="528.3" cy="1728.1" r="2.3" class="f"/>
<path d="M522.7,1736.9C522.0,1736.6 519.8,1734.8 518.4,1735.0C516.9,1735.2 514.3,1737.0 514.1,1738.2C513.9,1739.4 515.8,1741.2 517.0,1742.2C518.2,1743.2 520.3,1743.3 521.3,1744.3C522.3,1745.3 523.6,1747.0 523.1,1748.1C522.6,1749.2 520.0,1750.8 518.4,1751.0C516.8,1751.2 514.2,1749.4 513.4,1749.1M528.3,1735.0 L528.3,1751.0M545.8,1743.0C545.7,1742.5 545.6,1740.9 545.3,1739.9C545.0,1739.0 544.5,1738.1 544.0,1737.3C543.5,1736.6 542.8,1736.0 542.0,1735.6C541.3,1735.2 540.5,1735.0 539.7,1735.0C539.0,1735.0 538.1,1735.2 537.4,1735.6C536.7,1736.0 536.0,1736.6 535.5,1737.3C534.9,1738.1 534.4,1739.0 534.1,1739.9C533.8,1740.9 533.7,1742.0 533.7,1743.0C533.7,1744.0 533.8,1745.1 534.1,1746.1C534.4,1747.0 534.9,1747.9 535.5,1748.7C536.0,1749.4 536.7,1750.0 537.4,1750.4C538.1,1750.8 539.0,1751.0 539.7,1751.0C540.5,1751.0 541.3,1750.8 542.0,1750.4C542.8,1750.0 543.5,1749.4 544.0,1748.7C544.5,1747.9 545.0,1747.0 545.3,1746.1C545.6,1745.1 545.7,1743.5 545.8,1743.0M546.0,1723.0 L546.0,1751.0M551.1,1743.0C552.1,1742.9 554.9,1742.8 556.8,1742.7C558.6,1742.5 561.5,1743.1 562.2,1742.2C562.8,1741.3 561.2,1738.5 560.6,1737.4C560.0,1736.3 559.3,1736.0 558.6,1735.6C557.8,1735.2 556.9,1735.0 556.1,1735.0C555.3,1735.1 554.5,1735.4 553.7,1735.9C553.0,1736.3 552.3,1737.1 551.8,1737.9C551.3,1738.8 550.9,1739.9 550.7,1740.9C550.5,1742.0 550.4,1743.2 550.5,1744.3C550.7,1745.4 551.0,1746.5 551.4,1747.4C551.9,1748.3 552.5,1749.2 553.2,1749.7C553.9,1750.3 554.7,1750.8 555.5,1750.9C556.3,1751.1 557.2,1751.0 558.0,1750.7C558.8,1750.4 559.8,1749.4 560.2,1749.1M565.8,1735.0 L565.8,1762.2M566.2,1743.0C566.3,1743.5 566.4,1745.1 566.6,1746.1C566.9,1747.0 567.4,1747.9 568.0,1748.7C568.5,1749.4 569.2,1750.0 569.9,1750.4C570.6,1750.8 571.5,1751.0 572.2,1751.0C573.0,1751.0 573.8,1750.8 574.5,1750.4C575.3,1750.0 576.0,1749.4 576.5,1748.7C577.0,1747.9 577.5,1747.0 577.8,1746.1C578.1,1745.1 578.3,1744.0 578.3,1743.0C578.3,1742.0 578.1,1740.9 577.8,1739.9C577.5,1739.0 577.0,1738.1 576.5,1737.3C576.0,1736.6 575.3,1736.0 574.5,1735.6C573.8,1735.2 573.0,1735.0 572.2,1735.0C571.5,1735.0 570.6,1735.2 569.9,1735.6C569.2,1736.0 568.5,1736.6 568.0,1737.3C567.4,1738.1 566.9,1739.0 566.6,1739.9C566.4,1740.9 566.3,1742.5 566.2,1743.0M592.8,1737.9C592.5,1737.5 591.5,1736.2 590.7,1735.7C589.9,1735.2 588.9,1735.0 588.1,1735.0C587.2,1735.0 586.2,1735.4 585.5,1735.9C584.7,1736.4 583.9,1737.2 583.4,1738.2C582.9,1739.1 582.5,1740.3 582.3,1741.4C582.1,1742.5 582.1,1743.9 582.4,1745.0C582.6,1746.1 583.0,1747.3 583.6,1748.1C584.1,1749.0 584.9,1749.8 585.7,1750.3C586.5,1750.8 587.5,1751.0 588.4,1751.0C589.2,1751.0 590.2,1750.6 591.0,1750.1C591.7,1749.6 592.5,1748.8 593.0,1747.8C593.6,1746.9 594.0,1745.7 594.1,1744.6C594.3,1743.5 594.3,1742.1 594.1,1741.0C593.9,1739.9 593.0,1738.4 592.8,1737.9M594.3,1735.0 L594.5,1751.0M608.2,1736.9C607.5,1736.6 605.4,1734.8 603.9,1735.0C602.5,1735.2 599.9,1737.0 599.6,1738.2C599.4,1739.4 601.4,1741.2 602.6,1742.2C603.8,1743.2 605.9,1743.3 606.9,1744.3C607.9,1745.3 609.1,1747.0 608.6,1748.1C608.1,1749.2 605.5,1750.8 603.9,1751.0C602.3,1751.2 599.8,1749.4 599.0,1749.1M621.9,1736.9C621.2,1736.6 619.1,1734.8 617.6,1735.0C616.2,1735.2 613.6,1737.0 613.3,1738.2C613.1,1739.4 615.1,1741.2 616.3,1742.2C617.5,1743.2 619.6,1743.3 620.6,1744.3C621.6,1745.3 622.8,1747.0 622.3,1748.1C621.8,1749.2 619.2,1750.8 617.6,1751.0C616.0,1751.2 613.5,1749.4 612.7,1749.1" stroke-width="3.9"/>
<path d="M225.2,1768.0C224.8,1768.1 223.6,1768.3 222.9,1768.7C222.2,1769.2 221.4,1769.9 220.9,1770.8C220.4,1771.6 219.9,1772.7 219.6,1773.9C219.3,1775.0 219.1,1776.3 219.1,1777.5C219.1,1778.7 219.3,1780.0 219.6,1781.1C219.9,1782.3 220.4,1783.4 220.9,1784.2C221.4,1785.1 222.2,1785.8 222.9,1786.3C223.6,1786.7 224.4,1787.0 225.2,1787.0C225.9,1787.0 226.8,1786.7 227.5,1786.3C228.2,1785.8 228.9,1785.1 229.4,1784.2C230.0,1783.4 230.5,1782.3 230.8,1781.1C231.1,1780.0 231.2,1778.7 231.2,1777.5C231.2,1776.3 231.1,1775.0 230.8,1773.9C230.5,1772.7 230.0,1771.6 229.4,1770.8C228.9,1769.9 228.2,1769.2 227.5,1768.7C226.8,1768.3 225.6,1768.1 225.2,1768.0M234.4,1768.0 L239.9,1787.0 L245.5,1768.0M249.5,1777.5C250.4,1777.4 253.2,1777.3 255.0,1777.1C256.8,1777.0 259.6,1777.6 260.3,1776.5C260.9,1775.5 259.3,1772.2 258.8,1770.9C258.2,1769.6 257.5,1769.1 256.7,1768.7C256.0,1768.2 255.1,1768.0 254.4,1768.0C253.6,1768.1 252.7,1768.4 252.0,1769.0C251.3,1769.6 250.6,1770.5 250.1,1771.5C249.6,1772.5 249.2,1773.8 249.0,1775.0C248.8,1776.3 248.8,1777.7 248.9,1779.0C249.0,1780.3 249.3,1781.6 249.8,1782.7C250.2,1783.8 250.8,1784.8 251.5,1785.5C252.2,1786.2 253.0,1786.7 253.8,1786.9C254.5,1787.1 255.4,1787.0 256.2,1786.6C256.9,1786.3 258.0,1785.1 258.3,1784.8M263.8,1768.0 L263.8,1787.0M263.8,1775.6C264.5,1774.5 266.3,1770.1 267.7,1769.0C269.2,1767.8 271.9,1769.0 272.7,1769.0" stroke-width="3.9"/>
<path d="M291.2,1759.3C291.2,1763.6 290.7,1779.8 291.2,1784.6C291.7,1789.4 293.7,1787.4 294.2,1788.0M286.0,1771.0 L297.7,1770.6M301.3,1757.4 L301.3,1788.0M301.3,1777.8C302.1,1776.7 304.6,1772.0 306.5,1771.3C308.4,1770.6 311.2,1771.9 312.5,1773.5C313.7,1775.2 313.7,1778.8 314.0,1781.2C314.2,1783.6 314.0,1786.9 314.0,1788.0M320.0,1779.5C321.0,1779.4 324.2,1779.3 326.3,1779.2C328.3,1779.0 331.5,1779.6 332.3,1778.7C333.0,1777.7 331.2,1774.8 330.5,1773.6C329.9,1772.4 329.1,1772.0 328.2,1771.6C327.4,1771.2 326.4,1771.0 325.5,1771.0C324.6,1771.1 323.7,1771.4 322.9,1771.9C322.1,1772.4 321.3,1773.2 320.7,1774.1C320.1,1775.0 319.7,1776.2 319.5,1777.3C319.2,1778.4 319.2,1779.7 319.3,1780.9C319.5,1782.0 319.8,1783.2 320.3,1784.2C320.8,1785.1 321.5,1786.0 322.3,1786.7C323.0,1787.3 324.0,1787.7 324.9,1787.9C325.8,1788.1 326.7,1788.0 327.6,1787.7C328.5,1787.4 329.6,1786.3 330.0,1786.0" stroke-width="3.9"/>
<path d="M358.3,1772.5 L358.3,1798.8M358.7,1780.2C358.8,1780.7 358.9,1782.3 359.2,1783.2C359.5,1784.1 359.9,1785.0 360.5,1785.7C361.0,1786.4 361.7,1787.0 362.5,1787.4C363.2,1787.8 364.0,1788.0 364.8,1788.0C365.6,1788.0 366.4,1787.8 367.1,1787.4C367.8,1787.0 368.5,1786.4 369.1,1785.7C369.6,1785.0 370.1,1784.1 370.4,1783.2C370.7,1782.3 370.9,1781.2 370.9,1780.2C370.9,1779.3 370.7,1778.2 370.4,1777.3C370.1,1776.4 369.6,1775.5 369.1,1774.8C368.5,1774.1 367.8,1773.5 367.1,1773.1C366.4,1772.7 365.6,1772.5 364.8,1772.5C364.0,1772.5 363.2,1772.7 362.5,1773.1C361.7,1773.5 361.0,1774.1 360.5,1774.8C359.9,1775.5 359.5,1776.4 359.2,1777.3C358.9,1778.2 358.8,1779.8 358.7,1780.2M381.2,1772.5C380.8,1772.6 379.5,1772.7 378.8,1773.1C378.0,1773.5 377.3,1774.1 376.8,1774.8C376.2,1775.5 375.7,1776.4 375.4,1777.3C375.1,1778.2 374.9,1779.3 374.9,1780.2C374.9,1781.2 375.1,1782.3 375.4,1783.2C375.7,1784.1 376.2,1785.0 376.8,1785.7C377.3,1786.4 378.0,1787.0 378.8,1787.4C379.5,1787.8 380.4,1788.0 381.2,1788.0C381.9,1788.0 382.8,1787.8 383.5,1787.4C384.3,1787.0 385.0,1786.4 385.6,1785.7C386.1,1785.0 386.6,1784.1 386.9,1783.2C387.2,1782.3 387.4,1781.2 387.4,1780.2C387.4,1779.3 387.2,1778.2 386.9,1777.3C386.6,1776.4 386.1,1775.5 385.6,1774.8C385.0,1774.1 384.3,1773.5 383.5,1773.1C382.8,1772.7 381.6,1772.6 381.2,1772.5M392.2,1760.1 L392.2,1788.0M398.7,1780.2C399.7,1780.2 402.6,1780.1 404.4,1779.9C406.3,1779.8 409.2,1780.3 409.8,1779.5C410.5,1778.6 408.9,1775.9 408.3,1774.9C407.7,1773.8 407.0,1773.4 406.2,1773.0C405.5,1772.7 404.6,1772.5 403.7,1772.5C402.9,1772.6 402.1,1772.8 401.3,1773.3C400.6,1773.8 399.9,1774.5 399.4,1775.4C398.9,1776.2 398.5,1777.2 398.3,1778.2C398.1,1779.3 398.0,1780.4 398.1,1781.5C398.3,1782.5 398.6,1783.6 399.0,1784.5C399.5,1785.4 400.1,1786.2 400.8,1786.8C401.5,1787.4 402.3,1787.8 403.1,1787.9C403.9,1788.1 404.9,1788.0 405.6,1787.7C406.4,1787.4 407.5,1786.4 407.8,1786.2" stroke-width="3.9"/>
<path d="M436.0,1760.9C436.0,1764.7 435.5,1779.5 436.0,1783.9C436.5,1788.3 438.5,1786.5 439.0,1787.0M430.6,1771.5 L442.6,1771.1M453.4,1771.5C453.0,1771.6 451.6,1771.7 450.7,1772.1C449.9,1772.5 449.1,1773.1 448.5,1773.8C447.8,1774.5 447.3,1775.4 446.9,1776.3C446.6,1777.2 446.4,1778.3 446.4,1779.2C446.4,1780.2 446.6,1781.3 446.9,1782.2C447.3,1783.1 447.8,1784.0 448.5,1784.7C449.1,1785.4 449.9,1786.0 450.7,1786.4C451.6,1786.8 452.5,1787.0 453.4,1787.0C454.3,1787.0 455.3,1786.8 456.1,1786.4C457.0,1786.0 457.8,1785.4 458.4,1784.7C459.1,1784.0 459.6,1783.1 460.0,1782.2C460.3,1781.3 460.5,1780.2 460.5,1779.2C460.5,1778.3 460.3,1777.2 460.0,1776.3C459.6,1775.4 459.1,1774.5 458.4,1773.8C457.8,1773.1 457.0,1772.5 456.1,1772.1C455.3,1771.7 453.9,1771.6 453.4,1771.5" stroke-width="3.9"/>
<path d="M484.0,1761.9C484.0,1765.7 483.6,1780.5 484.0,1784.9C484.5,1789.3 486.5,1787.5 487.0,1788.0M478.9,1772.5 L490.4,1772.1M493.9,1760.1 L493.9,1788.0M493.9,1778.7C494.8,1777.7 497.2,1773.5 499.1,1772.8C500.9,1772.2 503.7,1773.3 504.9,1774.8C506.2,1776.3 506.2,1779.6 506.4,1781.8C506.7,1784.0 506.4,1787.0 506.4,1788.0M512.3,1780.2C513.3,1780.2 516.5,1780.1 518.5,1779.9C520.5,1779.8 523.7,1780.3 524.4,1779.5C525.1,1778.6 523.3,1775.9 522.7,1774.9C522.0,1773.8 521.2,1773.4 520.4,1773.0C519.6,1772.7 518.6,1772.5 517.8,1772.5C516.9,1772.6 515.9,1772.8 515.1,1773.3C514.3,1773.8 513.6,1774.5 513.0,1775.4C512.5,1776.2 512.0,1777.2 511.8,1778.2C511.6,1779.3 511.5,1780.4 511.6,1781.5C511.8,1782.5 512.1,1783.6 512.6,1784.5C513.1,1785.4 513.8,1786.2 514.6,1786.8C515.3,1787.4 516.2,1787.8 517.1,1787.9C518.0,1788.1 519.0,1788.0 519.8,1787.7C520.7,1787.4 521.8,1786.4 522.2,1786.2" stroke-width="3.9"/>
<circle cx="557.3" cy="1762.4" r="2.3" class="f"/>
<path d="M540.2,1769.5 L540.2,1785.0M540.2,1775.7C541.0,1774.8 543.3,1771.2 545.1,1770.3C547.0,1769.4 550.4,1770.3 551.4,1770.3M557.3,1769.5 L557.3,1785.0M578.8,1777.2C578.7,1776.8 578.6,1775.2 578.2,1774.3C577.8,1773.4 577.3,1772.5 576.6,1771.8C575.9,1771.1 575.1,1770.5 574.2,1770.1C573.3,1769.7 572.3,1769.5 571.3,1769.5C570.4,1769.5 569.4,1769.7 568.5,1770.1C567.6,1770.5 566.8,1771.1 566.1,1771.8C565.4,1772.5 564.9,1773.4 564.5,1774.3C564.1,1775.2 563.9,1776.3 563.9,1777.2C563.9,1778.2 564.1,1779.3 564.5,1780.2C564.9,1781.1 565.4,1782.0 566.1,1782.7C566.8,1783.4 567.6,1784.0 568.5,1784.4C569.4,1784.8 570.4,1785.0 571.3,1785.0C572.3,1785.0 573.3,1784.8 574.2,1784.4C575.1,1784.0 575.9,1783.4 576.6,1782.7C577.3,1782.0 577.8,1781.1 578.2,1780.2C578.6,1779.3 578.7,1777.7 578.8,1777.2M578.8,1769.5C578.8,1771.6 578.8,1778.3 578.8,1781.9C578.7,1785.5 579.4,1788.9 578.4,1791.2C577.5,1793.5 575.1,1795.5 573.0,1795.8C570.9,1796.2 566.8,1793.9 565.6,1793.5M584.0,1757.1 L584.0,1785.0M584.0,1775.7C585.0,1774.7 587.7,1770.5 589.8,1769.8C591.9,1769.2 595.0,1770.3 596.4,1771.8C597.8,1773.3 597.8,1776.6 598.0,1778.8C598.3,1781.0 598.0,1784.0 598.0,1785.0M609.1,1758.9C609.1,1762.7 608.5,1777.5 609.1,1781.9C609.6,1786.3 611.8,1784.5 612.4,1785.0M603.3,1769.5 L616.2,1769.1" stroke-width="3.9"/>
<circle cx="193.5" cy="1853.8" r="2.3" class="f"/>
<path d="M181.1,1855.0 L181.1,1821.0 L168.4,1845.0 L186.5,1845.0" stroke-width="3.9"/>
<path d="M220.9,1834.4 L229.3,1872.4 L238.2,1847.3 L246.8,1872.4 L255.7,1834.4M280.0,1856.0C279.3,1855.5 277.6,1853.9 276.1,1853.3C274.7,1852.7 273.0,1852.4 271.4,1852.4C269.9,1852.4 268.2,1852.8 266.8,1853.5C265.4,1854.2 264.1,1855.2 263.1,1856.4C262.2,1857.5 261.4,1859.0 261.1,1860.4C260.8,1861.8 260.9,1863.5 261.3,1864.9C261.6,1866.3 262.4,1867.7 263.4,1868.8C264.5,1869.9 265.9,1870.9 267.3,1871.5C268.7,1872.1 270.4,1872.4 272.0,1872.4C273.5,1872.4 275.2,1872.0 276.6,1871.3C278.0,1870.6 279.4,1869.6 280.3,1868.4C281.2,1867.3 282.0,1865.8 282.3,1864.4C282.6,1863.0 282.5,1861.3 282.2,1859.9C281.8,1858.5 280.3,1856.6 280.0,1856.0M282.5,1852.4 L283.0,1872.4M293.0,1834.4 L293.0,1872.4M302.6,1834.4 L302.6,1872.4M320.6,1851.1 L303.8,1863.4 L321.8,1872.4" stroke-width="3.9"/>
<path d="M368.6,1844.0C367.9,1844.1 366.0,1844.3 364.8,1844.9C363.6,1845.4 362.5,1846.3 361.6,1847.4C360.7,1848.4 359.9,1849.7 359.5,1851.1C359.0,1852.5 358.7,1854.0 358.7,1855.5C358.7,1857.0 359.0,1858.5 359.5,1859.9C359.9,1861.3 360.7,1862.6 361.6,1863.6C362.5,1864.7 363.6,1865.6 364.8,1866.1C366.0,1866.7 367.3,1867.0 368.6,1867.0C369.8,1867.0 371.2,1866.7 372.3,1866.1C373.5,1865.6 374.6,1864.7 375.5,1863.6C376.4,1862.6 377.2,1861.3 377.7,1859.9C378.1,1858.5 378.4,1857.0 378.4,1855.5C378.4,1854.0 378.1,1852.5 377.7,1851.1C377.2,1849.7 376.4,1848.4 375.5,1847.4C374.6,1846.3 373.5,1845.4 372.3,1844.9C371.2,1844.3 369.2,1844.1 368.6,1844.0M383.6,1844.0 L392.5,1867.0 L401.8,1844.0M408.2,1855.5C409.7,1855.4 414.2,1855.2 417.2,1855.0C420.1,1854.8 424.7,1855.6 425.7,1854.3C426.8,1853.1 424.2,1849.1 423.3,1847.5C422.3,1845.9 421.2,1845.4 420.0,1844.8C418.8,1844.2 417.4,1843.9 416.1,1844.0C414.8,1844.1 413.4,1844.5 412.3,1845.2C411.1,1845.9 410.0,1847.0 409.2,1848.2C408.4,1849.5 407.8,1851.0 407.4,1852.5C407.1,1854.0 407.0,1855.8 407.2,1857.3C407.4,1858.9 407.9,1860.5 408.7,1861.8C409.4,1863.1 410.4,1864.4 411.5,1865.2C412.5,1866.0 413.9,1866.7 415.2,1866.9C416.4,1867.1 417.9,1867.0 419.1,1866.6C420.3,1866.1 422.0,1864.7 422.6,1864.3M431.5,1844.0 L431.5,1867.0M431.5,1853.2C432.6,1851.9 435.5,1846.5 437.9,1845.2C440.4,1843.8 444.7,1845.2 446.1,1845.2" stroke-width="3.9"/>
<path d="M479.0,1843.0 L479.0,1878.7M479.6,1853.5C479.7,1854.2 479.8,1856.3 480.2,1857.5C480.6,1858.8 481.3,1860.0 482.0,1860.9C482.8,1861.9 483.7,1862.7 484.7,1863.2C485.7,1863.7 486.9,1864.0 487.9,1864.0C489.0,1864.0 490.2,1863.7 491.1,1863.2C492.1,1862.7 493.1,1861.9 493.9,1860.9C494.6,1860.0 495.3,1858.8 495.7,1857.5C496.1,1856.3 496.3,1854.8 496.3,1853.5C496.3,1852.2 496.1,1850.7 495.7,1849.5C495.3,1848.2 494.6,1847.0 493.9,1846.1C493.1,1845.1 492.1,1844.3 491.1,1843.8C490.2,1843.3 489.0,1843.0 487.9,1843.0C486.9,1843.0 485.7,1843.3 484.7,1843.8C483.7,1844.3 482.8,1845.1 482.0,1846.1C481.3,1847.0 480.6,1848.2 480.2,1849.5C479.8,1850.7 479.7,1852.8 479.6,1853.5M510.5,1843.0C509.9,1843.1 508.2,1843.3 507.2,1843.8C506.2,1844.3 505.2,1845.1 504.4,1846.1C503.6,1847.0 503.0,1848.2 502.6,1849.5C502.1,1850.7 501.9,1852.2 501.9,1853.5C501.9,1854.8 502.1,1856.3 502.6,1857.5C503.0,1858.8 503.6,1860.0 504.4,1860.9C505.2,1861.9 506.2,1862.7 507.2,1863.2C508.2,1863.7 509.4,1864.0 510.5,1864.0C511.6,1864.0 512.7,1863.7 513.8,1863.2C514.8,1862.7 515.8,1861.9 516.5,1860.9C517.3,1860.0 518.0,1858.8 518.4,1857.5C518.8,1856.3 519.0,1854.8 519.0,1853.5C519.0,1852.2 518.8,1850.7 518.4,1849.5C518.0,1848.2 517.3,1847.0 516.5,1846.1C515.8,1845.1 514.8,1844.3 513.8,1843.8C512.7,1843.3 511.0,1843.1 510.5,1843.0M525.8,1832.5 L525.8,1864.0M534.7,1853.5C536.0,1853.4 540.0,1853.3 542.5,1853.1C545.1,1852.9 549.1,1853.6 550.0,1852.5C550.9,1851.3 548.7,1847.6 547.8,1846.2C547.0,1844.7 546.0,1844.3 545.0,1843.7C543.9,1843.2 542.7,1842.9 541.6,1843.0C540.5,1843.1 539.3,1843.5 538.3,1844.1C537.3,1844.8 536.3,1845.8 535.6,1846.9C534.9,1848.0 534.3,1849.4 534.0,1850.8C533.8,1852.2 533.7,1853.8 533.9,1855.2C534.0,1856.6 534.5,1858.1 535.1,1859.3C535.7,1860.5 536.6,1861.6 537.6,1862.4C538.5,1863.1 539.7,1863.7 540.8,1863.9C541.9,1864.1 543.1,1864.0 544.2,1863.6C545.3,1863.2 546.7,1861.9 547.2,1861.5M568.4,1845.5C567.4,1845.1 564.4,1842.7 562.4,1843.0C560.5,1843.3 556.8,1845.6 556.5,1847.2C556.2,1848.8 558.9,1851.1 560.6,1852.5C562.3,1853.8 565.2,1853.9 566.5,1855.2C567.9,1856.5 569.7,1858.8 569.0,1860.2C568.3,1861.7 564.7,1863.8 562.4,1864.0C560.2,1864.2 556.7,1861.9 555.6,1861.5" stroke-width="3.9"/>
<circle cx="191.4" cy="1949.1" r="2.3" class="f"/>
<path d="M181.5,1924.5 L164.7,1924.5 L163.5,1935.8M163.5,1935.8C165.4,1935.5 171.6,1933.2 174.8,1934.2C177.9,1935.2 182.8,1939.1 182.6,1941.8C182.4,1944.4 177.2,1949.0 173.6,1950.0C170.1,1951.0 163.4,1948.1 161.3,1947.8" stroke-width="3.9"/>
<path d="M225.2,1923.5 L246.6,1922.9M235.5,1923.2 L236.0,1948.0M250.7,1932.0 L250.7,1948.0M250.7,1938.4C251.7,1937.5 254.2,1933.7 256.3,1932.8C258.4,1931.9 262.2,1932.8 263.4,1932.8M276.6,1932.0C276.1,1932.1 274.4,1932.2 273.4,1932.6C272.4,1933.0 271.4,1933.6 270.6,1934.3C269.8,1935.1 269.1,1936.0 268.7,1936.9C268.3,1937.9 268.1,1939.0 268.1,1940.0C268.1,1941.0 268.3,1942.1 268.7,1943.1C269.1,1944.0 269.8,1944.9 270.6,1945.7C271.4,1946.4 272.4,1947.0 273.4,1947.4C274.4,1947.8 275.5,1948.0 276.6,1948.0C277.7,1948.0 278.9,1947.8 279.9,1947.4C280.9,1947.0 281.9,1946.4 282.7,1945.7C283.5,1944.9 284.1,1944.0 284.6,1943.1C285.0,1942.1 285.2,1941.0 285.2,1940.0C285.2,1939.0 285.0,1937.9 284.6,1936.9C284.1,1936.0 283.5,1935.1 282.7,1934.3C281.9,1933.6 280.9,1933.0 279.9,1932.6C278.9,1932.2 277.2,1932.1 276.6,1932.0M296.2,1924.5C296.2,1927.8 295.6,1940.9 296.2,1944.8C296.8,1948.7 299.3,1947.5 299.9,1948.0M289.7,1932.0 L304.2,1931.7" stroke-width="3.9"/>
<path d="M358.0,1917.4C358.0,1922.1 357.3,1940.3 358.0,1945.6C358.6,1950.9 361.1,1948.4 361.7,1949.0M351.4,1932.0 L366.0,1931.5M379.3,1932.0C378.8,1932.1 377.0,1932.2 376.0,1932.6C375.0,1933.1 374.0,1933.7 373.2,1934.5C372.4,1935.3 371.8,1936.2 371.3,1937.2C370.9,1938.2 370.7,1939.4 370.7,1940.5C370.7,1941.6 370.9,1942.8 371.3,1943.8C371.8,1944.8 372.4,1945.7 373.2,1946.5C374.0,1947.3 375.0,1947.9 376.0,1948.4C377.0,1948.8 378.2,1949.0 379.3,1949.0C380.4,1949.0 381.6,1948.8 382.6,1948.4C383.6,1947.9 384.6,1947.3 385.4,1946.5C386.2,1945.7 386.8,1944.8 387.3,1943.8C387.7,1942.8 387.9,1941.6 387.9,1940.5C387.9,1939.4 387.7,1938.2 387.3,1937.2C386.8,1936.2 386.2,1935.3 385.4,1934.5C384.6,1933.7 383.6,1933.1 382.6,1932.6C381.6,1932.2 379.9,1932.1 379.3,1932.0" stroke-width="3.9"/>
<path d="M419.5,1913.3 L419.5,1949.0M420.1,1940.5C420.2,1941.0 420.4,1942.8 420.8,1943.8C421.3,1944.8 422.0,1945.7 422.9,1946.5C423.7,1947.3 424.8,1947.9 425.9,1948.4C427.0,1948.8 428.3,1949.0 429.5,1949.0C430.7,1949.0 432.0,1948.8 433.1,1948.4C434.2,1947.9 435.3,1947.3 436.1,1946.5C437.0,1945.7 437.7,1944.8 438.1,1943.8C438.6,1942.8 438.9,1941.6 438.9,1940.5C438.9,1939.4 438.6,1938.2 438.1,1937.2C437.7,1936.2 437.0,1935.3 436.1,1934.5C435.3,1933.7 434.2,1933.1 433.1,1932.6C432.0,1932.2 430.7,1932.0 429.5,1932.0C428.3,1932.0 427.0,1932.2 425.9,1932.6C424.8,1933.1 423.7,1933.7 422.9,1934.5C422.0,1935.3 421.3,1936.2 420.8,1937.2C420.4,1938.2 420.2,1940.0 420.1,1940.5M461.4,1935.0C460.9,1934.7 459.3,1933.3 458.1,1932.8C456.9,1932.2 455.4,1932.0 454.0,1932.0C452.7,1932.0 451.2,1932.4 450.0,1932.9C448.8,1933.5 447.6,1934.4 446.8,1935.4C446.0,1936.3 445.3,1937.6 445.1,1938.8C444.8,1940.0 444.8,1941.4 445.2,1942.6C445.5,1943.8 446.2,1945.0 447.1,1946.0C448.0,1946.9 449.2,1947.7 450.4,1948.2C451.6,1948.8 453.1,1949.0 454.5,1949.0C455.8,1949.0 457.3,1948.6 458.5,1948.1C459.7,1947.5 460.9,1946.6 461.7,1945.6C462.5,1944.7 463.2,1943.4 463.4,1942.2C463.7,1941.0 463.7,1939.6 463.3,1938.4C463.0,1937.2 461.8,1935.6 461.4,1935.0M463.6,1932.0 L464.0,1949.0M470.3,1932.0 L470.3,1949.0M470.3,1938.8C471.3,1937.8 474.2,1933.8 476.5,1932.8C478.9,1931.9 483.1,1932.8 484.4,1932.8M489.4,1932.0 L489.4,1949.0M489.4,1938.8C490.5,1937.8 493.3,1933.8 495.7,1932.8C498.0,1931.9 502.3,1932.8 503.6,1932.8M510.2,1940.5C511.7,1940.4 516.1,1940.3 519.0,1940.2C521.8,1940.0 526.3,1940.6 527.3,1939.7C528.3,1938.7 525.9,1935.8 524.9,1934.6C524.0,1933.4 522.9,1933.0 521.7,1932.6C520.6,1932.2 519.2,1932.0 518.0,1932.0C516.7,1932.1 515.4,1932.4 514.3,1932.9C513.1,1933.4 512.1,1934.2 511.3,1935.1C510.5,1936.0 509.8,1937.2 509.5,1938.3C509.2,1939.4 509.1,1940.7 509.3,1941.9C509.5,1943.0 510.0,1944.2 510.7,1945.2C511.4,1946.1 512.4,1947.0 513.4,1947.7C514.5,1948.3 515.8,1948.7 517.0,1948.9C518.3,1949.1 519.7,1949.0 520.9,1948.7C522.1,1948.4 523.7,1947.3 524.3,1947.0M535.4,1913.3 L535.4,1949.0M547.5,1947.3 L543.8,1955.0" stroke-width="3.9"/>
<path d="M568.5,1934.2C567.7,1933.8 565.5,1931.8 564.0,1932.0C562.6,1932.2 559.8,1934.2 559.6,1935.6C559.4,1936.9 561.4,1939.0 562.6,1940.1C563.9,1941.2 566.0,1941.3 567.1,1942.4C568.1,1943.6 569.4,1945.5 568.9,1946.8C568.4,1948.0 565.7,1949.8 564.0,1950.0C562.4,1950.2 559.8,1948.2 558.9,1947.8M577.4,1921.2C577.4,1925.4 577.0,1941.6 577.4,1946.4C577.9,1951.2 579.7,1949.4 580.2,1950.0M572.6,1932.0 L583.4,1931.6M593.2,1932.0C592.8,1932.1 591.5,1932.2 590.8,1932.7C590.0,1933.1 589.3,1933.8 588.7,1934.6C588.1,1935.4 587.6,1936.5 587.3,1937.6C587.0,1938.6 586.8,1939.9 586.8,1941.0C586.8,1942.1 587.0,1943.4 587.3,1944.4C587.6,1945.5 588.1,1946.6 588.7,1947.4C589.3,1948.2 590.0,1948.9 590.8,1949.3C591.5,1949.8 592.4,1950.0 593.2,1950.0C594.0,1950.0 594.9,1949.8 595.6,1949.3C596.4,1948.9 597.1,1948.2 597.7,1947.4C598.3,1946.6 598.8,1945.5 599.1,1944.4C599.4,1943.4 599.6,1942.1 599.6,1941.0C599.6,1939.9 599.4,1938.6 599.1,1937.6C598.8,1936.5 598.3,1935.4 597.7,1934.6C597.1,1933.8 596.4,1933.1 595.6,1932.7C594.9,1932.2 593.6,1932.1 593.2,1932.0M602.9,1932.0 L602.9,1962.6M603.3,1941.0C603.4,1941.6 603.5,1943.4 603.8,1944.4C604.1,1945.5 604.6,1946.6 605.1,1947.4C605.7,1948.2 606.4,1948.9 607.1,1949.3C607.9,1949.8 608.7,1950.0 609.5,1950.0C610.3,1950.0 611.2,1949.8 611.9,1949.3C612.6,1948.9 613.3,1948.2 613.9,1947.4C614.5,1946.6 615.0,1945.5 615.3,1944.4C615.6,1943.4 615.7,1942.1 615.7,1941.0C615.7,1939.9 615.6,1938.6 615.3,1937.6C615.0,1936.5 614.5,1935.4 613.9,1934.6C613.3,1933.8 612.6,1933.1 611.9,1932.7C611.2,1932.2 610.3,1932.0 609.5,1932.0C608.7,1932.0 607.9,1932.2 607.1,1932.7C606.4,1933.1 605.7,1933.8 605.1,1934.6C604.6,1935.4 604.1,1936.5 603.8,1937.6C603.5,1938.6 603.4,1940.4 603.3,1941.0" stroke-width="3.9"/>
<circle cx="194.5" cy="2038.6" r="2.3" class="f"/>
<path d="M184.4,1999.2C182.7,2001.2 176.7,2006.4 174.2,2011.2C171.6,2016.0 168.5,2023.2 169.0,2028.0C169.5,2032.8 174.3,2039.6 177.2,2040.0C180.2,2040.4 186.3,2033.8 186.5,2030.4C186.7,2027.0 181.0,2020.0 178.3,2019.6C175.5,2019.2 171.4,2026.6 170.1,2028.0" stroke-width="3.9"/>
<circle cx="250.9" cy="2013.9" r="2.3" class="f"/>
<path d="M225.4,2038.2 L225.4,2008.5M225.4,2008.5C227.4,2008.5 234.3,2007.6 237.3,2008.8C240.2,2010.0 243.2,2013.3 243.2,2015.7C243.2,2018.2 240.2,2022.1 237.3,2023.4C234.3,2024.7 227.4,2023.7 225.4,2023.8M250.9,2021.2 L250.9,2038.2M274.5,2024.2C274.0,2023.9 272.7,2022.6 271.7,2022.1C270.6,2021.6 269.4,2021.3 268.2,2021.2C267.0,2021.1 265.7,2021.3 264.6,2021.7C263.5,2022.1 262.4,2022.7 261.6,2023.5C260.7,2024.3 260.0,2025.3 259.5,2026.3C259.0,2027.4 258.8,2028.6 258.8,2029.7C258.8,2030.8 259.0,2032.0 259.5,2033.1C260.0,2034.1 260.7,2035.1 261.6,2035.9C262.4,2036.7 263.5,2037.3 264.6,2037.7C265.7,2038.1 267.0,2038.3 268.2,2038.2C269.4,2038.1 270.6,2037.8 271.7,2037.3C272.7,2036.8 274.0,2035.5 274.5,2035.2M280.9,2008.5 L280.9,2038.2M295.7,2020.3 L281.9,2030.5 L296.7,2038.2" stroke-width="3.9"/>
<path d="M318.8,2018.0C318.9,2020.0 318.1,2027.1 319.2,2029.9C320.2,2032.7 322.9,2034.9 325.3,2035.0C327.6,2035.1 331.9,2031.5 333.2,2030.8M334.0,2018.0 L334.0,2035.0M339.5,2018.0 L339.5,2046.9M340.1,2026.5C340.2,2027.0 340.3,2028.8 340.7,2029.8C341.1,2030.8 341.8,2031.7 342.5,2032.5C343.3,2033.3 344.2,2033.9 345.2,2034.4C346.2,2034.8 347.3,2035.0 348.4,2035.0C349.4,2035.0 350.6,2034.8 351.6,2034.4C352.5,2033.9 353.5,2033.3 354.3,2032.5C355.0,2031.7 355.7,2030.8 356.1,2029.8C356.5,2028.8 356.7,2027.6 356.7,2026.5C356.7,2025.4 356.5,2024.2 356.1,2023.2C355.7,2022.2 355.0,2021.3 354.3,2020.5C353.5,2019.7 352.5,2019.1 351.6,2018.6C350.6,2018.2 349.4,2018.0 348.4,2018.0C347.3,2018.0 346.2,2018.2 345.2,2018.6C344.2,2019.1 343.3,2019.7 342.5,2020.5C341.8,2021.3 341.1,2022.2 340.7,2023.2C340.3,2024.2 340.2,2026.0 340.1,2026.5" stroke-width="3.9"/>
<circle cx="403.7" cy="2009.7" r="2.3" class="f"/>
<path d="M388.9,2020.0C388.0,2019.7 385.5,2017.8 383.8,2018.0C382.1,2018.2 379.0,2020.1 378.8,2021.4C378.5,2022.7 380.8,2024.6 382.2,2025.7C383.6,2026.7 386.1,2026.8 387.3,2027.9C388.5,2028.9 389.9,2030.8 389.3,2031.9C388.7,2033.1 385.7,2034.8 383.8,2035.0C381.9,2035.2 378.9,2033.3 378.0,2033.0M395.5,2003.5 L395.5,2035.0M403.7,2018.0 L403.7,2035.0M422.5,2021.0C422.1,2020.7 421.1,2019.4 420.3,2018.9C419.4,2018.4 418.4,2018.1 417.5,2018.0C416.6,2017.9 415.5,2018.1 414.7,2018.5C413.8,2018.9 412.9,2019.5 412.2,2020.3C411.5,2021.1 410.9,2022.1 410.6,2023.1C410.2,2024.2 410.0,2025.4 410.0,2026.5C410.0,2027.6 410.2,2028.8 410.6,2029.9C410.9,2030.9 411.5,2031.9 412.2,2032.7C412.9,2033.5 413.8,2034.1 414.7,2034.5C415.5,2034.9 416.6,2035.1 417.5,2035.0C418.4,2034.9 419.4,2034.6 420.3,2034.1C421.1,2033.6 422.1,2032.3 422.5,2032.0M427.6,2003.5 L427.6,2035.0M439.5,2017.0 L428.4,2027.3 L440.3,2035.0M445.8,2026.5C446.9,2026.4 450.2,2026.3 452.4,2026.2C454.6,2026.0 458.0,2026.6 458.7,2025.7C459.5,2024.7 457.6,2021.8 456.9,2020.6C456.2,2019.4 455.4,2019.0 454.5,2018.6C453.6,2018.2 452.6,2018.0 451.6,2018.0C450.7,2018.1 449.7,2018.4 448.8,2018.9C448.0,2019.4 447.1,2020.2 446.5,2021.1C445.9,2022.0 445.5,2023.2 445.2,2024.3C445.0,2025.4 444.9,2026.7 445.1,2027.9C445.2,2029.0 445.6,2030.2 446.1,2031.2C446.6,2032.1 447.4,2033.0 448.2,2033.7C449.0,2034.3 450.0,2034.7 450.9,2034.9C451.9,2035.1 452.9,2035.0 453.8,2034.7C454.7,2034.4 456.0,2033.3 456.4,2033.0M463.0,2018.0 L463.0,2035.0M463.0,2024.8C463.8,2023.8 465.9,2019.8 467.7,2018.8C469.5,2017.9 472.7,2018.8 473.7,2018.8" stroke-width="3.9"/>
<path d="M515.5,2023.0C515.1,2022.7 513.9,2021.3 512.9,2020.8C512.0,2020.2 510.8,2020.0 509.7,2020.0C508.7,2020.0 507.5,2020.4 506.6,2020.9C505.6,2021.5 504.7,2022.4 504.1,2023.4C503.4,2024.3 503.0,2025.6 502.7,2026.8C502.5,2028.0 502.6,2029.4 502.8,2030.6C503.1,2031.8 503.6,2033.0 504.3,2034.0C505.0,2034.9 505.9,2035.7 506.9,2036.2C507.9,2036.8 509.0,2037.0 510.1,2037.0C511.2,2037.0 512.3,2036.6 513.3,2036.1C514.2,2035.5 515.1,2034.6 515.7,2033.6C516.4,2032.7 516.9,2031.4 517.1,2030.2C517.3,2029.0 517.3,2027.6 517.0,2026.4C516.7,2025.2 515.8,2023.6 515.5,2023.0M517.2,2020.0 L517.6,2037.0M522.4,2020.0 L522.4,2037.0M522.4,2026.0C523.5,2025.0 526.8,2020.4 528.9,2020.0C531.1,2019.6 534.0,2020.6 535.1,2023.4C536.3,2026.2 535.7,2034.7 535.8,2037.0M555.3,2028.5C555.2,2028.0 555.1,2026.2 554.7,2025.2C554.4,2024.2 553.8,2023.3 553.1,2022.5C552.5,2021.7 551.6,2021.1 550.8,2020.6C549.9,2020.2 548.9,2020.0 548.0,2020.0C547.0,2020.0 546.0,2020.2 545.2,2020.6C544.3,2021.1 543.4,2021.7 542.8,2022.5C542.1,2023.3 541.6,2024.2 541.2,2025.2C540.8,2026.2 540.6,2027.4 540.6,2028.5C540.6,2029.6 540.8,2030.8 541.2,2031.8C541.6,2032.8 542.1,2033.7 542.8,2034.5C543.4,2035.3 544.3,2035.9 545.2,2036.4C546.0,2036.8 547.0,2037.0 548.0,2037.0C548.9,2037.0 549.9,2036.8 550.8,2036.4C551.6,2035.9 552.5,2035.3 553.1,2034.5C553.8,2033.7 554.4,2032.8 554.7,2031.8C555.1,2030.8 555.2,2029.0 555.3,2028.5M555.6,2010.7 L555.6,2037.0" stroke-width="3.9"/>
<path d="M588.4,2021.5C587.6,2021.2 585.3,2019.3 583.8,2019.5C582.2,2019.7 579.4,2021.6 579.2,2022.9C578.9,2024.2 581.0,2026.1 582.3,2027.2C583.6,2028.2 585.8,2028.3 586.9,2029.4C588.0,2030.4 589.3,2032.2 588.8,2033.4C588.3,2034.6 585.5,2036.3 583.8,2036.5C582.0,2036.7 579.3,2034.8 578.4,2034.5M592.7,2006.8 L592.7,2036.5M592.7,2026.3C593.5,2025.2 595.9,2020.5 597.7,2019.8C599.5,2019.1 602.3,2020.4 603.5,2022.0C604.7,2023.7 604.7,2027.3 604.9,2029.7C605.1,2032.1 604.9,2035.4 604.9,2036.5M616.3,2019.5C615.8,2019.6 614.5,2019.7 613.7,2020.1C612.9,2020.6 612.2,2021.2 611.6,2022.0C611.0,2022.8 610.5,2023.7 610.1,2024.7C609.8,2025.7 609.6,2026.9 609.6,2028.0C609.6,2029.1 609.8,2030.3 610.1,2031.3C610.5,2032.3 611.0,2033.2 611.6,2034.0C612.2,2034.8 612.9,2035.4 613.7,2035.9C614.5,2036.3 615.4,2036.5 616.3,2036.5C617.1,2036.5 618.0,2036.3 618.8,2035.9C619.6,2035.4 620.3,2034.8 620.9,2034.0C621.5,2033.2 622.0,2032.3 622.4,2031.3C622.7,2030.3 622.9,2029.1 622.9,2028.0C622.9,2026.9 622.7,2025.7 622.4,2024.7C622.0,2023.7 621.5,2022.8 620.9,2022.0C620.3,2021.2 619.6,2020.6 618.8,2020.1C618.0,2019.7 616.7,2019.6 616.3,2019.5M626.3,2019.5 L630.6,2036.5 L635.2,2022.9 L639.8,2036.5 L644.3,2019.5" stroke-width="3.9"/>
<path d="M273.4,2051.2C273.4,2054.7 272.8,2068.1 273.4,2072.1C274.0,2076.1 276.2,2074.5 276.8,2075.0M267.5,2060.5 L280.6,2060.2M292.6,2060.5C292.1,2060.6 290.6,2060.7 289.6,2061.1C288.7,2061.4 287.8,2062.0 287.1,2062.6C286.4,2063.3 285.8,2064.1 285.4,2065.0C285.1,2065.8 284.9,2066.8 284.9,2067.8C284.9,2068.7 285.1,2069.7 285.4,2070.5C285.8,2071.4 286.4,2072.2 287.1,2072.9C287.8,2073.5 288.7,2074.1 289.6,2074.4C290.6,2074.8 291.6,2075.0 292.6,2075.0C293.6,2075.0 294.7,2074.8 295.6,2074.4C296.5,2074.1 297.4,2073.5 298.1,2072.9C298.8,2072.2 299.4,2071.4 299.8,2070.5C300.2,2069.7 300.4,2068.7 300.4,2067.8C300.4,2066.8 300.2,2065.8 299.8,2065.0C299.4,2064.1 298.8,2063.3 298.1,2062.6C297.4,2062.0 296.5,2061.4 295.6,2061.1C294.7,2060.7 293.1,2060.6 292.6,2060.5" stroke-width="3.9"/>
<path d="M330.8,2053.6 L330.8,2079.0M330.8,2070.3C331.8,2069.4 334.8,2065.4 336.9,2064.8C339.1,2064.2 342.5,2065.3 344.0,2066.7C345.4,2068.1 345.4,2071.1 345.7,2073.2C346.0,2075.3 345.7,2078.0 345.7,2079.0M359.6,2064.5C359.1,2064.6 357.5,2064.7 356.5,2065.1C355.6,2065.4 354.6,2066.0 353.9,2066.6C353.2,2067.3 352.5,2068.1 352.1,2069.0C351.7,2069.8 351.5,2070.8 351.5,2071.8C351.5,2072.7 351.7,2073.7 352.1,2074.5C352.5,2075.4 353.2,2076.2 353.9,2076.9C354.6,2077.5 355.6,2078.1 356.5,2078.4C357.5,2078.8 358.6,2079.0 359.6,2079.0C360.6,2079.0 361.7,2078.8 362.7,2078.4C363.7,2078.1 364.6,2077.5 365.3,2076.9C366.0,2076.2 366.7,2075.4 367.1,2074.5C367.5,2073.7 367.7,2072.7 367.7,2071.8C367.7,2070.8 367.5,2069.8 367.1,2069.0C366.7,2068.1 366.0,2067.3 365.3,2066.6C364.6,2066.0 363.7,2065.4 362.7,2065.1C361.7,2064.7 360.1,2064.6 359.6,2064.5M371.9,2064.5 L371.9,2079.0M371.9,2070.3C372.8,2069.5 375.2,2066.1 377.2,2065.2C379.2,2064.4 382.7,2065.2 383.8,2065.2M400.7,2066.2C399.8,2065.9 397.0,2064.3 395.1,2064.5C393.2,2064.7 389.8,2066.3 389.5,2067.4C389.2,2068.5 391.8,2070.1 393.3,2071.0C394.9,2071.9 397.6,2072.0 399.0,2072.9C400.3,2073.8 401.9,2075.4 401.2,2076.4C400.6,2077.4 397.2,2078.9 395.1,2079.0C393.0,2079.1 389.7,2077.6 388.6,2077.3M407.4,2071.8C408.6,2071.7 412.4,2071.6 414.8,2071.5C417.2,2071.3 421.0,2071.8 421.8,2071.0C422.6,2070.2 420.6,2067.7 419.8,2066.7C419.0,2065.7 418.1,2065.4 417.1,2065.0C416.1,2064.6 415.0,2064.5 413.9,2064.5C412.8,2064.6 411.7,2064.8 410.8,2065.3C409.8,2065.7 408.9,2066.4 408.2,2067.2C407.6,2067.9 407.0,2068.9 406.8,2069.9C406.5,2070.8 406.4,2071.9 406.6,2072.9C406.8,2073.9 407.2,2074.9 407.8,2075.7C408.4,2076.6 409.2,2077.3 410.1,2077.9C411.0,2078.4 412.1,2078.8 413.1,2078.9C414.2,2079.1 415.3,2079.0 416.3,2078.7C417.4,2078.5 418.7,2077.5 419.2,2077.3M429.7,2077.6 L426.5,2084.1" stroke-width="3.9"/>
<path d="M440.8,2064.5 L440.8,2079.0M440.8,2070.3C441.6,2069.5 443.6,2066.1 445.4,2065.2C447.1,2064.4 450.2,2065.2 451.1,2065.2M456.0,2071.8C457.1,2071.7 460.3,2071.6 462.4,2071.5C464.5,2071.3 467.8,2071.8 468.5,2071.0C469.2,2070.2 467.4,2067.7 466.7,2066.7C466.1,2065.7 465.3,2065.4 464.4,2065.0C463.6,2064.6 462.6,2064.5 461.6,2064.5C460.7,2064.6 459.8,2064.8 458.9,2065.3C458.1,2065.7 457.3,2066.4 456.7,2067.2C456.2,2067.9 455.7,2068.9 455.5,2069.9C455.2,2070.8 455.2,2071.9 455.3,2072.9C455.5,2073.9 455.8,2074.9 456.3,2075.7C456.8,2076.6 457.6,2077.3 458.3,2077.9C459.1,2078.4 460.1,2078.8 461.0,2078.9C461.9,2079.1 462.9,2079.0 463.8,2078.7C464.6,2078.5 465.8,2077.5 466.2,2077.3M477.9,2055.2C477.9,2058.7 477.4,2072.1 477.9,2076.1C478.4,2080.1 480.4,2078.5 480.9,2079.0M472.6,2064.5 L484.4,2064.2M488.1,2064.5C488.1,2066.2 487.5,2072.2 488.4,2074.7C489.3,2077.1 491.5,2078.9 493.4,2079.0C495.3,2079.1 498.9,2076.0 500.0,2075.4M500.6,2064.5 L500.6,2079.0M505.1,2064.5 L505.1,2079.0M505.1,2070.3C505.9,2069.5 508.0,2066.1 509.7,2065.2C511.4,2064.4 514.5,2065.2 515.5,2065.2M519.1,2064.5 L519.1,2079.0M519.1,2069.6C520.1,2068.7 523.2,2064.9 525.2,2064.5C527.2,2064.1 529.9,2065.0 531.0,2067.4C532.0,2069.8 531.5,2077.1 531.6,2079.0" stroke-width="3.9"/>
<circle cx="554.7" cy="2054.2" r="2.3" class="f"/>
<path d="M554.7,2062.5 L554.7,2077.0M569.3,2050.1C569.3,2054.1 568.6,2069.6 569.3,2074.1C569.9,2078.6 572.5,2076.5 573.2,2077.0M562.5,2062.5 L577.6,2062.1" stroke-width="3.9"/>
<path d="M604.0,2052.2C604.0,2055.7 603.4,2069.1 604.0,2073.1C604.6,2077.1 607.1,2075.5 607.7,2076.0M597.6,2061.5 L611.9,2061.2M624.9,2061.5C624.4,2061.6 622.7,2061.7 621.7,2062.1C620.7,2062.4 619.7,2063.0 618.9,2063.6C618.2,2064.3 617.5,2065.1 617.1,2066.0C616.7,2066.8 616.5,2067.8 616.5,2068.8C616.5,2069.7 616.7,2070.7 617.1,2071.5C617.5,2072.4 618.2,2073.2 618.9,2073.9C619.7,2074.5 620.7,2075.1 621.7,2075.4C622.7,2075.8 623.8,2076.0 624.9,2076.0C626.0,2076.0 627.1,2075.8 628.1,2075.4C629.1,2075.1 630.1,2074.5 630.9,2073.9C631.6,2073.2 632.3,2072.4 632.7,2071.5C633.1,2070.7 633.3,2069.7 633.3,2068.8C633.3,2067.8 633.1,2066.8 632.7,2066.0C632.3,2065.1 631.6,2064.3 630.9,2063.6C630.1,2063.0 629.1,2062.4 628.1,2062.1C627.1,2061.7 625.4,2061.6 624.9,2061.5" stroke-width="3.9"/>
<path d="M288.6,2082.4 L288.6,2110.6M289.1,2102.3C289.2,2102.8 289.3,2104.5 289.7,2105.5C290.0,2106.5 290.6,2107.4 291.3,2108.2C291.9,2108.9 292.8,2109.6 293.7,2110.0C294.6,2110.4 295.6,2110.6 296.5,2110.6C297.5,2110.6 298.5,2110.4 299.4,2110.0C300.3,2109.6 301.1,2108.9 301.8,2108.2C302.5,2107.4 303.0,2106.5 303.4,2105.5C303.8,2104.5 304.0,2103.4 304.0,2102.3C304.0,2101.2 303.8,2100.1 303.4,2099.1C303.0,2098.1 302.5,2097.2 301.8,2096.4C301.1,2095.7 300.3,2095.0 299.4,2094.6C298.5,2094.2 297.5,2094.0 296.5,2094.0C295.6,2094.0 294.6,2094.2 293.7,2094.6C292.8,2095.0 291.9,2095.7 291.3,2096.4C290.6,2097.2 290.0,2098.1 289.7,2099.1C289.3,2100.1 289.2,2101.8 289.1,2102.3M321.9,2097.0C321.4,2096.6 320.2,2095.2 319.2,2094.7C318.3,2094.2 317.1,2094.0 316.0,2094.0C314.9,2094.0 313.8,2094.4 312.8,2094.9C311.8,2095.5 310.9,2096.3 310.3,2097.3C309.6,2098.2 309.1,2099.5 308.9,2100.7C308.7,2101.8 308.7,2103.2 309.0,2104.3C309.3,2105.5 309.8,2106.7 310.5,2107.6C311.2,2108.6 312.2,2109.4 313.1,2109.9C314.1,2110.4 315.3,2110.6 316.4,2110.6C317.5,2110.6 318.6,2110.2 319.6,2109.7C320.5,2109.1 321.5,2108.3 322.1,2107.3C322.8,2106.4 323.3,2105.1 323.5,2103.9C323.7,2102.8 323.7,2101.4 323.4,2100.3C323.1,2099.1 322.1,2097.5 321.9,2097.0M323.6,2094.0 L324.0,2110.6M328.9,2094.0 L328.9,2110.6M328.9,2100.6C329.7,2099.7 332.0,2095.8 333.9,2094.8C335.7,2093.9 339.1,2094.8 340.1,2094.8M344.1,2094.0 L344.1,2110.6M344.1,2100.6C344.9,2099.7 347.2,2095.8 349.1,2094.8C350.9,2093.9 354.3,2094.8 355.3,2094.8M360.6,2102.3C361.8,2102.2 365.3,2102.1 367.6,2102.0C369.8,2101.8 373.4,2102.4 374.2,2101.5C375.0,2100.6 373.0,2097.7 372.3,2096.5C371.6,2095.4 370.7,2095.0 369.8,2094.6C368.8,2094.2 367.8,2094.0 366.8,2094.0C365.8,2094.1 364.7,2094.4 363.8,2094.9C362.9,2095.4 362.1,2096.2 361.4,2097.1C360.8,2097.9 360.3,2099.1 360.1,2100.2C359.8,2101.2 359.7,2102.5 359.9,2103.6C360.1,2104.7 360.5,2105.9 361.0,2106.9C361.5,2107.8 362.3,2108.7 363.2,2109.3C364.0,2109.9 365.0,2110.3 366.0,2110.5C367.0,2110.7 368.1,2110.6 369.1,2110.3C370.0,2110.0 371.3,2108.9 371.8,2108.7M380.6,2082.4 L380.6,2110.6" stroke-width="3.9"/>
<circle cx="1012.1" cy="1699.6" r="2.3" class="f"/>
<path d="M983.8,1670.1 L1003.6,1670.1 L991.5,1700.7" stroke-width="3.9"/>
<path d="M1025.3,1669.9 L1046.0,1669.3M1035.2,1669.6 L1035.8,1696.0M1050.0,1680.0 L1050.0,1696.0M1050.0,1686.4C1050.9,1685.5 1053.4,1681.7 1055.4,1680.8C1057.5,1679.9 1061.1,1680.8 1062.3,1680.8M1075.1,1680.0C1074.5,1680.1 1072.9,1680.2 1071.9,1680.6C1070.9,1681.0 1069.9,1681.6 1069.2,1682.3C1068.4,1683.1 1067.8,1684.0 1067.4,1684.9C1067.0,1685.9 1066.8,1687.0 1066.8,1688.0C1066.8,1689.0 1067.0,1690.1 1067.4,1691.1C1067.8,1692.0 1068.4,1692.9 1069.2,1693.7C1069.9,1694.4 1070.9,1695.0 1071.9,1695.4C1072.9,1695.8 1074.0,1696.0 1075.1,1696.0C1076.1,1696.0 1077.3,1695.8 1078.2,1695.4C1079.2,1695.0 1080.2,1694.4 1080.9,1693.7C1081.7,1692.9 1082.3,1692.0 1082.7,1691.1C1083.1,1690.1 1083.4,1689.0 1083.4,1688.0C1083.4,1687.0 1083.1,1685.9 1082.7,1684.9C1082.3,1684.0 1081.7,1683.1 1080.9,1682.3C1080.2,1681.6 1079.2,1681.0 1078.2,1680.6C1077.3,1680.2 1075.6,1680.1 1075.1,1680.0M1094.0,1671.1C1094.0,1674.7 1093.4,1688.6 1094.0,1692.8C1094.6,1697.0 1097.0,1695.5 1097.6,1696.0M1087.7,1680.0 L1101.7,1679.7" stroke-width="3.9"/>
<path d="M1157.0,1676.2C1157.0,1678.6 1156.5,1687.7 1157.0,1690.5C1157.6,1693.3 1159.8,1692.6 1160.3,1693.0M1151.3,1680.5 L1164.1,1680.4M1175.7,1680.5C1175.2,1680.6 1173.7,1680.7 1172.8,1681.0C1172.0,1681.3 1171.1,1681.8 1170.4,1682.3C1169.7,1682.9 1169.1,1683.6 1168.8,1684.4C1168.4,1685.1 1168.2,1686.0 1168.2,1686.8C1168.2,1687.5 1168.4,1688.4 1168.8,1689.1C1169.1,1689.9 1169.7,1690.6 1170.4,1691.2C1171.1,1691.7 1172.0,1692.2 1172.8,1692.5C1173.7,1692.8 1174.8,1693.0 1175.7,1693.0C1176.7,1693.0 1177.7,1692.8 1178.6,1692.5C1179.5,1692.2 1180.4,1691.7 1181.1,1691.2C1181.7,1690.6 1182.3,1689.9 1182.7,1689.1C1183.1,1688.4 1183.3,1687.5 1183.3,1686.8C1183.3,1686.0 1183.1,1685.1 1182.7,1684.4C1182.3,1683.6 1181.7,1682.9 1181.1,1682.3C1180.4,1681.8 1179.5,1681.3 1178.6,1681.0C1177.7,1680.7 1176.2,1680.6 1175.7,1680.5" stroke-width="3.9"/>
<path d="M1226.6,1669.6 L1226.6,1696.0M1227.2,1688.0C1227.3,1688.5 1227.4,1690.1 1227.8,1691.1C1228.3,1692.0 1228.9,1692.9 1229.7,1693.7C1230.5,1694.4 1231.5,1695.0 1232.5,1695.4C1233.5,1695.8 1234.7,1696.0 1235.8,1696.0C1236.9,1696.0 1238.1,1695.8 1239.1,1695.4C1240.1,1695.0 1241.1,1694.4 1241.9,1693.7C1242.7,1692.9 1243.3,1692.0 1243.8,1691.1C1244.2,1690.1 1244.4,1689.0 1244.4,1688.0C1244.4,1687.0 1244.2,1685.9 1243.8,1684.9C1243.3,1684.0 1242.7,1683.1 1241.9,1682.3C1241.1,1681.6 1240.1,1681.0 1239.1,1680.6C1238.1,1680.2 1236.9,1680.0 1235.8,1680.0C1234.7,1680.0 1233.5,1680.2 1232.5,1680.6C1231.5,1681.0 1230.5,1681.6 1229.7,1682.3C1228.9,1683.1 1228.3,1684.0 1227.8,1684.9C1227.4,1685.9 1227.3,1687.5 1227.2,1688.0M1265.2,1682.9C1264.7,1682.5 1263.3,1681.2 1262.1,1680.7C1261.0,1680.2 1259.6,1680.0 1258.4,1680.0C1257.1,1680.0 1255.8,1680.4 1254.7,1680.9C1253.6,1681.4 1252.5,1682.2 1251.7,1683.2C1251.0,1684.1 1250.4,1685.3 1250.1,1686.4C1249.9,1687.5 1249.9,1688.9 1250.2,1690.0C1250.6,1691.1 1251.2,1692.3 1252.0,1693.1C1252.8,1694.0 1253.9,1694.8 1255.1,1695.3C1256.2,1695.8 1257.6,1696.0 1258.8,1696.0C1260.1,1696.0 1261.4,1695.6 1262.5,1695.1C1263.6,1694.6 1264.7,1693.8 1265.5,1692.8C1266.2,1691.9 1266.8,1690.7 1267.1,1689.6C1267.3,1688.5 1267.3,1687.1 1267.0,1686.0C1266.6,1684.9 1265.5,1683.4 1265.2,1682.9M1267.2,1680.0 L1267.6,1696.0M1288.6,1682.9C1288.1,1682.5 1286.9,1681.3 1285.8,1680.9C1284.8,1680.4 1283.6,1680.1 1282.5,1680.0C1281.3,1680.0 1280.1,1680.1 1279.0,1680.5C1278.0,1680.8 1276.9,1681.5 1276.1,1682.2C1275.2,1682.9 1274.5,1683.9 1274.1,1684.8C1273.6,1685.8 1273.4,1686.9 1273.4,1688.0C1273.4,1689.1 1273.6,1690.2 1274.1,1691.2C1274.5,1692.1 1275.2,1693.1 1276.1,1693.8C1276.9,1694.5 1278.0,1695.2 1279.0,1695.5C1280.1,1695.9 1281.3,1696.0 1282.5,1696.0C1283.6,1695.9 1284.8,1695.6 1285.8,1695.1C1286.9,1694.7 1288.1,1693.5 1288.6,1693.1M1294.8,1669.6 L1294.8,1696.0M1309.2,1679.3 L1295.8,1688.8 L1310.1,1696.0" stroke-width="3.9"/>
<path d="M1339.3,1665.6C1339.3,1670.5 1338.6,1689.8 1339.3,1695.4C1339.9,1701.0 1342.5,1698.4 1343.1,1699.0M1332.6,1681.0 L1347.5,1680.5M1352.1,1663.0 L1352.1,1699.0M1352.1,1688.2C1353.2,1687.1 1356.3,1682.1 1358.7,1681.4C1361.1,1680.6 1364.8,1682.0 1366.4,1683.7C1368.0,1685.4 1368.0,1689.2 1368.3,1691.8C1368.6,1694.3 1368.3,1697.8 1368.3,1699.0M1374.4,1681.0 L1374.4,1699.0M1374.4,1688.2C1375.3,1687.2 1377.9,1683.0 1380.1,1681.9C1382.3,1680.9 1386.1,1681.9 1387.3,1681.9M1400.9,1681.0C1400.3,1681.1 1398.6,1681.2 1397.5,1681.7C1396.5,1682.1 1395.5,1682.8 1394.7,1683.6C1393.9,1684.4 1393.2,1685.5 1392.8,1686.6C1392.4,1687.6 1392.1,1688.9 1392.1,1690.0C1392.1,1691.1 1392.4,1692.4 1392.8,1693.4C1393.2,1694.5 1393.9,1695.6 1394.7,1696.4C1395.5,1697.2 1396.5,1697.9 1397.5,1698.3C1398.6,1698.8 1399.8,1699.0 1400.9,1699.0C1402.0,1699.0 1403.2,1698.8 1404.2,1698.3C1405.3,1697.9 1406.3,1697.2 1407.1,1696.4C1407.9,1695.6 1408.6,1694.5 1409.0,1693.4C1409.4,1692.4 1409.7,1691.1 1409.7,1690.0C1409.7,1688.9 1409.4,1687.6 1409.0,1686.6C1408.6,1685.5 1407.9,1684.4 1407.1,1683.6C1406.3,1682.8 1405.3,1682.1 1404.2,1681.7C1403.2,1681.2 1401.4,1681.1 1400.9,1681.0M1414.2,1681.0C1414.3,1683.1 1413.5,1690.6 1414.6,1693.6C1415.7,1696.6 1418.5,1698.8 1420.9,1699.0C1423.3,1699.2 1427.8,1695.2 1429.1,1694.5M1429.9,1681.0 L1429.9,1699.0M1452.8,1690.0C1452.7,1689.4 1452.5,1687.6 1452.1,1686.6C1451.7,1685.5 1451.0,1684.4 1450.3,1683.6C1449.5,1682.8 1448.5,1682.1 1447.5,1681.7C1446.5,1681.2 1445.3,1681.0 1444.2,1681.0C1443.1,1681.0 1441.9,1681.2 1440.9,1681.7C1439.9,1682.1 1438.9,1682.8 1438.1,1683.6C1437.3,1684.4 1436.7,1685.5 1436.3,1686.6C1435.8,1687.6 1435.6,1688.9 1435.6,1690.0C1435.6,1691.1 1435.8,1692.4 1436.3,1693.4C1436.7,1694.5 1437.3,1695.6 1438.1,1696.4C1438.9,1697.2 1439.9,1697.9 1440.9,1698.3C1441.9,1698.8 1443.1,1699.0 1444.2,1699.0C1445.3,1699.0 1446.5,1698.8 1447.5,1698.3C1448.5,1697.9 1449.5,1697.2 1450.3,1696.4C1451.0,1695.6 1451.7,1694.5 1452.1,1693.4C1452.5,1692.4 1452.7,1690.6 1452.8,1690.0M1452.8,1681.0C1452.8,1683.4 1452.8,1691.2 1452.8,1695.4C1452.7,1699.6 1453.5,1703.5 1452.4,1706.2C1451.3,1708.9 1448.6,1711.1 1446.1,1711.6C1443.6,1712.0 1438.9,1709.4 1437.5,1708.9M1458.9,1663.0 L1458.9,1699.0M1458.9,1688.2C1460.0,1687.1 1463.2,1682.1 1465.6,1681.4C1467.9,1680.6 1471.6,1682.0 1473.2,1683.7C1474.8,1685.4 1474.8,1689.2 1475.1,1691.8C1475.4,1694.3 1475.1,1697.8 1475.1,1699.0" stroke-width="3.9"/>
<circle cx="1035.4" cy="1773.4" r="2.3" class="f"/>
<path d="M1011.4,1757.4C1012.1,1757.3 1014.2,1757.2 1015.4,1756.8C1016.6,1756.5 1017.8,1755.9 1018.7,1755.2C1019.6,1754.5 1020.4,1753.6 1020.9,1752.7C1021.4,1751.8 1021.7,1750.8 1021.7,1749.8C1021.7,1748.8 1021.4,1747.8 1020.9,1746.9C1020.4,1746.0 1019.6,1745.1 1018.7,1744.4C1017.8,1743.7 1016.6,1743.1 1015.4,1742.8C1014.2,1742.4 1012.8,1742.2 1011.4,1742.2C1010.1,1742.2 1008.7,1742.4 1007.5,1742.8C1006.3,1743.1 1005.1,1743.7 1004.2,1744.4C1003.3,1745.1 1002.5,1746.0 1002.0,1746.9C1001.5,1747.8 1001.2,1748.8 1001.2,1749.8C1001.2,1750.8 1001.5,1751.8 1002.0,1752.7C1002.5,1753.6 1003.3,1754.5 1004.2,1755.2C1005.1,1755.9 1006.3,1756.5 1007.5,1756.8C1008.7,1757.2 1010.8,1757.3 1011.4,1757.4M1011.4,1757.4C1010.6,1757.5 1008.0,1757.6 1006.4,1758.1C1004.9,1758.5 1003.3,1759.1 1002.1,1759.9C1001.0,1760.7 999.9,1761.7 999.3,1762.7C998.6,1763.7 998.3,1764.9 998.3,1766.0C998.3,1767.0 998.6,1768.2 999.3,1769.2C999.9,1770.2 1001.0,1771.2 1002.1,1772.0C1003.3,1772.8 1004.9,1773.4 1006.4,1773.8C1008.0,1774.3 1009.8,1774.5 1011.4,1774.5C1013.1,1774.5 1014.9,1774.3 1016.5,1773.8C1018.0,1773.4 1019.6,1772.8 1020.8,1772.0C1021.9,1771.2 1023.0,1770.2 1023.6,1769.2C1024.3,1768.2 1024.6,1767.0 1024.6,1766.0C1024.6,1764.9 1024.3,1763.7 1023.6,1762.7C1023.0,1761.7 1021.9,1760.7 1020.8,1759.9C1019.6,1759.1 1018.0,1758.5 1016.5,1758.1C1014.9,1757.6 1012.3,1757.5 1011.4,1757.4" stroke-width="3.9"/>
<path d="M1060.7,1748.1 L1060.7,1776.0M1060.7,1748.1C1062.5,1748.2 1068.9,1747.3 1071.6,1748.5C1074.3,1749.6 1077.0,1753.0 1077.0,1755.2C1077.0,1757.4 1074.3,1760.6 1071.6,1761.7C1068.9,1762.9 1062.5,1762.0 1060.7,1762.0M1060.7,1762.0C1062.8,1762.1 1070.5,1761.2 1073.6,1762.4C1076.7,1763.5 1079.5,1766.8 1079.5,1769.0C1079.5,1771.2 1076.7,1774.5 1073.6,1775.7C1070.5,1776.9 1062.8,1775.9 1060.7,1776.0M1100.7,1763.3C1100.1,1762.9 1098.7,1761.6 1097.5,1761.2C1096.3,1760.7 1094.9,1760.5 1093.6,1760.5C1092.3,1760.5 1090.9,1760.8 1089.8,1761.4C1088.6,1761.9 1087.5,1762.7 1086.7,1763.6C1085.9,1764.5 1085.3,1765.6 1085.1,1766.7C1084.8,1767.8 1084.9,1769.1 1085.2,1770.2C1085.5,1771.2 1086.2,1772.4 1087.0,1773.2C1087.8,1774.1 1089.0,1774.9 1090.2,1775.3C1091.3,1775.8 1092.8,1776.0 1094.1,1776.0C1095.3,1776.0 1096.8,1775.7 1097.9,1775.1C1099.1,1774.6 1100.2,1773.8 1101.0,1772.9C1101.7,1772.0 1102.3,1770.9 1102.6,1769.8C1102.8,1768.7 1102.8,1767.4 1102.5,1766.3C1102.2,1765.3 1101.0,1763.8 1100.7,1763.3M1102.8,1760.5 L1103.2,1776.0M1124.9,1763.3C1124.4,1762.9 1123.1,1761.8 1122.0,1761.3C1121.0,1760.9 1119.7,1760.6 1118.6,1760.5C1117.4,1760.5 1116.1,1760.6 1115.0,1761.0C1113.9,1761.3 1112.8,1761.9 1111.9,1762.6C1111.1,1763.3 1110.3,1764.2 1109.8,1765.2C1109.4,1766.1 1109.1,1767.2 1109.1,1768.2C1109.1,1769.3 1109.4,1770.4 1109.8,1771.3C1110.3,1772.3 1111.1,1773.2 1111.9,1773.9C1112.8,1774.6 1113.9,1775.2 1115.0,1775.5C1116.1,1775.9 1117.4,1776.0 1118.6,1776.0C1119.7,1775.9 1121.0,1775.6 1122.0,1775.2C1123.1,1774.7 1124.4,1773.6 1124.9,1773.2M1131.3,1748.1 L1131.3,1776.0M1146.2,1759.6 L1132.3,1769.0 L1147.2,1776.0" stroke-width="3.9"/>
<path d="M1192.1,1744.4C1192.1,1748.8 1191.4,1766.1 1192.1,1771.1C1192.7,1776.1 1195.4,1773.9 1196.0,1774.5M1185.1,1757.5 L1200.6,1757.1M1205.4,1742.2 L1205.4,1774.5M1205.4,1764.3C1206.6,1763.2 1209.9,1758.5 1212.4,1757.8C1214.8,1757.1 1218.7,1758.4 1220.3,1760.0C1222.0,1761.7 1222.0,1765.3 1222.3,1767.7C1222.6,1770.1 1222.3,1773.4 1222.3,1774.5M1228.7,1757.5 L1228.7,1774.5M1228.7,1764.3C1229.7,1763.3 1232.4,1759.3 1234.6,1758.3C1236.9,1757.4 1240.9,1758.3 1242.2,1758.3M1256.3,1757.5C1255.7,1757.6 1253.9,1757.7 1252.8,1758.1C1251.7,1758.6 1250.7,1759.2 1249.9,1760.0C1249.0,1760.8 1248.3,1761.7 1247.9,1762.7C1247.4,1763.7 1247.2,1764.9 1247.2,1766.0C1247.2,1767.1 1247.4,1768.3 1247.9,1769.3C1248.3,1770.3 1249.0,1771.2 1249.9,1772.0C1250.7,1772.8 1251.7,1773.4 1252.8,1773.9C1253.9,1774.3 1255.2,1774.5 1256.3,1774.5C1257.5,1774.5 1258.7,1774.3 1259.8,1773.9C1260.9,1773.4 1262.0,1772.8 1262.8,1772.0C1263.6,1771.2 1264.3,1770.3 1264.8,1769.3C1265.2,1768.3 1265.5,1767.1 1265.5,1766.0C1265.5,1764.9 1265.2,1763.7 1264.8,1762.7C1264.3,1761.7 1263.6,1760.8 1262.8,1760.0C1262.0,1759.2 1260.9,1758.6 1259.8,1758.1C1258.7,1757.7 1256.9,1757.6 1256.3,1757.5M1270.2,1757.5C1270.3,1759.5 1269.5,1766.6 1270.6,1769.4C1271.8,1772.2 1274.7,1774.4 1277.2,1774.5C1279.7,1774.6 1284.3,1771.0 1285.8,1770.2M1286.6,1757.5 L1286.6,1774.5M1310.4,1766.0C1310.3,1765.5 1310.2,1763.7 1309.8,1762.7C1309.3,1761.7 1308.6,1760.8 1307.8,1760.0C1307.0,1759.2 1306.0,1758.6 1304.9,1758.1C1303.9,1757.7 1302.6,1757.5 1301.5,1757.5C1300.3,1757.5 1299.1,1757.7 1298.1,1758.1C1297.0,1758.6 1296.0,1759.2 1295.2,1760.0C1294.3,1760.8 1293.6,1761.7 1293.2,1762.7C1292.8,1763.7 1292.5,1764.9 1292.5,1766.0C1292.5,1767.1 1292.8,1768.3 1293.2,1769.3C1293.6,1770.3 1294.3,1771.2 1295.2,1772.0C1296.0,1772.8 1297.0,1773.4 1298.1,1773.9C1299.1,1774.3 1300.3,1774.5 1301.5,1774.5C1302.6,1774.5 1303.9,1774.3 1304.9,1773.9C1306.0,1773.4 1307.0,1772.8 1307.8,1772.0C1308.6,1771.2 1309.3,1770.3 1309.8,1769.3C1310.2,1768.3 1310.3,1766.5 1310.4,1766.0M1310.4,1757.5C1310.4,1759.8 1310.5,1767.1 1310.4,1771.1C1310.4,1775.1 1311.2,1778.8 1310.0,1781.3C1308.9,1783.8 1306.1,1786.0 1303.5,1786.4C1300.9,1786.8 1296.0,1784.3 1294.5,1783.8M1316.8,1742.2 L1316.8,1774.5M1316.8,1764.3C1318.0,1763.2 1321.3,1758.5 1323.8,1757.8C1326.3,1757.1 1330.1,1758.4 1331.7,1760.0C1333.4,1761.7 1333.4,1765.3 1333.7,1767.7C1334.0,1770.1 1333.7,1773.4 1333.7,1774.5" stroke-width="3.9"/>
<path d="M1374.2,1760.3C1373.8,1759.9 1372.5,1758.8 1371.5,1758.3C1370.4,1757.9 1369.2,1757.6 1368.0,1757.5C1366.9,1757.5 1365.6,1757.6 1364.6,1758.0C1363.5,1758.3 1362.4,1758.9 1361.5,1759.6C1360.7,1760.3 1360.0,1761.2 1359.5,1762.2C1359.1,1763.1 1358.8,1764.2 1358.8,1765.2C1358.8,1766.3 1359.1,1767.4 1359.5,1768.3C1360.0,1769.3 1360.7,1770.2 1361.5,1770.9C1362.4,1771.6 1363.5,1772.2 1364.6,1772.5C1365.6,1772.9 1366.9,1773.0 1368.0,1773.0C1369.2,1772.9 1370.4,1772.6 1371.5,1772.2C1372.5,1771.7 1373.8,1770.6 1374.2,1770.2M1380.6,1742.0 L1380.6,1773.0M1380.6,1763.7C1381.7,1762.7 1384.9,1758.5 1387.4,1757.8C1389.8,1757.2 1393.5,1758.3 1395.1,1759.8C1396.7,1761.3 1396.7,1764.6 1397.1,1766.8C1397.4,1769.0 1397.1,1772.0 1397.1,1773.0M1403.3,1757.5C1403.3,1759.3 1402.5,1765.8 1403.7,1768.3C1404.8,1770.9 1407.6,1772.9 1410.1,1773.0C1412.5,1773.1 1417.0,1769.8 1418.4,1769.1M1419.2,1757.5 L1419.2,1773.0M1431.8,1744.2C1431.8,1748.5 1431.2,1765.1 1431.8,1769.9C1432.5,1774.7 1435.1,1772.5 1435.7,1773.0M1425.0,1757.5 L1440.2,1757.1M1446.4,1765.2C1447.8,1765.2 1451.9,1765.1 1454.6,1764.9C1457.2,1764.8 1461.4,1765.3 1462.3,1764.5C1463.3,1763.6 1461.0,1760.9 1460.1,1759.9C1459.2,1758.8 1458.2,1758.4 1457.1,1758.0C1456.0,1757.7 1454.8,1757.5 1453.6,1757.5C1452.4,1757.6 1451.2,1757.8 1450.1,1758.3C1449.1,1758.8 1448.1,1759.5 1447.4,1760.4C1446.6,1761.2 1446.0,1762.2 1445.7,1763.2C1445.4,1764.3 1445.4,1765.4 1445.5,1766.5C1445.7,1767.5 1446.2,1768.6 1446.8,1769.5C1447.5,1770.4 1448.4,1771.2 1449.4,1771.8C1450.4,1772.4 1451.6,1772.8 1452.7,1772.9C1453.9,1773.1 1455.2,1773.0 1456.3,1772.7C1457.4,1772.4 1458.9,1771.4 1459.5,1771.2" stroke-width="3.9"/>
<circle cx="1036.6" cy="1848.9" r="2.3" class="f"/>
<path d="M1026.1,1826.2C1026.0,1825.7 1025.8,1824.0 1025.3,1823.0C1024.8,1822.0 1024.0,1821.0 1023.0,1820.2C1022.1,1819.4 1020.9,1818.8 1019.6,1818.4C1018.4,1817.9 1017.0,1817.7 1015.6,1817.7C1014.3,1817.7 1012.9,1817.9 1011.6,1818.4C1010.4,1818.8 1009.2,1819.4 1008.2,1820.2C1007.3,1821.0 1006.5,1822.0 1005.9,1823.0C1005.4,1824.0 1005.1,1825.2 1005.1,1826.2C1005.1,1827.3 1005.4,1828.5 1005.9,1829.5C1006.5,1830.5 1007.3,1831.5 1008.2,1832.3C1009.2,1833.1 1010.4,1833.7 1011.6,1834.1C1012.9,1834.6 1014.3,1834.8 1015.6,1834.8C1017.0,1834.8 1018.4,1834.6 1019.6,1834.1C1020.9,1833.7 1022.1,1833.1 1023.0,1832.3C1024.0,1831.5 1024.8,1830.5 1025.3,1829.5C1025.8,1828.5 1026.0,1826.8 1026.1,1826.2M1026.1,1826.2 L1023.1,1850.0" stroke-width="3.9"/>
<path d="M1060.2,1825.7 L1082.6,1825.1M1070.9,1825.4 L1071.5,1851.0M1086.9,1835.0 L1086.9,1851.0M1086.9,1841.4C1087.9,1840.5 1090.5,1836.7 1092.7,1835.8C1094.9,1834.9 1098.9,1835.8 1100.1,1835.8M1114.0,1835.0C1113.4,1835.1 1111.6,1835.2 1110.5,1835.6C1109.5,1836.0 1108.4,1836.6 1107.6,1837.3C1106.8,1838.1 1106.1,1839.0 1105.7,1839.9C1105.3,1840.9 1105.0,1842.0 1105.0,1843.0C1105.0,1844.0 1105.3,1845.1 1105.7,1846.1C1106.1,1847.0 1106.8,1847.9 1107.6,1848.7C1108.4,1849.4 1109.5,1850.0 1110.5,1850.4C1111.6,1850.8 1112.8,1851.0 1114.0,1851.0C1115.1,1851.0 1116.3,1850.8 1117.4,1850.4C1118.5,1850.0 1119.5,1849.4 1120.3,1848.7C1121.1,1847.9 1121.8,1847.0 1122.3,1846.1C1122.7,1845.1 1122.9,1844.0 1122.9,1843.0C1122.9,1842.0 1122.7,1840.9 1122.3,1839.9C1121.8,1839.0 1121.1,1838.1 1120.3,1837.3C1119.5,1836.6 1118.5,1836.0 1117.4,1835.6C1116.3,1835.2 1114.5,1835.1 1114.0,1835.0M1134.4,1826.8C1134.4,1830.3 1133.8,1843.8 1134.4,1847.8C1135.1,1851.8 1137.7,1850.5 1138.3,1851.0M1127.6,1835.0 L1142.8,1834.7" stroke-width="3.9"/>
<path d="M1183.5,1834.0C1183.0,1834.1 1181.3,1834.2 1180.3,1834.6C1179.4,1835.1 1178.4,1835.7 1177.7,1836.5C1176.9,1837.3 1176.3,1838.2 1175.9,1839.2C1175.5,1840.2 1175.3,1841.4 1175.3,1842.5C1175.3,1843.6 1175.5,1844.8 1175.9,1845.8C1176.3,1846.8 1176.9,1847.7 1177.7,1848.5C1178.4,1849.3 1179.4,1849.9 1180.3,1850.4C1181.3,1850.8 1182.4,1851.0 1183.5,1851.0C1184.5,1851.0 1185.7,1850.8 1186.6,1850.4C1187.6,1849.9 1188.6,1849.3 1189.3,1848.5C1190.0,1847.7 1190.7,1846.8 1191.1,1845.8C1191.5,1844.8 1191.7,1843.6 1191.7,1842.5C1191.7,1841.4 1191.5,1840.2 1191.1,1839.2C1190.7,1838.2 1190.0,1837.3 1189.3,1836.5C1188.6,1835.7 1187.6,1835.1 1186.6,1834.6C1185.7,1834.2 1184.0,1834.1 1183.5,1834.0M1196.0,1834.0 L1203.5,1851.0 L1211.2,1834.0M1216.5,1842.5C1217.8,1842.4 1221.6,1842.3 1224.0,1842.2C1226.5,1842.0 1230.3,1842.6 1231.2,1841.7C1232.0,1840.7 1229.9,1837.8 1229.1,1836.6C1228.3,1835.4 1227.4,1835.0 1226.4,1834.6C1225.4,1834.2 1224.2,1834.0 1223.2,1834.0C1222.1,1834.1 1220.9,1834.4 1220.0,1834.9C1219.0,1835.4 1218.1,1836.2 1217.4,1837.1C1216.7,1838.0 1216.2,1839.2 1215.9,1840.3C1215.6,1841.4 1215.6,1842.7 1215.7,1843.9C1215.9,1845.0 1216.3,1846.2 1216.9,1847.2C1217.5,1848.1 1218.4,1849.0 1219.3,1849.7C1220.2,1850.3 1221.3,1850.7 1222.4,1850.9C1223.4,1851.1 1224.6,1851.0 1225.6,1850.7C1226.7,1850.4 1228.1,1849.3 1228.5,1849.0M1236.0,1834.0 L1236.0,1851.0M1236.0,1840.8C1236.9,1839.8 1239.3,1835.8 1241.4,1834.8C1243.4,1833.9 1247.0,1834.8 1248.1,1834.8" stroke-width="3.9"/>
<path d="M1275.7,1832.0 L1275.7,1859.2M1276.3,1840.0C1276.4,1840.5 1276.5,1842.1 1276.9,1843.1C1277.4,1844.0 1278.1,1844.9 1278.8,1845.7C1279.6,1846.4 1280.6,1847.0 1281.7,1847.4C1282.7,1847.8 1283.9,1848.0 1285.0,1848.0C1286.1,1848.0 1287.3,1847.8 1288.4,1847.4C1289.4,1847.0 1290.4,1846.4 1291.2,1845.7C1292.0,1844.9 1292.7,1844.0 1293.1,1843.1C1293.5,1842.1 1293.8,1841.0 1293.8,1840.0C1293.8,1839.0 1293.5,1837.9 1293.1,1836.9C1292.7,1836.0 1292.0,1835.1 1291.2,1834.3C1290.4,1833.6 1289.4,1833.0 1288.4,1832.6C1287.3,1832.2 1286.1,1832.0 1285.0,1832.0C1283.9,1832.0 1282.7,1832.2 1281.7,1832.6C1280.6,1833.0 1279.6,1833.6 1278.8,1834.3C1278.1,1835.1 1277.4,1836.0 1276.9,1836.9C1276.5,1837.9 1276.4,1839.5 1276.3,1840.0M1308.5,1832.0C1308.0,1832.1 1306.2,1832.2 1305.1,1832.6C1304.1,1833.0 1303.0,1833.6 1302.2,1834.3C1301.4,1835.1 1300.7,1836.0 1300.3,1836.9C1299.8,1837.9 1299.6,1839.0 1299.6,1840.0C1299.6,1841.0 1299.8,1842.1 1300.3,1843.1C1300.7,1844.0 1301.4,1844.9 1302.2,1845.7C1303.0,1846.4 1304.1,1847.0 1305.1,1847.4C1306.2,1847.8 1307.4,1848.0 1308.5,1848.0C1309.7,1848.0 1310.9,1847.8 1312.0,1847.4C1313.0,1847.0 1314.1,1846.4 1314.9,1845.7C1315.7,1844.9 1316.4,1844.0 1316.8,1843.1C1317.2,1842.1 1317.5,1841.0 1317.5,1840.0C1317.5,1839.0 1317.2,1837.9 1316.8,1836.9C1316.4,1836.0 1315.7,1835.1 1314.9,1834.3C1314.1,1833.6 1313.0,1833.0 1312.0,1832.6C1310.9,1832.2 1309.1,1832.1 1308.5,1832.0M1324.5,1824.0 L1324.5,1848.0M1333.8,1840.0C1335.2,1839.9 1339.3,1839.8 1342.0,1839.7C1344.6,1839.5 1348.8,1840.1 1349.7,1839.2C1350.7,1838.3 1348.4,1835.5 1347.5,1834.4C1346.6,1833.3 1345.6,1833.0 1344.5,1832.6C1343.4,1832.2 1342.2,1832.0 1341.0,1832.0C1339.8,1832.1 1338.6,1832.4 1337.5,1832.9C1336.5,1833.3 1335.5,1834.1 1334.7,1834.9C1334.0,1835.8 1333.4,1836.9 1333.1,1837.9C1332.8,1839.0 1332.7,1840.2 1332.9,1841.3C1333.1,1842.4 1333.6,1843.5 1334.2,1844.4C1334.9,1845.3 1335.8,1846.2 1336.8,1846.7C1337.8,1847.3 1339.0,1847.8 1340.1,1847.9C1341.3,1848.1 1342.6,1848.0 1343.7,1847.7C1344.8,1847.4 1346.3,1846.4 1346.9,1846.1" stroke-width="3.9"/>
<path d="M1389.6,1824.9C1389.6,1827.9 1389.1,1839.7 1389.6,1843.3C1390.1,1846.9 1392.1,1845.8 1392.7,1846.3M1384.2,1831.3 L1396.2,1831.1M1407.1,1831.3C1406.7,1831.4 1405.2,1831.5 1404.4,1831.9C1403.6,1832.2 1402.8,1832.8 1402.1,1833.5C1401.5,1834.2 1400.9,1835.0 1400.6,1835.9C1400.2,1836.8 1400.0,1837.8 1400.0,1838.8C1400.0,1839.8 1400.2,1840.8 1400.6,1841.7C1400.9,1842.6 1401.5,1843.4 1402.1,1844.1C1402.8,1844.8 1403.6,1845.4 1404.4,1845.7C1405.2,1846.1 1406.2,1846.3 1407.1,1846.3C1408.0,1846.3 1409.0,1846.1 1409.8,1845.7C1410.7,1845.4 1411.5,1844.8 1412.1,1844.1C1412.8,1843.4 1413.3,1842.6 1413.7,1841.7C1414.0,1840.8 1414.2,1839.8 1414.2,1838.8C1414.2,1837.8 1414.0,1836.8 1413.7,1835.9C1413.3,1835.0 1412.8,1834.2 1412.1,1833.5C1411.5,1832.8 1410.7,1832.2 1409.8,1831.9C1409.0,1831.5 1407.6,1831.4 1407.1,1831.3" stroke-width="3.9"/>
<path d="M1443.2,1814.6 L1443.2,1846.3M1443.8,1837.5C1443.9,1838.1 1444.0,1839.8 1444.5,1840.9C1444.9,1841.9 1445.6,1842.9 1446.4,1843.7C1447.2,1844.5 1448.2,1845.2 1449.3,1845.6C1450.3,1846.1 1451.5,1846.3 1452.7,1846.3C1453.8,1846.3 1455.0,1846.1 1456.0,1845.6C1457.1,1845.2 1458.1,1844.5 1458.9,1843.7C1459.7,1842.9 1460.4,1841.9 1460.8,1840.9C1461.3,1839.8 1461.5,1838.6 1461.5,1837.5C1461.5,1836.4 1461.3,1835.2 1460.8,1834.1C1460.4,1833.1 1459.7,1832.1 1458.9,1831.3C1458.1,1830.5 1457.1,1829.8 1456.0,1829.4C1455.0,1828.9 1453.8,1828.7 1452.7,1828.7C1451.5,1828.7 1450.3,1828.9 1449.3,1829.4C1448.2,1829.8 1447.2,1830.5 1446.4,1831.3C1445.6,1832.1 1444.9,1833.1 1444.5,1834.1C1444.0,1835.2 1443.9,1836.9 1443.8,1837.5M1476.5,1828.7C1475.9,1828.8 1474.1,1828.9 1473.0,1829.4C1471.9,1829.8 1470.9,1830.5 1470.1,1831.3C1469.3,1832.1 1468.6,1833.1 1468.1,1834.1C1467.7,1835.2 1467.4,1836.4 1467.4,1837.5C1467.4,1838.6 1467.7,1839.8 1468.1,1840.9C1468.6,1841.9 1469.3,1842.9 1470.1,1843.7C1470.9,1844.5 1471.9,1845.2 1473.0,1845.6C1474.1,1846.1 1475.3,1846.3 1476.5,1846.3C1477.6,1846.3 1478.9,1846.1 1479.9,1845.6C1481.0,1845.2 1482.1,1844.5 1482.9,1843.7C1483.7,1842.9 1484.4,1841.9 1484.8,1840.9C1485.3,1839.8 1485.5,1838.6 1485.5,1837.5C1485.5,1836.4 1485.3,1835.2 1484.8,1834.1C1484.4,1833.1 1483.7,1832.1 1482.9,1831.3C1482.1,1830.5 1481.0,1829.8 1479.9,1829.4C1478.9,1828.9 1477.1,1828.8 1476.5,1828.7M1490.3,1828.7 L1507.0,1846.3M1507.0,1828.7 L1490.3,1846.3" stroke-width="3.9"/>
<path d="M1012.1,1890.1 L1012.7,1930.9" stroke-width="3.9"/>
<circle cx="1050.5" cy="1927.7" r="2.3" class="f"/>
<path d="M1034.5,1906.4C1034.0,1906.5 1032.1,1906.7 1031.0,1907.2C1029.9,1907.8 1028.9,1908.6 1028.1,1909.6C1027.2,1910.6 1026.5,1911.9 1026.1,1913.2C1025.6,1914.5 1025.4,1916.0 1025.4,1917.5C1025.4,1918.9 1025.6,1920.4 1026.1,1921.7C1026.5,1923.0 1027.2,1924.3 1028.1,1925.3C1028.9,1926.3 1029.9,1927.1 1031.0,1927.7C1032.1,1928.2 1033.4,1928.5 1034.5,1928.5C1035.7,1928.5 1037.0,1928.2 1038.0,1927.7C1039.1,1927.1 1040.2,1926.3 1041.0,1925.3C1041.9,1924.3 1042.6,1923.0 1043.0,1921.7C1043.5,1920.4 1043.7,1918.9 1043.7,1917.5C1043.7,1916.0 1043.5,1914.5 1043.0,1913.2C1042.6,1911.9 1041.9,1910.6 1041.0,1909.6C1040.2,1908.6 1039.1,1907.8 1038.0,1907.2C1037.0,1906.7 1035.1,1906.5 1034.5,1906.4" stroke-width="3.9"/>
<path d="M1079.0,1891.5 L1079.0,1929.3M1088.5,1908.3 L1088.5,1929.3M1088.5,1915.6C1090.0,1914.4 1094.8,1908.8 1097.9,1908.3C1101.0,1907.8 1105.2,1909.0 1106.9,1912.5C1108.5,1916.0 1107.7,1926.5 1107.8,1929.3" stroke-width="3.9"/>
<path d="M1130.4,1901.5 L1130.4,1929.0M1130.9,1919.5C1131.1,1920.1 1131.2,1922.0 1131.6,1923.1C1132.0,1924.3 1132.6,1925.4 1133.4,1926.2C1134.1,1927.1 1135.0,1927.8 1136.0,1928.3C1137.0,1928.7 1138.1,1929.0 1139.2,1929.0C1140.2,1929.0 1141.3,1928.7 1142.3,1928.3C1143.3,1927.8 1144.2,1927.1 1145.0,1926.2C1145.7,1925.4 1146.3,1924.3 1146.7,1923.1C1147.1,1922.0 1147.4,1920.7 1147.4,1919.5C1147.4,1918.3 1147.1,1917.0 1146.7,1915.9C1146.3,1914.7 1145.7,1913.6 1145.0,1912.8C1144.2,1911.9 1143.3,1911.2 1142.3,1910.7C1141.3,1910.3 1140.2,1910.0 1139.2,1910.0C1138.1,1910.0 1137.0,1910.3 1136.0,1910.7C1135.0,1911.2 1134.1,1911.9 1133.4,1912.8C1132.6,1913.6 1132.0,1914.7 1131.6,1915.9C1131.2,1917.0 1131.1,1918.9 1130.9,1919.5M1161.2,1910.0C1160.7,1910.1 1159.0,1910.3 1158.0,1910.7C1157.0,1911.2 1156.1,1911.9 1155.3,1912.8C1154.5,1913.6 1153.9,1914.7 1153.5,1915.9C1153.1,1917.0 1152.8,1918.3 1152.8,1919.5C1152.8,1920.7 1153.1,1922.0 1153.5,1923.1C1153.9,1924.3 1154.5,1925.4 1155.3,1926.2C1156.1,1927.1 1157.0,1927.8 1158.0,1928.3C1159.0,1928.7 1160.2,1929.0 1161.2,1929.0C1162.3,1929.0 1163.4,1928.7 1164.4,1928.3C1165.4,1927.8 1166.4,1927.1 1167.2,1926.2C1167.9,1925.4 1168.6,1924.3 1169.0,1923.1C1169.4,1922.0 1169.6,1920.7 1169.6,1919.5C1169.6,1918.3 1169.4,1917.0 1169.0,1915.9C1168.6,1914.7 1167.9,1913.6 1167.2,1912.8C1166.4,1911.9 1165.4,1911.2 1164.4,1910.7C1163.4,1910.3 1161.8,1910.1 1161.2,1910.0M1174.0,1910.0 L1189.5,1929.0M1189.5,1910.0 L1174.0,1929.0" stroke-width="3.9"/>
<path d="M1241.8,1920.0C1241.7,1919.4 1241.6,1917.4 1241.2,1916.2C1240.7,1915.0 1240.1,1913.8 1239.3,1912.9C1238.5,1912.0 1237.5,1911.2 1236.5,1910.8C1235.5,1910.3 1234.3,1910.0 1233.2,1910.0C1232.1,1910.0 1230.9,1910.3 1229.9,1910.8C1228.9,1911.2 1227.9,1912.0 1227.1,1912.9C1226.3,1913.8 1225.7,1915.0 1225.3,1916.2C1224.8,1917.4 1224.6,1918.7 1224.6,1920.0C1224.6,1921.3 1224.8,1922.6 1225.3,1923.8C1225.7,1925.0 1226.3,1926.2 1227.1,1927.1C1227.9,1928.0 1228.9,1928.8 1229.9,1929.2C1230.9,1929.7 1232.1,1930.0 1233.2,1930.0C1234.3,1930.0 1235.5,1929.7 1236.5,1929.2C1237.5,1928.8 1238.5,1928.0 1239.3,1927.1C1240.1,1926.2 1240.7,1925.0 1241.2,1923.8C1241.6,1922.6 1241.7,1920.6 1241.8,1920.0M1242.2,1899.0 L1242.2,1930.0M1256.9,1910.0C1256.4,1910.1 1254.6,1910.3 1253.6,1910.8C1252.5,1911.2 1251.5,1912.0 1250.7,1912.9C1249.9,1913.8 1249.2,1915.0 1248.8,1916.2C1248.4,1917.4 1248.1,1918.7 1248.1,1920.0C1248.1,1921.3 1248.4,1922.6 1248.8,1923.8C1249.2,1925.0 1249.9,1926.2 1250.7,1927.1C1251.5,1928.0 1252.5,1928.8 1253.6,1929.2C1254.6,1929.7 1255.8,1930.0 1256.9,1930.0C1258.0,1930.0 1259.3,1929.7 1260.3,1929.2C1261.3,1928.8 1262.3,1928.0 1263.1,1927.1C1263.9,1926.2 1264.6,1925.0 1265.0,1923.8C1265.5,1922.6 1265.7,1921.3 1265.7,1920.0C1265.7,1918.7 1265.5,1917.4 1265.0,1916.2C1264.6,1915.0 1263.9,1913.8 1263.1,1912.9C1262.3,1912.0 1261.3,1911.2 1260.3,1910.8C1259.3,1910.3 1257.5,1910.1 1256.9,1910.0" stroke-width="3.9"/>
<path d="M1294.0,1901.4C1295.1,1900.7 1298.8,1896.9 1300.9,1897.4C1302.9,1897.9 1306.5,1901.7 1306.2,1904.3C1306.0,1906.9 1300.5,1911.7 1299.3,1913.2M1299.3,1913.2C1300.6,1914.5 1306.8,1918.1 1307.0,1921.1C1307.3,1924.0 1303.2,1929.9 1300.9,1930.9C1298.6,1931.9 1294.5,1927.6 1293.2,1927.0M1323.4,1897.4C1322.2,1899.1 1317.7,1903.3 1315.8,1907.3C1313.8,1911.2 1311.5,1917.1 1311.9,1921.1C1312.3,1925.0 1315.9,1930.6 1318.1,1930.9C1320.2,1931.2 1324.8,1925.8 1325.0,1923.0C1325.1,1920.2 1320.9,1914.5 1318.8,1914.2C1316.8,1913.8 1313.7,1919.9 1312.7,1921.1M1337.1,1897.4C1336.6,1897.6 1335.1,1897.9 1334.2,1898.7C1333.2,1899.5 1332.4,1900.8 1331.7,1902.3C1331.0,1903.8 1330.4,1905.8 1330.0,1907.7C1329.6,1909.7 1329.4,1912.0 1329.4,1914.2C1329.4,1916.3 1329.6,1918.6 1330.0,1920.6C1330.4,1922.5 1331.0,1924.5 1331.7,1926.0C1332.4,1927.5 1333.2,1928.8 1334.2,1929.6C1335.1,1930.4 1336.1,1930.9 1337.1,1930.9C1338.1,1930.9 1339.1,1930.4 1340.0,1929.6C1340.9,1928.8 1341.8,1927.5 1342.5,1926.0C1343.2,1924.5 1343.8,1922.5 1344.2,1920.6C1344.5,1918.6 1344.8,1916.3 1344.8,1914.2C1344.8,1912.0 1344.5,1909.7 1344.2,1907.7C1343.8,1905.8 1343.2,1903.8 1342.5,1902.3C1341.8,1900.8 1340.9,1899.5 1340.0,1898.7C1339.1,1897.9 1337.6,1897.6 1337.1,1897.4M1352.0,1897.4C1351.8,1897.5 1351.2,1897.5 1350.8,1897.7C1350.4,1897.9 1350.1,1898.2 1349.8,1898.6C1349.5,1898.9 1349.3,1899.4 1349.1,1899.8C1349.0,1900.3 1348.9,1900.8 1348.9,1901.4C1348.9,1901.9 1349.0,1902.4 1349.1,1902.9C1349.3,1903.3 1349.5,1903.8 1349.8,1904.1C1350.1,1904.5 1350.4,1904.8 1350.8,1905.0C1351.2,1905.2 1351.6,1905.3 1352.0,1905.3C1352.4,1905.3 1352.8,1905.2 1353.1,1905.0C1353.5,1904.8 1353.9,1904.5 1354.1,1904.1C1354.4,1903.8 1354.7,1903.3 1354.8,1902.9C1355.0,1902.4 1355.0,1901.9 1355.0,1901.4C1355.0,1900.8 1355.0,1900.3 1354.8,1899.8C1354.7,1899.4 1354.4,1898.9 1354.1,1898.6C1353.9,1898.2 1353.5,1897.9 1353.1,1897.7C1352.8,1897.5 1352.2,1897.5 1352.0,1897.4" stroke-width="3.9"/>
<path d="M1385.1,1903.9C1385.1,1907.7 1384.5,1922.7 1385.1,1927.2C1385.6,1931.7 1387.8,1930.4 1388.3,1931.0M1379.4,1912.0 L1392.0,1911.7M1403.5,1912.0C1403.1,1912.1 1401.6,1912.3 1400.7,1912.7C1399.8,1913.2 1398.9,1913.9 1398.3,1914.8C1397.6,1915.6 1397.0,1916.7 1396.6,1917.9C1396.3,1919.0 1396.1,1920.3 1396.1,1921.5C1396.1,1922.7 1396.3,1924.0 1396.6,1925.1C1397.0,1926.3 1397.6,1927.4 1398.3,1928.2C1398.9,1929.1 1399.8,1929.8 1400.7,1930.3C1401.6,1930.7 1402.6,1931.0 1403.5,1931.0C1404.5,1931.0 1405.5,1930.7 1406.4,1930.3C1407.3,1929.8 1408.1,1929.1 1408.8,1928.2C1409.5,1927.4 1410.0,1926.3 1410.4,1925.1C1410.8,1924.0 1411.0,1922.7 1411.0,1921.5C1411.0,1920.3 1410.8,1919.0 1410.4,1917.9C1410.0,1916.7 1409.5,1915.6 1408.8,1914.8C1408.1,1913.9 1407.3,1913.2 1406.4,1912.7C1405.5,1912.3 1404.0,1912.1 1403.5,1912.0" stroke-width="3.9"/>
<circle cx="1447.9" cy="1902.4" r="2.3" class="f"/>
<circle cx="1519.7" cy="1929.7" r="2.3" class="f"/>
<path d="M1428.9,1911.7 L1428.9,1930.9M1428.9,1919.4C1429.8,1918.3 1432.3,1913.8 1434.4,1912.7C1436.5,1911.5 1440.2,1912.7 1441.3,1912.7M1447.9,1911.7 L1447.9,1930.9M1471.7,1921.3C1471.6,1920.7 1471.4,1918.8 1471.0,1917.6C1470.6,1916.5 1470.0,1915.4 1469.2,1914.5C1468.5,1913.6 1467.5,1912.9 1466.6,1912.4C1465.6,1912.0 1464.5,1911.7 1463.4,1911.7C1462.4,1911.7 1461.3,1912.0 1460.3,1912.4C1459.3,1912.9 1458.4,1913.6 1457.6,1914.5C1456.9,1915.4 1456.2,1916.5 1455.8,1917.6C1455.4,1918.8 1455.2,1920.1 1455.2,1921.3C1455.2,1922.5 1455.4,1923.8 1455.8,1925.0C1456.2,1926.1 1456.9,1927.2 1457.6,1928.1C1458.4,1929.0 1459.3,1929.7 1460.3,1930.2C1461.3,1930.6 1462.4,1930.9 1463.4,1930.9C1464.5,1930.9 1465.6,1930.6 1466.6,1930.2C1467.5,1929.7 1468.5,1929.0 1469.2,1928.1C1470.0,1927.2 1470.6,1926.1 1471.0,1925.0C1471.4,1923.8 1471.6,1921.9 1471.7,1921.3M1471.7,1911.7C1471.7,1914.3 1471.7,1922.6 1471.7,1927.1C1471.6,1931.5 1472.4,1935.7 1471.3,1938.6C1470.2,1941.5 1467.6,1943.9 1465.3,1944.3C1462.9,1944.8 1458.4,1941.9 1457.0,1941.5M1477.5,1895.4 L1477.5,1930.9M1477.5,1919.4C1478.6,1918.2 1481.6,1912.9 1483.9,1912.1C1486.2,1911.3 1489.7,1912.7 1491.2,1914.6C1492.7,1916.4 1492.7,1920.5 1493.0,1923.2C1493.3,1925.9 1493.0,1929.6 1493.0,1930.9M1505.3,1897.7C1505.3,1902.6 1504.7,1921.5 1505.3,1927.1C1505.9,1932.6 1508.3,1930.3 1508.9,1930.9M1498.9,1911.7 L1513.1,1911.2" stroke-width="3.9"/>
<circle cx="1156.6" cy="1964.9" r="2.3" class="f"/>
<circle cx="1190.4" cy="1990.4" r="2.3" class="f"/>
<path d="M1124.6,1959.2 L1104.9,1959.2 L1104.9,1991.5 L1124.6,1991.5M1104.9,1975.3 L1120.2,1975.3M1130.5,1972.5 L1149.2,1991.5M1149.2,1972.5 L1130.5,1991.5M1156.6,1972.5 L1156.6,1991.5M1173.0,1961.1C1173.0,1965.5 1172.3,1982.6 1173.0,1987.7C1173.8,1992.8 1176.7,1990.9 1177.4,1991.5M1165.4,1972.5 L1182.5,1972.1" stroke-width="3.9"/>
<path d="M1513.4,2166.3 L1527.8,2167.8" stroke-width="5"/>
<path d="M1527.8,2159.1 L1530.0,2192.3" stroke-width="5"/>
<path d="M1540.0,2160.6 L1540.8,2192.3" stroke-width="5"/>
<path d="M1540.0,2162.0C1541.5,2162.0 1547.7,2159.3 1549.0,2162.0C1550.3,2164.7 1549.3,2175.0 1548.0,2178.0C1546.7,2181.0 1542.2,2179.7 1541.0,2180.0" stroke-width="4.5"/>
<path d="M1545.0,2189.0 L1559.0,2189.0" stroke-width="4.5"/>
<path d="M1559.5,2177.9 L1571.0,2172.1" stroke-width="5"/>
<path d="M1598.4,2162.0C1600.3,2160.7 1607.1,2152.4 1610.0,2154.1C1612.9,2155.8 1617.4,2167.6 1615.8,2172.1C1614.2,2176.6 1602.3,2176.7 1600.6,2180.8C1598.9,2184.9 1602.1,2196.2 1605.7,2196.6C1609.3,2196.9 1619.5,2185.2 1622.2,2182.9" stroke-width="4"/>
<path d="M1622.2,2149.8 L1646.8,2191.6" stroke-width="4.5"/>
<circle cx="103.0" cy="255.0" r="1.2" class="f"/>
<circle cx="393.0" cy="818.0" r="1.3" class="f"/>
<circle cx="490.0" cy="810.0" r="1.3" class="f"/>
<circle cx="105.0" cy="2014.0" r="1" class="f"/>
<circle cx="85.6" cy="1611.8" r="1.3" class="f"/>
<circle cx="1265.0" cy="1810.0" r="1" class="f"/>
</svg>
</body></html>
